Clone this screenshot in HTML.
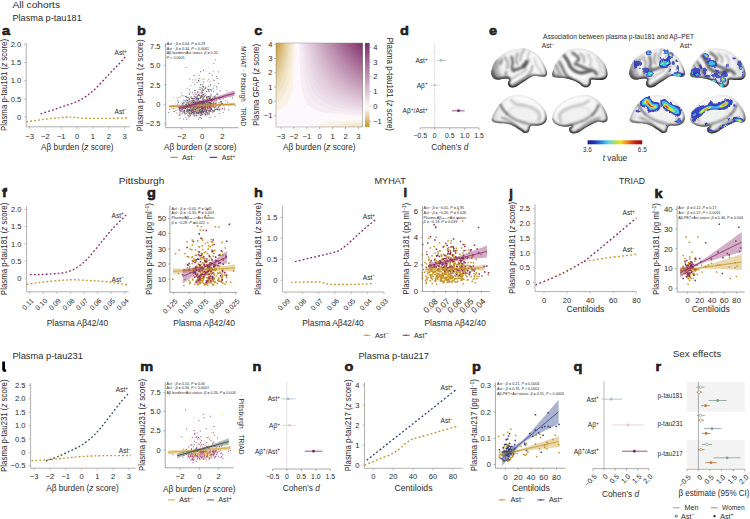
<!DOCTYPE html>
<html><head><meta charset="utf-8"><title>Figure</title>
<style>html,body{margin:0;padding:0;background:#fff}svg{display:block}text{font-family:"Liberation Sans",sans-serif;fill:#2b2b2b}</style></head>
<body>
<svg width="750" height="519" viewBox="0 0 750 519">
<defs>
<clipPath id="hclip"><rect x="276" y="43" width="86.6" height="84"/></clipPath>
<linearGradient id="cbar" x1="0" y1="0" x2="0" y2="1"><stop offset="0" stop-color="#802d69"/><stop offset="0.05" stop-color="#883a72"/><stop offset="0.1" stop-color="#90467b"/><stop offset="0.15" stop-color="#985385"/><stop offset="0.2" stop-color="#a0608e"/><stop offset="0.25" stop-color="#a86d97"/><stop offset="0.3" stop-color="#b07aa1"/><stop offset="0.35" stop-color="#b888aa"/><stop offset="0.4" stop-color="#c095b4"/><stop offset="0.45" stop-color="#c8a2be"/><stop offset="0.5" stop-color="#d1b0c7"/><stop offset="0.55" stop-color="#d9bdd1"/><stop offset="0.6" stop-color="#e1cbdb"/><stop offset="0.65" stop-color="#ead9e5"/><stop offset="0.7" stop-color="#f3e7f0"/><stop offset="0.75" stop-color="#fcf6fb"/><stop offset="0.8" stop-color="#f7eedd"/><stop offset="0.85" stop-color="#ebdab5"/><stop offset="0.9" stop-color="#dec386"/><stop offset="0.95" stop-color="#d0aa54"/><stop offset="1" stop-color="#c69830"/></linearGradient>
<filter id="bl1" filterUnits="userSpaceOnUse" x="480" y="30" width="270" height="120"><feGaussianBlur stdDeviation="1.2"/></filter>
<filter id="bl2" filterUnits="userSpaceOnUse" x="480" y="30" width="270" height="120"><feGaussianBlur stdDeviation="0.8"/></filter>
<filter id="bl3" filterUnits="userSpaceOnUse" x="480" y="30" width="270" height="120"><feGaussianBlur stdDeviation="1.8"/></filter>
<filter id="bl4" x="-20%" y="-20%" width="140%" height="140%"><feTurbulence type="fractalNoise" baseFrequency="0.22" numOctaves="2" seed="4" result="n"/><feDisplacementMap in="SourceGraphic" in2="n" scale="3.2" xChannelSelector="R" yChannelSelector="G"/><feGaussianBlur stdDeviation="0.32"/></filter>
<linearGradient id="edge" x1="0" y1="0" x2="0.25" y2="1"><stop offset="0" stop-color="#bbb" stop-opacity="0.2"/><stop offset="0.55" stop-color="#888" stop-opacity="0.4"/><stop offset="0.8" stop-color="#333" stop-opacity="0.9"/><stop offset="1" stop-color="#111" stop-opacity="1"/></linearGradient>
<filter id="bl5"><feGaussianBlur stdDeviation="0.4"/></filter>
<radialGradient id="bg1" cx="0.62" cy="0.38" r="0.75"><stop offset="0" stop-color="#ffffff"/><stop offset="0.55" stop-color="#f3f3f3"/><stop offset="0.85" stop-color="#dadada"/><stop offset="1" stop-color="#a0a0a0"/></radialGradient>
<radialGradient id="bg2" cx="0.40" cy="0.38" r="0.75"><stop offset="0" stop-color="#ffffff"/><stop offset="0.55" stop-color="#f3f3f3"/><stop offset="0.85" stop-color="#dadada"/><stop offset="1" stop-color="#a0a0a0"/></radialGradient>
<clipPath id="cb1"><path d="M491.24 71.75C491.58 69.98 492.55 66.51 493.55 64.35C494.55 62.19 495.71 60.5 497.25 58.8C498.79 57.11 500.64 55.56 502.8 54.18C504.96 52.79 507.58 51.4 510.2 50.48C512.82 49.55 516.06 49.01 518.53 48.63C520.99 48.24 522.84 47.85 525 48.16C527.16 48.47 529.32 49.32 531.48 50.48C533.64 51.63 536.1 53.25 537.95 55.1C539.8 56.95 541.27 59.42 542.58 61.58C543.89 63.73 545.05 66.05 545.82 68.05C546.59 70.06 547.28 72.21 547.2 73.6C547.13 74.99 546.59 75.88 545.35 76.38C544.12 76.87 541.81 76.64 539.8 76.56C537.8 76.49 535.18 75.61 533.33 75.91C531.48 76.22 530.4 77.38 528.7 78.41C527.01 79.45 525 80.91 523.15 82.11C521.3 83.32 519.3 84.73 517.6 85.63C515.91 86.52 514.36 87.32 512.98 87.48C511.59 87.63 510.12 87.32 509.28 86.55C508.43 85.78 507.92 84.01 507.89 82.85C507.86 81.7 509.32 80.36 509.09 79.62C508.86 78.88 507.7 78.52 506.5 78.41C505.3 78.3 503.42 78.77 501.88 78.97C500.33 79.17 498.64 79.74 497.25 79.62C495.86 79.49 494.51 79 493.55 78.23C492.59 77.46 491.9 76.07 491.52 74.99C491.13 73.91 490.9 73.53 491.24 71.75Z"/></clipPath>
<clipPath id="cb2"><path d="M552.16 73.6C552.52 72.03 553.47 68.51 554.48 66.2C555.48 63.89 556.63 61.88 558.18 59.73C559.72 57.57 561.72 55.02 563.73 53.25C565.73 51.48 567.73 49.94 570.2 49.09C572.67 48.24 575.75 48.09 578.53 48.16C581.3 48.24 584.23 48.7 586.85 49.55C589.47 50.4 591.94 51.71 594.25 53.25C596.57 54.79 598.88 56.8 600.73 58.8C602.58 60.81 604.24 63.12 605.35 65.28C606.46 67.44 607.08 69.9 607.39 71.75C607.7 73.6 607.85 75.07 607.2 76.38C606.56 77.69 605.05 79 603.5 79.62C601.96 80.23 599.96 80.08 597.95 80.08C595.95 80.08 592.68 79 591.48 79.62C590.28 80.23 591.35 82.54 590.74 83.78C590.12 85.01 589.04 86.52 587.78 87.02C586.51 87.51 584.69 87.4 583.15 86.74C581.61 86.08 580.22 84.12 578.53 83.04C576.83 81.96 574.98 81.03 572.98 80.26C570.97 79.49 568.66 78.81 566.5 78.41C564.34 78.01 562.03 78.04 560.03 77.86C558.02 77.67 555.76 77.67 554.48 77.3C553.2 76.93 552.73 76.25 552.35 75.64C551.96 75.02 551.81 75.17 552.16 73.6Z"/></clipPath>
<clipPath id="cb3"><path d="M491.7 118.68C491.98 117.1 493.24 114.51 494.48 112.2C495.71 109.89 497.4 106.96 499.1 104.8C500.8 102.64 502.65 100.76 504.65 99.25C506.66 97.74 508.66 96.43 511.13 95.74C513.59 95.04 516.68 94.96 519.45 95.09C522.23 95.21 525.16 95.63 527.78 96.48C530.4 97.32 532.87 98.63 535.18 100.18C537.49 101.72 539.88 103.72 541.65 105.73C543.43 107.73 544.95 110.04 545.82 112.2C546.68 114.36 547.07 116.83 546.83 118.68C546.6 120.53 545.76 122.15 544.43 123.3C543.1 124.46 541.04 125.21 538.88 125.62C536.72 126.02 532.99 125.32 531.48 125.71C529.97 126.09 530.28 126.94 529.81 127.93C529.35 128.91 529.5 130.76 528.7 131.63C527.9 132.49 526.24 133.23 525 133.11C523.77 132.98 522.84 131.87 521.3 130.89C519.76 129.9 517.6 128.27 515.75 127.19C513.9 126.11 512.21 125.06 510.2 124.41C508.2 123.77 505.88 123.55 503.73 123.3C501.57 123.06 499.07 123.21 497.25 122.93C495.43 122.65 493.74 122.35 492.81 121.64C491.89 120.93 491.42 120.25 491.7 118.68Z"/></clipPath>
<clipPath id="cb4"><path d="M552.16 117.75C552.36 116.44 552.7 114.05 553.55 112.2C554.4 110.35 555.71 108.35 557.25 106.65C558.79 104.96 560.64 103.49 562.8 102.03C564.96 100.56 567.58 98.94 570.2 97.86C572.82 96.78 575.75 96.01 578.53 95.55C581.3 95.09 584.23 94.78 586.85 95.09C589.47 95.4 592.09 96.24 594.25 97.4C596.41 98.56 598.11 100.18 599.8 102.03C601.5 103.88 603.2 106.34 604.43 108.5C605.66 110.66 606.74 112.97 607.2 114.98C607.67 116.98 607.82 119.26 607.2 120.53C606.59 121.79 605.05 122.38 603.5 122.56C601.96 122.75 599.96 121.33 597.95 121.64C595.95 121.95 593.64 123.33 591.48 124.41C589.32 125.49 587.01 126.88 585 128.11C583 129.35 581.3 130.92 579.45 131.81C577.6 132.71 575.49 133.43 573.9 133.48C572.31 133.52 570.7 132.98 569.92 132.09C569.15 131.2 568.95 129.15 569.28 128.11C569.6 127.08 572.33 126.14 571.87 125.89C571.4 125.65 568.47 126.6 566.5 126.63C564.53 126.66 562.03 126.63 560.03 126.08C558.02 125.52 555.76 124.3 554.48 123.3C553.2 122.3 552.73 120.99 552.35 120.06C551.96 119.14 551.96 119.06 552.16 117.75Z"/></clipPath>
<clipPath id="cb5"><path d="M629.24 71.75C629.58 69.98 630.55 66.51 631.55 64.35C632.55 62.19 633.71 60.5 635.25 58.8C636.79 57.11 638.64 55.56 640.8 54.18C642.96 52.79 645.58 51.4 648.2 50.48C650.82 49.55 654.06 49.01 656.53 48.63C658.99 48.24 660.84 47.85 663 48.16C665.16 48.47 667.32 49.32 669.48 50.48C671.64 51.63 674.1 53.25 675.95 55.1C677.8 56.95 679.27 59.42 680.58 61.58C681.89 63.73 683.05 66.05 683.82 68.05C684.59 70.06 685.28 72.21 685.2 73.6C685.13 74.99 684.59 75.88 683.35 76.38C682.12 76.87 679.81 76.64 677.8 76.56C675.8 76.49 673.18 75.61 671.33 75.91C669.48 76.22 668.4 77.38 666.7 78.41C665.01 79.45 663 80.91 661.15 82.11C659.3 83.32 657.3 84.73 655.6 85.63C653.91 86.52 652.36 87.32 650.98 87.48C649.59 87.63 648.12 87.32 647.28 86.55C646.43 85.78 645.92 84.01 645.89 82.85C645.86 81.7 647.32 80.36 647.09 79.62C646.86 78.88 645.7 78.52 644.5 78.41C643.3 78.3 641.42 78.77 639.88 78.97C638.33 79.17 636.64 79.74 635.25 79.62C633.86 79.49 632.51 79 631.55 78.23C630.59 77.46 629.9 76.07 629.52 74.99C629.13 73.91 628.9 73.53 629.24 71.75Z"/></clipPath>
<clipPath id="cb6"><path d="M690.16 73.6C690.52 72.03 691.47 68.51 692.48 66.2C693.48 63.89 694.63 61.88 696.18 59.73C697.72 57.57 699.72 55.02 701.73 53.25C703.73 51.48 705.73 49.94 708.2 49.09C710.67 48.24 713.75 48.09 716.53 48.16C719.3 48.24 722.23 48.7 724.85 49.55C727.47 50.4 729.94 51.71 732.25 53.25C734.57 54.79 736.88 56.8 738.73 58.8C740.58 60.81 742.24 63.12 743.35 65.28C744.46 67.44 745.08 69.9 745.39 71.75C745.7 73.6 745.85 75.07 745.2 76.38C744.56 77.69 743.05 79 741.5 79.62C739.96 80.23 737.96 80.08 735.95 80.08C733.95 80.08 730.68 79 729.48 79.62C728.28 80.23 729.35 82.54 728.74 83.78C728.12 85.01 727.04 86.52 725.78 87.02C724.51 87.51 722.69 87.4 721.15 86.74C719.61 86.08 718.22 84.12 716.53 83.04C714.83 81.96 712.98 81.03 710.98 80.26C708.97 79.49 706.66 78.81 704.5 78.41C702.34 78.01 700.03 78.04 698.03 77.86C696.02 77.67 693.76 77.67 692.48 77.3C691.2 76.93 690.73 76.25 690.35 75.64C689.96 75.02 689.81 75.17 690.16 73.6Z"/></clipPath>
<clipPath id="cb7"><path d="M629.7 118.68C629.98 117.1 631.24 114.51 632.48 112.2C633.71 109.89 635.4 106.96 637.1 104.8C638.8 102.64 640.65 100.76 642.65 99.25C644.66 97.74 646.66 96.43 649.13 95.74C651.59 95.04 654.68 94.96 657.45 95.09C660.23 95.21 663.16 95.63 665.78 96.48C668.4 97.32 670.87 98.63 673.18 100.18C675.49 101.72 677.88 103.72 679.65 105.73C681.43 107.73 682.95 110.04 683.82 112.2C684.68 114.36 685.07 116.83 684.83 118.68C684.6 120.53 683.76 122.15 682.43 123.3C681.1 124.46 679.04 125.21 676.88 125.62C674.72 126.02 670.99 125.32 669.48 125.71C667.97 126.09 668.28 126.94 667.81 127.93C667.35 128.91 667.5 130.76 666.7 131.63C665.9 132.49 664.24 133.23 663 133.11C661.77 132.98 660.84 131.87 659.3 130.89C657.76 129.9 655.6 128.27 653.75 127.19C651.9 126.11 650.21 125.06 648.2 124.41C646.2 123.77 643.88 123.55 641.73 123.3C639.57 123.06 637.07 123.21 635.25 122.93C633.43 122.65 631.74 122.35 630.81 121.64C629.89 120.93 629.42 120.25 629.7 118.68Z"/></clipPath>
<clipPath id="cb8"><path d="M690.16 117.75C690.36 116.44 690.7 114.05 691.55 112.2C692.4 110.35 693.71 108.35 695.25 106.65C696.79 104.96 698.64 103.49 700.8 102.03C702.96 100.56 705.58 98.94 708.2 97.86C710.82 96.78 713.75 96.01 716.53 95.55C719.3 95.09 722.23 94.78 724.85 95.09C727.47 95.4 730.09 96.24 732.25 97.4C734.41 98.56 736.11 100.18 737.8 102.03C739.5 103.88 741.2 106.34 742.43 108.5C743.66 110.66 744.74 112.97 745.2 114.98C745.67 116.98 745.82 119.26 745.2 120.53C744.59 121.79 743.05 122.38 741.5 122.56C739.96 122.75 737.96 121.33 735.95 121.64C733.95 121.95 731.64 123.33 729.48 124.41C727.32 125.49 725.01 126.88 723 128.11C721 129.35 719.3 130.92 717.45 131.81C715.6 132.71 713.49 133.43 711.9 133.48C710.31 133.52 708.7 132.98 707.92 132.09C707.15 131.2 706.95 129.15 707.28 128.11C707.6 127.08 710.33 126.14 709.87 125.89C709.4 125.65 706.47 126.6 704.5 126.63C702.53 126.66 700.03 126.63 698.03 126.08C696.02 125.52 693.76 124.3 692.48 123.3C691.2 122.3 690.73 120.99 690.35 120.06C689.96 119.14 689.96 119.06 690.16 117.75Z"/></clipPath>
<filter id="bl6" x="-20%" y="-20%" width="140%" height="140%"><feTurbulence type="fractalNoise" baseFrequency="0.3" numOctaves="2" seed="9" result="n"/><feDisplacementMap in="SourceGraphic" in2="n" scale="1.6" xChannelSelector="R" yChannelSelector="G"/><feGaussianBlur stdDeviation="0.3"/></filter>
<linearGradient id="jet"><stop offset="0" stop-color="#1b1a80"/><stop offset="0.12" stop-color="#2230c0"/><stop offset="0.27" stop-color="#2a90e0"/><stop offset="0.38" stop-color="#58d8d8"/><stop offset="0.5" stop-color="#a8e060"/><stop offset="0.6" stop-color="#f0e020"/><stop offset="0.72" stop-color="#f08818"/><stop offset="0.86" stop-color="#d02010"/><stop offset="1" stop-color="#8e0c0c"/></linearGradient>
</defs>
<rect width="750" height="519" fill="#fff"/>
<text x="12.4" y="7.9" font-size="9.5" textLength="47.6" lengthAdjust="spacingAndGlyphs">All cohorts</text>
<text x="12.4" y="20.9" font-size="9.5" textLength="69.4" lengthAdjust="spacingAndGlyphs">Plasma p-tau181</text>
<text x="118.8" y="183.6" font-size="9.5" textLength="45.5" lengthAdjust="spacingAndGlyphs">Pittsburgh</text>
<text x="374.4" y="183.6" font-size="9.5" textLength="31.5" lengthAdjust="spacingAndGlyphs">MYHAT</text>
<text x="619" y="183.6" font-size="9.5" textLength="26" lengthAdjust="spacingAndGlyphs">TRIAD</text>
<text x="12.4" y="358.6" font-size="9.5" textLength="70.5" lengthAdjust="spacingAndGlyphs">Plasma p-tau231</text>
<text x="358.4" y="358.7" font-size="9.5" textLength="70.6" lengthAdjust="spacingAndGlyphs">Plasma p-tau217</text>
<text x="672.7" y="357" font-size="9.5" textLength="48.6" lengthAdjust="spacingAndGlyphs">Sex effects</text>
<text x="2" y="34.5" font-size="13" font-weight="bold" textLength="8.1" lengthAdjust="spacingAndGlyphs" fill="#000" stroke="#000" stroke-width="0.5">a</text>
<text x="137" y="34.5" font-size="13" font-weight="bold" textLength="8.9" lengthAdjust="spacingAndGlyphs" fill="#000" stroke="#000" stroke-width="0.5">b</text>
<text x="254.3" y="34.5" font-size="13" font-weight="bold" textLength="8.1" lengthAdjust="spacingAndGlyphs" fill="#000" stroke="#000" stroke-width="0.5">c</text>
<text x="400" y="34.5" font-size="13" font-weight="bold" textLength="8.9" lengthAdjust="spacingAndGlyphs" fill="#000" stroke="#000" stroke-width="0.5">d</text>
<text x="489" y="34.6" font-size="13" font-weight="bold" textLength="8.1" lengthAdjust="spacingAndGlyphs" fill="#000" stroke="#000" stroke-width="0.5">e</text>
<text x="2" y="197" font-size="13" font-weight="bold" textLength="4.85" lengthAdjust="spacingAndGlyphs" fill="#000" stroke="#000" stroke-width="0.5">f</text>
<text x="147" y="197" font-size="13" font-weight="bold" textLength="8.9" lengthAdjust="spacingAndGlyphs" fill="#000" stroke="#000" stroke-width="0.5">g</text>
<text x="254" y="197.3" font-size="13" font-weight="bold" textLength="8.9" lengthAdjust="spacingAndGlyphs" fill="#000" stroke="#000" stroke-width="0.5">h</text>
<text x="403.5" y="197.3" font-size="13" font-weight="bold" fill="#000" stroke="#000" stroke-width="0.5">i</text>
<text x="509.3" y="197.5" font-size="13" font-weight="bold" fill="#000" stroke="#000" stroke-width="0.5">j</text>
<text x="654.5" y="197.5" font-size="13" font-weight="bold" textLength="8.1" lengthAdjust="spacingAndGlyphs" fill="#000" stroke="#000" stroke-width="0.5">k</text>
<path d="M2.2 361.6h2.8v7q0 1.1 1.2 1.1v2q-4 0.4-4-2.8z" stroke="none" stroke-width="1" fill="#000"/>
<text x="140.3" y="371.3" font-size="13" font-weight="bold" textLength="12.94" lengthAdjust="spacingAndGlyphs" fill="#000" stroke="#000" stroke-width="0.5">m</text>
<text x="252.5" y="371.3" font-size="13" font-weight="bold" textLength="8.9" lengthAdjust="spacingAndGlyphs" fill="#000" stroke="#000" stroke-width="0.5">n</text>
<text x="344.5" y="371.1" font-size="13" font-weight="bold" textLength="8.9" lengthAdjust="spacingAndGlyphs" fill="#000" stroke="#000" stroke-width="0.5">o</text>
<text x="472" y="371.3" font-size="13" font-weight="bold" textLength="8.9" lengthAdjust="spacingAndGlyphs" fill="#000" stroke="#000" stroke-width="0.5">p</text>
<text x="573.6" y="371.3" font-size="13" font-weight="bold" textLength="8.9" lengthAdjust="spacingAndGlyphs" fill="#000" stroke="#000" stroke-width="0.5">q</text>
<text x="655.6" y="371.3" font-size="13" font-weight="bold" textLength="5.66" lengthAdjust="spacingAndGlyphs" fill="#000" stroke="#000" stroke-width="0.5">r</text>
<path d="M26.2 43V126.8H130" stroke="#b0b0b0" stroke-width="1" fill="none"/>
<path d="M29.55 126.8v2M45.4 126.8v2M61.25 126.8v2M77.1 126.8v2M92.95 126.8v2M108.8 126.8v2M124.65 126.8v2M26.2 117.1h-2M26.2 98.9h-2M26.2 80.7h-2M26.2 62.5h-2M26.2 44.3h-2" stroke="#b0b0b0" stroke-width="0.8" fill="none"/>
<text x="29.55" y="138.8" font-size="7.6" text-anchor="middle">−3</text>
<text x="45.4" y="138.8" font-size="7.6" text-anchor="middle">−2</text>
<text x="61.25" y="138.8" font-size="7.6" text-anchor="middle">−1</text>
<text x="77.1" y="138.8" font-size="7.6" text-anchor="middle">0</text>
<text x="92.95" y="138.8" font-size="7.6" text-anchor="middle">1</text>
<text x="108.8" y="138.8" font-size="7.6" text-anchor="middle">2</text>
<text x="124.65" y="138.8" font-size="7.6" text-anchor="middle">3</text>
<text x="21.2" y="119.84" font-size="7.6" text-anchor="end">0</text>
<text x="21.2" y="101.64" font-size="7.6" text-anchor="end">0.5</text>
<text x="21.2" y="83.44" font-size="7.6" text-anchor="end">1.0</text>
<text x="21.2" y="65.24" font-size="7.6" text-anchor="end">1.5</text>
<text x="21.2" y="47.04" font-size="7.6" text-anchor="end">2.0</text>
<text x="7" y="84.9" font-size="8.3" text-anchor="middle" transform="rotate(-90 7 84.9)" textLength="92" lengthAdjust="spacingAndGlyphs">Plasma p-tau181 (<tspan font-style="italic">z</tspan> score)</text>
<text x="77.3" y="149.6" font-size="8.6" text-anchor="middle" textLength="72.5" lengthAdjust="spacingAndGlyphs">Aβ burden (<tspan font-style="italic">z</tspan> score)</text>
<path d="M40.64 113.82C42.76 113.16 49.1 111.22 53.32 109.82C57.55 108.42 62.04 106.85 66 105.45C69.97 104.06 73.67 103.03 77.1 101.45C80.53 99.87 83.44 98.23 86.61 95.99C89.78 93.74 92.42 91.56 96.12 87.98C99.82 84.4 105.1 78.39 108.8 74.51C112.5 70.63 115.3 67.9 118.31 64.68C121.32 61.47 125.44 56.8 126.87 55.22" stroke="#8c2a6c" stroke-width="1.35" fill="none" stroke-dasharray="1.8 2.15"/>
<path d="M26.38 121.83C28.49 121.53 34.57 120.62 39.06 120.01C43.55 119.41 48.83 118.65 53.32 118.19C57.82 117.74 62.7 117.46 66 117.28C69.31 117.1 70.76 116.98 73.14 117.1C75.51 117.22 76.97 117.8 80.27 118.01C83.57 118.22 88.19 118.31 92.95 118.37C97.71 118.43 102.99 118.43 108.8 118.37C114.61 118.31 124.65 118.07 127.82 118.01" stroke="#c6952a" stroke-width="1.35" fill="none" stroke-dasharray="1.8 2.15"/>
<text x="114.5" y="55.3" font-size="6.6">Ast<tspan dy="-2.18" font-size="4.75">+</tspan></text>
<text x="114.5" y="113.5" font-size="6.6">Ast<tspan dy="-2.18" font-size="4.75">−</tspan></text>
<path d="M204.17 107.01h0.85v0.85h-0.85zM209 105.07h0.85v0.85h-0.85zM204.01 103.48h0.85v0.85h-0.85zM187.43 110.06h0.85v0.85h-0.85zM209.85 83.88h0.85v0.85h-0.85zM205.19 103h0.85v0.85h-0.85zM195.21 99.22h0.85v0.85h-0.85zM206.56 98.24h0.85v0.85h-0.85zM204.36 110.66h0.85v0.85h-0.85zM203.65 102.57h0.85v0.85h-0.85zM200.95 108.82h0.85v0.85h-0.85zM206.21 109.66h0.85v0.85h-0.85zM193.18 104.99h0.85v0.85h-0.85zM199.01 109.61h0.85v0.85h-0.85zM195.77 97.62h0.85v0.85h-0.85zM206.74 110.13h0.85v0.85h-0.85zM201.06 106.64h0.85v0.85h-0.85zM197.69 110.71h0.85v0.85h-0.85zM192.72 108.56h0.85v0.85h-0.85zM198.05 108.66h0.85v0.85h-0.85zM200.74 111.65h0.85v0.85h-0.85zM197.86 103.81h0.85v0.85h-0.85zM213.79 110.94h0.85v0.85h-0.85zM210.88 108.1h0.85v0.85h-0.85zM173.14 105.54h0.85v0.85h-0.85zM181.49 104.42h0.85v0.85h-0.85zM198.89 95.08h0.85v0.85h-0.85zM196.37 105.76h0.85v0.85h-0.85zM202.83 81.57h0.85v0.85h-0.85zM202.87 96.82h0.85v0.85h-0.85zM222.16 108.02h0.85v0.85h-0.85zM189.37 112.11h0.85v0.85h-0.85zM196.83 103.32h0.85v0.85h-0.85zM221.39 103.67h0.85v0.85h-0.85zM207.22 101.46h0.85v0.85h-0.85zM207.39 102.03h0.85v0.85h-0.85zM195.44 108.26h0.85v0.85h-0.85zM183.93 111.85h0.85v0.85h-0.85zM202.36 88.82h0.85v0.85h-0.85zM201.77 84.77h0.85v0.85h-0.85zM188.2 103.81h0.85v0.85h-0.85zM193.73 104.91h0.85v0.85h-0.85zM199.93 97.64h0.85v0.85h-0.85zM191.07 106.85h0.85v0.85h-0.85zM199.66 105.03h0.85v0.85h-0.85zM201.63 90.11h0.85v0.85h-0.85zM201.02 112.75h0.85v0.85h-0.85zM195.52 105.04h0.85v0.85h-0.85zM206.69 104.65h0.85v0.85h-0.85zM209.71 104.73h0.85v0.85h-0.85zM203.92 105.61h0.85v0.85h-0.85zM192.35 79.43h0.85v0.85h-0.85zM208.09 106.18h0.85v0.85h-0.85zM195.57 96.78h0.85v0.85h-0.85zM209.58 116.94h0.85v0.85h-0.85zM189.78 107.07h0.85v0.85h-0.85zM209.94 98.56h0.85v0.85h-0.85zM200.46 112.04h0.85v0.85h-0.85zM187.99 109.16h0.85v0.85h-0.85zM197.47 101.81h0.85v0.85h-0.85zM201.21 110.53h0.85v0.85h-0.85zM203.43 103.46h0.85v0.85h-0.85zM190.69 109.95h0.85v0.85h-0.85zM189.42 116.02h0.85v0.85h-0.85zM202.69 112.3h0.85v0.85h-0.85zM195.92 98.67h0.85v0.85h-0.85zM203.05 86.19h0.85v0.85h-0.85zM208.37 107.45h0.85v0.85h-0.85zM183.92 106.94h0.85v0.85h-0.85zM203.24 111h0.85v0.85h-0.85zM213.09 91.39h0.85v0.85h-0.85zM197.64 95.27h0.85v0.85h-0.85zM192.43 107.75h0.85v0.85h-0.85zM208.3 104.15h0.85v0.85h-0.85zM203.23 107.61h0.85v0.85h-0.85zM209.75 95.46h0.85v0.85h-0.85zM197.16 92.46h0.85v0.85h-0.85zM185.62 104.25h0.85v0.85h-0.85zM199.54 102.39h0.85v0.85h-0.85zM196.13 103.19h0.85v0.85h-0.85zM208.53 108.49h0.85v0.85h-0.85zM202.63 109.93h0.85v0.85h-0.85zM184.11 99.74h0.85v0.85h-0.85zM188.53 103.77h0.85v0.85h-0.85zM209.63 96.34h0.85v0.85h-0.85zM207.56 103h0.85v0.85h-0.85zM194.16 101.31h0.85v0.85h-0.85zM200.65 109.13h0.85v0.85h-0.85zM205.18 94.94h0.85v0.85h-0.85zM205.41 101.63h0.85v0.85h-0.85zM209.55 107.26h0.85v0.85h-0.85zM203.26 111.59h0.85v0.85h-0.85zM199.7 107.29h0.85v0.85h-0.85zM198.03 118.71h0.85v0.85h-0.85zM211.38 104.53h0.85v0.85h-0.85zM177.81 106.59h0.85v0.85h-0.85zM199.25 104.36h0.85v0.85h-0.85zM200.99 87.72h0.85v0.85h-0.85zM186.19 103.59h0.85v0.85h-0.85zM204.04 110.17h0.85v0.85h-0.85zM194.05 112.64h0.85v0.85h-0.85zM209.41 110.17h0.85v0.85h-0.85zM199.39 110.53h0.85v0.85h-0.85zM207.45 105.42h0.85v0.85h-0.85zM213.03 102.11h0.85v0.85h-0.85zM204.55 115.41h0.85v0.85h-0.85zM191.77 109.91h0.85v0.85h-0.85zM185.29 104.33h0.85v0.85h-0.85zM218.46 102.3h0.85v0.85h-0.85zM199.53 101.36h0.85v0.85h-0.85zM193.67 113.82h0.85v0.85h-0.85zM202.12 102.55h0.85v0.85h-0.85zM198.72 113.63h0.85v0.85h-0.85zM209.31 101.32h0.85v0.85h-0.85zM201 100.88h0.85v0.85h-0.85zM200.8 96.83h0.85v0.85h-0.85zM193.41 105.22h0.85v0.85h-0.85zM205.43 93.66h0.85v0.85h-0.85zM190.17 110.3h0.85v0.85h-0.85zM207.42 108.18h0.85v0.85h-0.85zM216.13 100.31h0.85v0.85h-0.85zM185.18 108.16h0.85v0.85h-0.85zM175.63 109.59h0.85v0.85h-0.85zM206.92 112.2h0.85v0.85h-0.85zM226.52 90.53h0.85v0.85h-0.85zM190.5 104.91h0.85v0.85h-0.85zM187.97 111.31h0.85v0.85h-0.85zM206.64 108.36h0.85v0.85h-0.85zM192.13 100.15h0.85v0.85h-0.85zM195.52 106.45h0.85v0.85h-0.85zM197.13 108.3h0.85v0.85h-0.85zM206.06 111.11h0.85v0.85h-0.85zM196.55 109.77h0.85v0.85h-0.85zM203.48 105.44h0.85v0.85h-0.85zM198.87 98.18h0.85v0.85h-0.85zM192.09 110.14h0.85v0.85h-0.85zM197.41 99.36h0.85v0.85h-0.85zM191.01 111.6h0.85v0.85h-0.85zM200.73 108.27h0.85v0.85h-0.85zM189.25 104.18h0.85v0.85h-0.85zM189.57 104.63h0.85v0.85h-0.85zM215.45 108.93h0.85v0.85h-0.85zM200.12 71.28h0.85v0.85h-0.85zM200.11 104.87h0.85v0.85h-0.85zM205.85 113.61h0.85v0.85h-0.85zM196.39 106.02h0.85v0.85h-0.85zM198.34 94.6h0.85v0.85h-0.85zM204.98 104.38h0.85v0.85h-0.85zM203.53 86.21h0.85v0.85h-0.85zM188.89 110.26h0.85v0.85h-0.85zM209.12 107.52h0.85v0.85h-0.85zM194.67 107.13h0.85v0.85h-0.85zM189.94 100.63h0.85v0.85h-0.85zM191.52 108.53h0.85v0.85h-0.85zM196.7 100.62h0.85v0.85h-0.85zM217.18 109.11h0.85v0.85h-0.85zM188.73 102.33h0.85v0.85h-0.85zM202.28 110.26h0.85v0.85h-0.85zM178.96 109.43h0.85v0.85h-0.85zM200.64 103.16h0.85v0.85h-0.85zM209.79 97.11h0.85v0.85h-0.85zM198.26 79.93h0.85v0.85h-0.85zM194.27 109.07h0.85v0.85h-0.85zM203.01 100.97h0.85v0.85h-0.85zM207.77 99.92h0.85v0.85h-0.85zM207.4 109.51h0.85v0.85h-0.85zM220.68 102.98h0.85v0.85h-0.85zM202.78 106.12h0.85v0.85h-0.85zM194.65 103.21h0.85v0.85h-0.85zM199.38 109.21h0.85v0.85h-0.85zM199.92 105.18h0.85v0.85h-0.85zM201.76 103.92h0.85v0.85h-0.85zM200.36 105.58h0.85v0.85h-0.85zM202.43 106.7h0.85v0.85h-0.85zM183.7 111.29h0.85v0.85h-0.85zM209.08 102.1h0.85v0.85h-0.85zM194.83 106.69h0.85v0.85h-0.85zM188.75 101.06h0.85v0.85h-0.85zM207.13 107.65h0.85v0.85h-0.85zM214.03 96.25h0.85v0.85h-0.85zM205.66 110.72h0.85v0.85h-0.85zM202.3 90.69h0.85v0.85h-0.85zM191.2 104.34h0.85v0.85h-0.85zM229.81 103.66h0.85v0.85h-0.85zM209.59 102.24h0.85v0.85h-0.85zM189.1 93.95h0.85v0.85h-0.85zM192.75 101.63h0.85v0.85h-0.85zM201.54 107.47h0.85v0.85h-0.85zM184.88 96.14h0.85v0.85h-0.85zM202.37 104.73h0.85v0.85h-0.85zM196 107.88h0.85v0.85h-0.85zM213.11 104.79h0.85v0.85h-0.85zM210.43 103.06h0.85v0.85h-0.85zM173.14 105.82h0.85v0.85h-0.85zM201.08 96.42h0.85v0.85h-0.85zM184.24 109.67h0.85v0.85h-0.85zM211.92 104.86h0.85v0.85h-0.85zM202.37 98.59h0.85v0.85h-0.85zM206.23 91.15h0.85v0.85h-0.85zM189.85 110.66h0.85v0.85h-0.85zM219.22 105.08h0.85v0.85h-0.85zM221.16 103.3h0.85v0.85h-0.85zM189.85 115.12h0.85v0.85h-0.85zM204.44 113.25h0.85v0.85h-0.85zM193.83 98.1h0.85v0.85h-0.85zM200.42 114.32h0.85v0.85h-0.85zM187.81 103.73h0.85v0.85h-0.85zM219.61 108.63h0.85v0.85h-0.85zM190.82 110.56h0.85v0.85h-0.85zM197.65 115.5h0.85v0.85h-0.85zM205.75 110.13h0.85v0.85h-0.85zM194.09 103.99h0.85v0.85h-0.85zM198.23 106.71h0.85v0.85h-0.85zM194.94 104.72h0.85v0.85h-0.85zM199.31 105.53h0.85v0.85h-0.85zM188.78 98.78h0.85v0.85h-0.85zM196.21 107.98h0.85v0.85h-0.85zM198.56 101.53h0.85v0.85h-0.85zM197.27 103.25h0.85v0.85h-0.85zM201.24 107.92h0.85v0.85h-0.85zM197.69 113.19h0.85v0.85h-0.85zM208.31 86.24h0.85v0.85h-0.85zM197.38 112.88h0.85v0.85h-0.85zM199.27 106.63h0.85v0.85h-0.85zM193.91 103.58h0.85v0.85h-0.85zM195.32 102.46h0.85v0.85h-0.85zM187.83 111.54h0.85v0.85h-0.85zM205.93 106.39h0.85v0.85h-0.85zM189.06 108.91h0.85v0.85h-0.85zM193.09 102.38h0.85v0.85h-0.85zM204.31 95.69h0.85v0.85h-0.85zM204.75 114.2h0.85v0.85h-0.85zM196.6 82.03h0.85v0.85h-0.85zM180.16 110.02h0.85v0.85h-0.85zM204.93 106.29h0.85v0.85h-0.85zM203.29 111.24h0.85v0.85h-0.85zM186.32 99.54h0.85v0.85h-0.85zM208.48 105.31h0.85v0.85h-0.85zM193.54 110.55h0.85v0.85h-0.85zM189.23 109.93h0.85v0.85h-0.85zM201.63 106.87h0.85v0.85h-0.85zM198.85 106.1h0.85v0.85h-0.85zM202.72 107.23h0.85v0.85h-0.85zM184.36 104.96h0.85v0.85h-0.85zM219.05 98.46h0.85v0.85h-0.85zM194.54 104.3h0.85v0.85h-0.85zM185.03 100.61h0.85v0.85h-0.85zM206.94 113.11h0.85v0.85h-0.85zM197.06 107.68h0.85v0.85h-0.85zM203.96 101.93h0.85v0.85h-0.85zM197.21 99.55h0.85v0.85h-0.85zM200.05 84.28h0.85v0.85h-0.85zM203.15 103.6h0.85v0.85h-0.85zM193.08 113.5h0.85v0.85h-0.85zM207.55 89.02h0.85v0.85h-0.85zM195.89 105h0.85v0.85h-0.85zM191.83 104.37h0.85v0.85h-0.85zM201.44 108.61h0.85v0.85h-0.85zM205.18 104.97h0.85v0.85h-0.85zM198.33 101.24h0.85v0.85h-0.85zM191.91 110.48h0.85v0.85h-0.85zM206.95 108.13h0.85v0.85h-0.85zM182.79 102.34h0.85v0.85h-0.85zM190.2 107.45h0.85v0.85h-0.85zM201.06 111.82h0.85v0.85h-0.85zM186.85 109.31h0.85v0.85h-0.85zM200.94 103.94h0.85v0.85h-0.85zM200.1 97.57h0.85v0.85h-0.85zM209.78 110.79h0.85v0.85h-0.85zM191.37 106.15h0.85v0.85h-0.85zM194.31 108.43h0.85v0.85h-0.85zM204.04 102.9h0.85v0.85h-0.85zM175.72 105.83h0.85v0.85h-0.85zM232.13 97.55h0.85v0.85h-0.85zM193.57 104.95h0.85v0.85h-0.85zM193.25 109.76h0.85v0.85h-0.85zM209.4 107.96h0.85v0.85h-0.85zM200.26 105.04h0.85v0.85h-0.85zM182.6 106.71h0.85v0.85h-0.85zM207.02 95.9h0.85v0.85h-0.85zM209.34 98.77h0.85v0.85h-0.85zM196.09 112.09h0.85v0.85h-0.85zM197.8 105.51h0.85v0.85h-0.85zM205.59 111.98h0.85v0.85h-0.85zM191.44 111.05h0.85v0.85h-0.85zM205.11 103.15h0.85v0.85h-0.85zM202.68 104.19h0.85v0.85h-0.85zM193.81 111.82h0.85v0.85h-0.85zM186.53 101.01h0.85v0.85h-0.85zM198.37 97.98h0.85v0.85h-0.85zM191.77 112.56h0.85v0.85h-0.85zM210.82 101.04h0.85v0.85h-0.85zM202.12 105.66h0.85v0.85h-0.85zM208.6 105.81h0.85v0.85h-0.85zM202.03 96.43h0.85v0.85h-0.85zM203.33 105.54h0.85v0.85h-0.85zM192.71 108.07h0.85v0.85h-0.85zM207.44 106.86h0.85v0.85h-0.85zM218.77 113.19h0.85v0.85h-0.85zM197.52 112.77h0.85v0.85h-0.85zM194.64 104.68h0.85v0.85h-0.85zM199.06 109.9h0.85v0.85h-0.85zM195.78 104.86h0.85v0.85h-0.85zM193.54 102.11h0.85v0.85h-0.85zM202.06 108.13h0.85v0.85h-0.85zM197.71 98.82h0.85v0.85h-0.85zM215.26 96.51h0.85v0.85h-0.85zM200.66 95.03h0.85v0.85h-0.85zM203.95 88.77h0.85v0.85h-0.85zM210.32 99.29h0.85v0.85h-0.85zM197.61 103.8h0.85v0.85h-0.85zM215.24 105.88h0.85v0.85h-0.85zM194.24 96.36h0.85v0.85h-0.85zM192.46 112.25h0.85v0.85h-0.85zM196.94 95.44h0.85v0.85h-0.85zM199.5 102.75h0.85v0.85h-0.85zM186.44 106.7h0.85v0.85h-0.85zM200.3 103.14h0.85v0.85h-0.85zM183.74 110.88h0.85v0.85h-0.85zM214.79 100.69h0.85v0.85h-0.85zM199.84 89.44h0.85v0.85h-0.85zM194.14 107.5h0.85v0.85h-0.85zM191.44 107.59h0.85v0.85h-0.85zM196.76 99.97h0.85v0.85h-0.85zM198.4 93.91h0.85v0.85h-0.85zM190.06 110.4h0.85v0.85h-0.85zM191.32 106.11h0.85v0.85h-0.85zM198.76 101.59h0.85v0.85h-0.85zM195.37 79.53h0.85v0.85h-0.85zM210.19 107.16h0.85v0.85h-0.85zM212.21 98.23h0.85v0.85h-0.85zM200.82 111.3h0.85v0.85h-0.85zM205.47 111.89h0.85v0.85h-0.85zM187.11 99.71h0.85v0.85h-0.85zM207.13 99.39h0.85v0.85h-0.85zM200.35 116.95h0.85v0.85h-0.85zM205.58 102.51h0.85v0.85h-0.85zM216.9 94.29h0.85v0.85h-0.85zM177.51 100.78h0.85v0.85h-0.85zM203.31 108.58h0.85v0.85h-0.85zM189.5 106.98h0.85v0.85h-0.85zM206.67 110.32h0.85v0.85h-0.85zM187.33 100.55h0.85v0.85h-0.85zM195.63 93.66h0.85v0.85h-0.85zM202.72 96.71h0.85v0.85h-0.85zM206.89 114.51h0.85v0.85h-0.85zM201.42 103.22h0.85v0.85h-0.85zM192.61 99.59h0.85v0.85h-0.85zM195.04 102.05h0.85v0.85h-0.85zM209.64 102.33h0.85v0.85h-0.85zM200.6 106.75h0.85v0.85h-0.85zM183.57 109.78h0.85v0.85h-0.85zM209.22 103.38h0.85v0.85h-0.85zM204.88 88.06h0.85v0.85h-0.85zM209.53 104.91h0.85v0.85h-0.85zM197.24 108.38h0.85v0.85h-0.85zM209.07 98.77h0.85v0.85h-0.85zM189.89 108.06h0.85v0.85h-0.85zM206.45 106.1h0.85v0.85h-0.85zM195.68 109.68h0.85v0.85h-0.85zM207.5 101.7h0.85v0.85h-0.85zM210.87 90.57h0.85v0.85h-0.85zM193.19 102.11h0.85v0.85h-0.85zM200.14 103.56h0.85v0.85h-0.85zM201.06 112.71h0.85v0.85h-0.85zM212.74 87.73h0.85v0.85h-0.85zM207.87 100.16h0.85v0.85h-0.85zM188.28 103.95h0.85v0.85h-0.85zM205.3 101.76h0.85v0.85h-0.85zM208.22 107.5h0.85v0.85h-0.85zM222.22 102.94h0.85v0.85h-0.85zM183.62 105.27h0.85v0.85h-0.85zM195.22 108.78h0.85v0.85h-0.85zM214.19 116.49h0.85v0.85h-0.85zM186.91 108.16h0.85v0.85h-0.85zM188.49 105.82h0.85v0.85h-0.85zM205.91 104.01h0.85v0.85h-0.85zM211 101.2h0.85v0.85h-0.85zM193.87 105.43h0.85v0.85h-0.85zM206.14 101.84h0.85v0.85h-0.85zM201.85 96.28h0.85v0.85h-0.85zM216.08 76h0.85v0.85h-0.85zM200.64 115.11h0.85v0.85h-0.85zM210.71 111.21h0.85v0.85h-0.85zM191.49 111.46h0.85v0.85h-0.85zM198.78 117.37h0.85v0.85h-0.85zM199.68 111.11h0.85v0.85h-0.85zM212.22 100.34h0.85v0.85h-0.85zM206.54 100.89h0.85v0.85h-0.85zM193.03 107.03h0.85v0.85h-0.85zM207.58 98.74h0.85v0.85h-0.85zM208.48 105h0.85v0.85h-0.85zM199.53 108.98h0.85v0.85h-0.85zM198.04 99.46h0.85v0.85h-0.85zM198.69 107.51h0.85v0.85h-0.85zM183.46 102.68h0.85v0.85h-0.85zM202.58 113h0.85v0.85h-0.85zM203.04 69.79h0.85v0.85h-0.85zM191.87 92.19h0.85v0.85h-0.85zM208.2 102.39h0.85v0.85h-0.85zM186.72 107.4h0.85v0.85h-0.85zM195.06 109.05h0.85v0.85h-0.85zM195.84 106.85h0.85v0.85h-0.85zM220.83 101.03h0.85v0.85h-0.85zM184.43 113.44h0.85v0.85h-0.85zM206.37 96.28h0.85v0.85h-0.85zM210.22 103.8h0.85v0.85h-0.85zM204.49 103.95h0.85v0.85h-0.85zM212.66 99.26h0.85v0.85h-0.85zM190.48 107.24h0.85v0.85h-0.85zM177.52 99.76h0.85v0.85h-0.85zM208.44 96.08h0.85v0.85h-0.85zM188.52 104.57h0.85v0.85h-0.85zM197.35 108.15h0.85v0.85h-0.85zM188.69 109.66h0.85v0.85h-0.85zM211.34 103.27h0.85v0.85h-0.85zM209.44 104.7h0.85v0.85h-0.85zM193.35 110.98h0.85v0.85h-0.85zM209.83 108.76h0.85v0.85h-0.85zM201.89 103.78h0.85v0.85h-0.85zM199.25 87.45h0.85v0.85h-0.85zM201.24 117.94h0.85v0.85h-0.85zM198.6 103.83h0.85v0.85h-0.85zM206.9 107.07h0.85v0.85h-0.85zM203.81 103.12h0.85v0.85h-0.85zM197.11 103.35h0.85v0.85h-0.85zM210.87 105.58h0.85v0.85h-0.85zM194.45 111.66h0.85v0.85h-0.85zM203.57 110.76h0.85v0.85h-0.85zM204.94 114.37h0.85v0.85h-0.85zM215.67 100.13h0.85v0.85h-0.85zM195.53 98.88h0.85v0.85h-0.85zM218.35 107.43h0.85v0.85h-0.85zM202.45 107.77h0.85v0.85h-0.85zM198.69 102.48h0.85v0.85h-0.85zM193.83 106.07h0.85v0.85h-0.85zM206.61 99.93h0.85v0.85h-0.85zM201.16 101.82h0.85v0.85h-0.85zM189.46 114.47h0.85v0.85h-0.85zM189.21 97.97h0.85v0.85h-0.85zM195.02 110.53h0.85v0.85h-0.85zM193.8 115.56h0.85v0.85h-0.85zM211.73 74.85h0.85v0.85h-0.85zM214.62 109.59h0.85v0.85h-0.85zM209.48 97.11h0.85v0.85h-0.85zM204.29 109.17h0.85v0.85h-0.85zM196.31 113.6h0.85v0.85h-0.85zM201.21 107.82h0.85v0.85h-0.85zM209.64 97.68h0.85v0.85h-0.85zM222.29 107.76h0.85v0.85h-0.85zM209.93 103.9h0.85v0.85h-0.85zM197.81 106.66h0.85v0.85h-0.85zM201.05 95.33h0.85v0.85h-0.85zM195.76 115.31h0.85v0.85h-0.85zM192.72 93.96h0.85v0.85h-0.85zM198.79 77.9h0.85v0.85h-0.85zM202.65 109.09h0.85v0.85h-0.85zM219.29 105.44h0.85v0.85h-0.85zM201.19 91.38h0.85v0.85h-0.85zM214.44 107.69h0.85v0.85h-0.85zM218.6 113.17h0.85v0.85h-0.85zM201.46 101.12h0.85v0.85h-0.85zM216.98 108.83h0.85v0.85h-0.85zM207.92 106h0.85v0.85h-0.85zM196.42 103.69h0.85v0.85h-0.85zM203.35 106.08h0.85v0.85h-0.85zM200.89 107.45h0.85v0.85h-0.85zM198.3 105.81h0.85v0.85h-0.85zM198.64 89.15h0.85v0.85h-0.85zM202.12 102.95h0.85v0.85h-0.85zM205.07 108.16h0.85v0.85h-0.85zM191.68 110.77h0.85v0.85h-0.85zM200.56 111.3h0.85v0.85h-0.85zM185.21 105.63h0.85v0.85h-0.85zM203.31 105.04h0.85v0.85h-0.85zM206.99 103.79h0.85v0.85h-0.85zM202.32 86.28h0.85v0.85h-0.85zM203.56 99.26h0.85v0.85h-0.85zM206.65 105.3h0.85v0.85h-0.85zM193.91 90.12h0.85v0.85h-0.85zM198.23 110.23h0.85v0.85h-0.85zM205.85 110.89h0.85v0.85h-0.85zM210.83 107.14h0.85v0.85h-0.85zM204.67 111.58h0.85v0.85h-0.85zM226.57 101.41h0.85v0.85h-0.85zM199.73 112.53h0.85v0.85h-0.85zM210.81 99.1h0.85v0.85h-0.85zM213.52 99.03h0.85v0.85h-0.85zM199.3 111.59h0.85v0.85h-0.85zM192.33 108.96h0.85v0.85h-0.85zM188.66 93.23h0.85v0.85h-0.85zM202.31 114.26h0.85v0.85h-0.85zM211.93 105.24h0.85v0.85h-0.85zM203.42 102.32h0.85v0.85h-0.85zM202.41 98.81h0.85v0.85h-0.85zM196.81 102.07h0.85v0.85h-0.85zM206.35 104.16h0.85v0.85h-0.85zM178.98 113.81h0.85v0.85h-0.85zM203.02 99.29h0.85v0.85h-0.85zM200.95 100.55h0.85v0.85h-0.85zM186.75 110.27h0.85v0.85h-0.85zM222.74 111.98h0.85v0.85h-0.85zM186.58 107.18h0.85v0.85h-0.85zM189.72 104.72h0.85v0.85h-0.85zM188.47 110.03h0.85v0.85h-0.85zM211.93 105.11h0.85v0.85h-0.85zM191.65 98.31h0.85v0.85h-0.85zM207.45 102.61h0.85v0.85h-0.85zM206.62 103.84h0.85v0.85h-0.85zM203.3 96.47h0.85v0.85h-0.85zM187.39 103.42h0.85v0.85h-0.85zM194.45 111.34h0.85v0.85h-0.85zM217.64 108.8h0.85v0.85h-0.85zM187.56 106.2h0.85v0.85h-0.85zM192.22 102.75h0.85v0.85h-0.85zM199.01 94.72h0.85v0.85h-0.85zM208.87 114.17h0.85v0.85h-0.85zM203.21 100.08h0.85v0.85h-0.85zM208.19 90.35h0.85v0.85h-0.85zM189.83 107.55h0.85v0.85h-0.85zM210.25 98.97h0.85v0.85h-0.85zM206.44 99.28h0.85v0.85h-0.85zM184.48 112.86h0.85v0.85h-0.85zM216.29 109.21h0.85v0.85h-0.85zM223.93 109.28h0.85v0.85h-0.85zM192.86 107.77h0.85v0.85h-0.85zM201.22 111.02h0.85v0.85h-0.85zM214.84 105.28h0.85v0.85h-0.85zM185.63 105.13h0.85v0.85h-0.85zM180.46 114.73h0.85v0.85h-0.85zM187.5 114.59h0.85v0.85h-0.85zM194.9 102.09h0.85v0.85h-0.85zM194.79 104.33h0.85v0.85h-0.85zM206.82 107.15h0.85v0.85h-0.85zM203.39 106.38h0.85v0.85h-0.85zM188.01 105.28h0.85v0.85h-0.85zM206.42 100.52h0.85v0.85h-0.85zM219.68 90.3h0.85v0.85h-0.85zM212.81 70.7h0.85v0.85h-0.85zM210.72 109.34h0.85v0.85h-0.85zM200.86 109.81h0.85v0.85h-0.85zM210.64 103.83h0.85v0.85h-0.85zM190.85 101.64h0.85v0.85h-0.85zM208.28 109.96h0.85v0.85h-0.85zM199.77 115.46h0.85v0.85h-0.85zM212.14 98.77h0.85v0.85h-0.85zM205.39 109.68h0.85v0.85h-0.85zM189.6 91.68h0.85v0.85h-0.85zM201.96 103.11h0.85v0.85h-0.85zM213.02 103.32h0.85v0.85h-0.85zM189.2 106.13h0.85v0.85h-0.85zM194.98 101.84h0.85v0.85h-0.85zM192.86 98.19h0.85v0.85h-0.85zM185.48 95.95h0.85v0.85h-0.85zM210.42 100.06h0.85v0.85h-0.85zM213.97 110.48h0.85v0.85h-0.85zM208.78 91.27h0.85v0.85h-0.85zM203.12 105.46h0.85v0.85h-0.85zM200.13 97.94h0.85v0.85h-0.85zM203.09 86.78h0.85v0.85h-0.85zM193.23 102.28h0.85v0.85h-0.85zM209.73 106.65h0.85v0.85h-0.85zM211.27 103.24h0.85v0.85h-0.85zM210.13 102.8h0.85v0.85h-0.85zM195.27 109.19h0.85v0.85h-0.85zM201.46 103.34h0.85v0.85h-0.85zM198.98 102.31h0.85v0.85h-0.85zM218.81 105.75h0.85v0.85h-0.85zM202.48 102.22h0.85v0.85h-0.85zM181.56 95.33h0.85v0.85h-0.85zM204.7 106.09h0.85v0.85h-0.85zM219.77 104.98h0.85v0.85h-0.85zM207.61 107.43h0.85v0.85h-0.85zM209.59 108.57h0.85v0.85h-0.85zM201.03 106.04h0.85v0.85h-0.85zM180.65 110.34h0.85v0.85h-0.85zM182.29 109.77h0.85v0.85h-0.85zM188.01 111.21h0.85v0.85h-0.85zM199.37 104.36h0.85v0.85h-0.85zM203.81 110.46h0.85v0.85h-0.85zM207.66 104.69h0.85v0.85h-0.85zM197.2 112.12h0.85v0.85h-0.85zM210.37 108.62h0.85v0.85h-0.85zM197.82 99.98h0.85v0.85h-0.85zM193.51 102.58h0.85v0.85h-0.85zM209.3 105.72h0.85v0.85h-0.85zM191.38 105.01h0.85v0.85h-0.85zM172.96 107.9h0.85v0.85h-0.85zM189.9 100.77h0.85v0.85h-0.85zM201.62 109.16h0.85v0.85h-0.85zM169.4 109.27h0.85v0.85h-0.85zM197.04 101.15h0.85v0.85h-0.85zM197.29 110.59h0.85v0.85h-0.85zM186.18 102.49h0.85v0.85h-0.85zM185.61 111.62h0.85v0.85h-0.85zM195.97 106.15h0.85v0.85h-0.85zM195.11 106.66h0.85v0.85h-0.85zM213.45 105.94h0.85v0.85h-0.85zM204.46 105.71h0.85v0.85h-0.85zM184.61 108.54h0.85v0.85h-0.85zM191.99 111.89h0.85v0.85h-0.85zM207.82 89.27h0.85v0.85h-0.85zM219.9 101.38h0.85v0.85h-0.85zM204.58 100.86h0.85v0.85h-0.85zM203.81 100.53h0.85v0.85h-0.85zM219.55 103.95h0.85v0.85h-0.85zM200.43 101.26h0.85v0.85h-0.85zM197.52 97.56h0.85v0.85h-0.85zM186.32 110.34h0.85v0.85h-0.85zM195.45 102.78h0.85v0.85h-0.85zM222.77 98.42h0.85v0.85h-0.85zM186.23 110.37h0.85v0.85h-0.85zM200.77 112.63h0.85v0.85h-0.85zM186.37 95.7h0.85v0.85h-0.85zM201.96 94.67h0.85v0.85h-0.85zM209.67 104.9h0.85v0.85h-0.85zM198.19 112.16h0.85v0.85h-0.85zM208.07 107.14h0.85v0.85h-0.85zM207.98 95.91h0.85v0.85h-0.85zM205.2 108.03h0.85v0.85h-0.85zM218.08 83.24h0.85v0.85h-0.85zM208.57 111.09h0.85v0.85h-0.85zM197.56 105.48h0.85v0.85h-0.85zM193.75 75.1h0.85v0.85h-0.85zM192.08 108.38h0.85v0.85h-0.85zM205.49 107.93h0.85v0.85h-0.85zM197.37 99.86h0.85v0.85h-0.85zM228.36 109.61h0.85v0.85h-0.85zM219.36 109.19h0.85v0.85h-0.85zM198.48 112.89h0.85v0.85h-0.85zM197.32 91.28h0.85v0.85h-0.85zM217.82 71.51h0.85v0.85h-0.85zM181.54 108.89h0.85v0.85h-0.85zM196.08 104.81h0.85v0.85h-0.85zM210.31 102.3h0.85v0.85h-0.85zM191.4 105.47h0.85v0.85h-0.85zM195.82 110.65h0.85v0.85h-0.85zM197.1 104.38h0.85v0.85h-0.85zM207.37 99.88h0.85v0.85h-0.85zM202.06 111.09h0.85v0.85h-0.85zM204.74 107.45h0.85v0.85h-0.85zM206.7 107.97h0.85v0.85h-0.85zM200.96 107.48h0.85v0.85h-0.85zM211.93 110.31h0.85v0.85h-0.85zM193.26 109.59h0.85v0.85h-0.85zM186.08 97.15h0.85v0.85h-0.85zM182.62 104.35h0.85v0.85h-0.85zM184.21 110.2h0.85v0.85h-0.85zM195.07 107.1h0.85v0.85h-0.85zM211.11 102.88h0.85v0.85h-0.85zM202.43 108.05h0.85v0.85h-0.85zM194.58 104.66h0.85v0.85h-0.85zM189.8 110.37h0.85v0.85h-0.85zM195.29 108.77h0.85v0.85h-0.85zM196.56 105.37h0.85v0.85h-0.85zM194.92 109.23h0.85v0.85h-0.85zM186.12 118.57h0.85v0.85h-0.85zM195.83 102.99h0.85v0.85h-0.85zM210.98 104.14h0.85v0.85h-0.85zM178.59 106.73h0.85v0.85h-0.85zM198.22 111.22h0.85v0.85h-0.85zM179.13 107.25h0.85v0.85h-0.85zM202.52 94.15h0.85v0.85h-0.85zM193.07 112.6h0.85v0.85h-0.85zM179.49 118.11h0.85v0.85h-0.85zM201.68 104.61h0.85v0.85h-0.85zM219.11 104.95h0.85v0.85h-0.85zM201.77 102.35h0.85v0.85h-0.85zM212.45 96.5h0.85v0.85h-0.85zM199.93 109.3h0.85v0.85h-0.85zM178.76 111.71h0.85v0.85h-0.85zM205.64 106.33h0.85v0.85h-0.85zM196.41 104.24h0.85v0.85h-0.85zM185.82 112.97h0.85v0.85h-0.85zM208.63 89.16h0.85v0.85h-0.85zM203.57 102.23h0.85v0.85h-0.85zM195.33 104.4h0.85v0.85h-0.85zM209.47 105.6h0.85v0.85h-0.85zM191.81 103.63h0.85v0.85h-0.85zM207.19 102.47h0.85v0.85h-0.85zM191.11 112.76h0.85v0.85h-0.85zM206.08 97.3h0.85v0.85h-0.85zM189.49 109.05h0.85v0.85h-0.85zM215.78 103.77h0.85v0.85h-0.85zM203.24 108.59h0.85v0.85h-0.85zM215.2 103.37h0.85v0.85h-0.85zM192.31 102.55h0.85v0.85h-0.85zM195.83 109.22h0.85v0.85h-0.85zM209.18 102.36h0.85v0.85h-0.85zM172.81 111.23h0.85v0.85h-0.85zM189.83 113.33h0.85v0.85h-0.85zM211.15 109.02h0.85v0.85h-0.85zM205.38 106.85h0.85v0.85h-0.85zM210.59 94.15h0.85v0.85h-0.85zM197.52 101.51h0.85v0.85h-0.85zM206.38 110.56h0.85v0.85h-0.85zM193.24 104.74h0.85v0.85h-0.85zM186.73 110.19h0.85v0.85h-0.85zM183.46 95.39h0.85v0.85h-0.85zM195.06 96.44h0.85v0.85h-0.85zM195.09 105.96h0.85v0.85h-0.85zM194.27 96.3h0.85v0.85h-0.85zM168.18 112h0.85v0.85h-0.85zM180.37 105.89h0.85v0.85h-0.85zM195.25 112.67h0.85v0.85h-0.85zM203.57 79.14h0.85v0.85h-0.85zM194.79 111.37h0.85v0.85h-0.85zM191.76 100.29h0.85v0.85h-0.85zM177.23 103.98h0.85v0.85h-0.85zM221.18 101.86h0.85v0.85h-0.85zM189.48 105.78h0.85v0.85h-0.85zM217.75 106.98h0.85v0.85h-0.85zM216.5 108.37h0.85v0.85h-0.85zM203.44 106.34h0.85v0.85h-0.85zM194.85 106.69h0.85v0.85h-0.85zM202 105.52h0.85v0.85h-0.85zM188.96 89.38h0.85v0.85h-0.85zM203.31 94.69h0.85v0.85h-0.85zM200.69 112.75h0.85v0.85h-0.85zM206.06 111.02h0.85v0.85h-0.85zM210.31 89.46h0.85v0.85h-0.85zM218.25 97.86h0.85v0.85h-0.85zM196.72 108.93h0.85v0.85h-0.85zM211.25 102.88h0.85v0.85h-0.85zM192.62 101.21h0.85v0.85h-0.85zM191.58 106.15h0.85v0.85h-0.85zM194.39 109h0.85v0.85h-0.85zM190.69 108.91h0.85v0.85h-0.85zM210.61 99.88h0.85v0.85h-0.85zM210.03 104.57h0.85v0.85h-0.85zM213.57 100.73h0.85v0.85h-0.85zM200.4 104.33h0.85v0.85h-0.85zM203.44 96.46h0.85v0.85h-0.85zM194.79 104.21h0.85v0.85h-0.85zM188.98 99.24h0.85v0.85h-0.85zM205.2 109.04h0.85v0.85h-0.85zM203.38 105.82h0.85v0.85h-0.85zM189.42 78.56h0.85v0.85h-0.85zM206.6 87.74h0.85v0.85h-0.85zM182.98 118.71h0.85v0.85h-0.85zM198.84 107.57h0.85v0.85h-0.85zM194.26 105.84h0.85v0.85h-0.85zM195.29 104.43h0.85v0.85h-0.85zM189.66 104.13h0.85v0.85h-0.85zM210.33 104.92h0.85v0.85h-0.85zM206.4 90.66h0.85v0.85h-0.85zM212.67 106.48h0.85v0.85h-0.85zM201.98 112.28h0.85v0.85h-0.85zM187.48 112.17h0.85v0.85h-0.85zM196.81 105.15h0.85v0.85h-0.85zM188.57 113.07h0.85v0.85h-0.85zM205.19 86.97h0.85v0.85h-0.85zM212.83 111.32h0.85v0.85h-0.85zM203.87 108.98h0.85v0.85h-0.85zM194.44 100.15h0.85v0.85h-0.85zM196.77 96.39h0.85v0.85h-0.85zM202.59 108.62h0.85v0.85h-0.85zM185.84 104.07h0.85v0.85h-0.85zM202.03 92.3h0.85v0.85h-0.85zM202.52 101.07h0.85v0.85h-0.85zM194.97 90.27h0.85v0.85h-0.85zM196.25 112.72h0.85v0.85h-0.85zM202.22 108.69h0.85v0.85h-0.85zM192.15 107.48h0.85v0.85h-0.85zM192.13 105.78h0.85v0.85h-0.85zM208.37 102.7h0.85v0.85h-0.85zM202.72 102.57h0.85v0.85h-0.85zM217.5 93.62h0.85v0.85h-0.85zM190.43 106.43h0.85v0.85h-0.85zM182.38 103.08h0.85v0.85h-0.85zM209.99 84.54h0.85v0.85h-0.85zM210.14 102.44h0.85v0.85h-0.85zM192.92 110.39h0.85v0.85h-0.85zM185.51 66.88h0.85v0.85h-0.85zM199.93 101.66h0.85v0.85h-0.85zM182.61 110.99h0.85v0.85h-0.85zM196.92 107.27h0.85v0.85h-0.85zM178.22 102.13h0.85v0.85h-0.85zM197.94 105.13h0.85v0.85h-0.85zM178.82 108.1h0.85v0.85h-0.85zM197.93 108.26h0.85v0.85h-0.85zM215.73 102.62h0.85v0.85h-0.85zM197.61 107.48h0.85v0.85h-0.85zM208.12 101.09h0.85v0.85h-0.85zM193.79 101.89h0.85v0.85h-0.85zM191.24 110.39h0.85v0.85h-0.85zM185.08 104.4h0.85v0.85h-0.85zM210.83 106.25h0.85v0.85h-0.85zM199.68 107.12h0.85v0.85h-0.85zM216.72 78.1h0.85v0.85h-0.85zM188.28 102.93h0.85v0.85h-0.85zM197.97 79.84h0.85v0.85h-0.85zM201.03 109.28h0.85v0.85h-0.85zM214.55 109.23h0.85v0.85h-0.85zM218.7 97.22h0.85v0.85h-0.85zM193.61 107.13h0.85v0.85h-0.85zM188.68 110.35h0.85v0.85h-0.85zM182.55 104.72h0.85v0.85h-0.85zM213.74 106.84h0.85v0.85h-0.85zM199.28 110.79h0.85v0.85h-0.85zM193.58 107.59h0.85v0.85h-0.85zM199.63 109.85h0.85v0.85h-0.85zM174.18 110.96h0.85v0.85h-0.85zM182.63 106.85h0.85v0.85h-0.85zM209.63 102.91h0.85v0.85h-0.85zM204.15 96.49h0.85v0.85h-0.85zM201.66 109.8h0.85v0.85h-0.85zM189.97 106.03h0.85v0.85h-0.85zM206.09 106.76h0.85v0.85h-0.85zM218.18 105.59h0.85v0.85h-0.85zM187.7 115.3h0.85v0.85h-0.85zM200.27 96.41h0.85v0.85h-0.85zM195.7 106.81h0.85v0.85h-0.85zM203.78 99.15h0.85v0.85h-0.85zM200.26 104.04h0.85v0.85h-0.85zM198.62 111.71h0.85v0.85h-0.85zM191.16 113.49h0.85v0.85h-0.85zM199.95 101.8h0.85v0.85h-0.85zM193.88 105.47h0.85v0.85h-0.85zM198.63 74.86h0.85v0.85h-0.85zM199.47 100.31h0.85v0.85h-0.85zM206.75 97.18h0.85v0.85h-0.85zM194.2 84.25h0.85v0.85h-0.85zM196.83 100.61h0.85v0.85h-0.85zM210.99 100.08h0.85v0.85h-0.85zM197.9 108.97h0.85v0.85h-0.85zM197.45 108.43h0.85v0.85h-0.85zM208.88 72.95h0.85v0.85h-0.85zM202.88 101.15h0.85v0.85h-0.85zM201.04 110.39h0.85v0.85h-0.85zM202.35 101.39h0.85v0.85h-0.85zM187.54 96.89h0.85v0.85h-0.85zM204.8 106.46h0.85v0.85h-0.85zM213.59 99.48h0.85v0.85h-0.85zM206.04 106.85h0.85v0.85h-0.85zM184.36 102.33h0.85v0.85h-0.85zM203.05 107.43h0.85v0.85h-0.85zM190.99 101.8h0.85v0.85h-0.85zM197.89 97.92h0.85v0.85h-0.85zM201.51 107.29h0.85v0.85h-0.85zM188.1 103.86h0.85v0.85h-0.85zM213.77 85.4h0.85v0.85h-0.85zM199.53 111.48h0.85v0.85h-0.85zM208.28 110.37h0.85v0.85h-0.85zM206.68 106.22h0.85v0.85h-0.85zM213.89 109.83h0.85v0.85h-0.85zM212.35 100.53h0.85v0.85h-0.85zM185.3 105.64h0.85v0.85h-0.85zM200.71 92.16h0.85v0.85h-0.85zM178.61 96.74h0.85v0.85h-0.85zM195.75 101.9h0.85v0.85h-0.85zM207.55 105.95h0.85v0.85h-0.85zM209.57 99.98h0.85v0.85h-0.85zM213.39 62.93h0.85v0.85h-0.85zM196.48 106.42h0.85v0.85h-0.85zM203.56 107.19h0.85v0.85h-0.85zM201.31 107.01h0.85v0.85h-0.85zM213.18 79.66h0.85v0.85h-0.85zM216.45 88.69h0.85v0.85h-0.85zM196.69 100.2h0.85v0.85h-0.85zM235.17 105.46h0.85v0.85h-0.85zM200.29 87.43h0.85v0.85h-0.85zM196.61 97.87h0.85v0.85h-0.85zM206.42 100.44h0.85v0.85h-0.85zM208.04 113.5h0.85v0.85h-0.85zM205.89 102.65h0.85v0.85h-0.85zM193.76 105.02h0.85v0.85h-0.85zM215.31 102.76h0.85v0.85h-0.85zM200.92 113.38h0.85v0.85h-0.85zM215.99 86.31h0.85v0.85h-0.85zM214.53 107.42h0.85v0.85h-0.85zM187.48 102.12h0.85v0.85h-0.85zM190.47 102.59h0.85v0.85h-0.85zM190.26 96.49h0.85v0.85h-0.85zM202.96 89.83h0.85v0.85h-0.85zM200.99 112.95h0.85v0.85h-0.85zM203.17 101.74h0.85v0.85h-0.85zM192.21 97.84h0.85v0.85h-0.85zM204.79 107.72h0.85v0.85h-0.85zM214.72 59.39h0.85v0.85h-0.85zM186.92 99.76h0.85v0.85h-0.85zM198.49 112.18h0.85v0.85h-0.85zM203 93.66h0.85v0.85h-0.85zM199.17 107.9h0.85v0.85h-0.85zM198.49 80.78h0.85v0.85h-0.85zM218.45 104.02h0.85v0.85h-0.85zM213.52 106.68h0.85v0.85h-0.85zM209.12 106.54h0.85v0.85h-0.85zM192.77 104.68h0.85v0.85h-0.85zM223.25 104.72h0.85v0.85h-0.85zM204.17 105.48h0.85v0.85h-0.85zM194.64 108.34h0.85v0.85h-0.85zM197.08 107.24h0.85v0.85h-0.85zM195.54 115.15h0.85v0.85h-0.85zM222.04 103.83h0.85v0.85h-0.85zM202.6 110.71h0.85v0.85h-0.85zM201.16 105.98h0.85v0.85h-0.85zM178.67 114.81h0.85v0.85h-0.85zM208.01 101.86h0.85v0.85h-0.85zM189.78 106.47h0.85v0.85h-0.85zM189.06 113.33h0.85v0.85h-0.85zM206.75 101.36h0.85v0.85h-0.85zM191.76 110.55h0.85v0.85h-0.85zM209.01 98.01h0.85v0.85h-0.85zM211.92 102.8h0.85v0.85h-0.85zM182.37 111.57h0.85v0.85h-0.85zM199.15 103.2h0.85v0.85h-0.85zM184.55 108.1h0.85v0.85h-0.85zM199.9 101.42h0.85v0.85h-0.85zM209.79 104.1h0.85v0.85h-0.85zM186.69 87.66h0.85v0.85h-0.85zM218.82 109.58h0.85v0.85h-0.85zM197.36 103.37h0.85v0.85h-0.85zM188.5 98.62h0.85v0.85h-0.85zM199.25 103.86h0.85v0.85h-0.85zM208.54 96.15h0.85v0.85h-0.85zM186.52 107.05h0.85v0.85h-0.85zM200.52 108.73h0.85v0.85h-0.85zM186.55 97.47h0.85v0.85h-0.85zM212.71 110.04h0.85v0.85h-0.85zM202.06 106.13h0.85v0.85h-0.85zM196.17 106.62h0.85v0.85h-0.85zM210.99 109.06h0.85v0.85h-0.85zM187.4 105.19h0.85v0.85h-0.85zM196.48 100.62h0.85v0.85h-0.85zM219.21 104.91h0.85v0.85h-0.85zM199.21 103.92h0.85v0.85h-0.85zM214.24 97.37h0.85v0.85h-0.85zM202.44 97.83h0.85v0.85h-0.85zM193.36 100.04h0.85v0.85h-0.85zM197.96 98.57h0.85v0.85h-0.85zM201.24 95.83h0.85v0.85h-0.85zM196.3 104.53h0.85v0.85h-0.85zM192.09 101.01h0.85v0.85h-0.85zM192.52 111.03h0.85v0.85h-0.85zM185.39 107.31h0.85v0.85h-0.85zM201.56 108.66h0.85v0.85h-0.85zM204.44 107.98h0.85v0.85h-0.85zM208.04 102.65h0.85v0.85h-0.85zM182.11 108.7h0.85v0.85h-0.85zM208.62 112.4h0.85v0.85h-0.85zM200.26 96.88h0.85v0.85h-0.85zM185.94 111.08h0.85v0.85h-0.85zM201.43 107.65h0.85v0.85h-0.85zM208.7 110.42h0.85v0.85h-0.85zM205.74 100.86h0.85v0.85h-0.85zM207.8 97.66h0.85v0.85h-0.85zM210.03 110.36h0.85v0.85h-0.85zM209.53 81.45h0.85v0.85h-0.85zM200.08 103.96h0.85v0.85h-0.85z" stroke="none" stroke-width="1" fill="#2f3d58" fill-opacity="0.9"/>
<path d="M202.58 99.79h0.85v0.85h-0.85zM195.35 104.64h0.85v0.85h-0.85zM196.47 104.99h0.85v0.85h-0.85zM175.88 112.61h0.85v0.85h-0.85zM218.93 98.5h0.85v0.85h-0.85zM212.27 99.92h0.85v0.85h-0.85zM197.36 109.32h0.85v0.85h-0.85zM208.51 97.93h0.85v0.85h-0.85zM203.51 104.92h0.85v0.85h-0.85zM195.04 100.98h0.85v0.85h-0.85zM210.58 89.06h0.85v0.85h-0.85zM197.51 107.44h0.85v0.85h-0.85zM197.32 101.15h0.85v0.85h-0.85zM192.62 81.82h0.85v0.85h-0.85zM205.28 108.08h0.85v0.85h-0.85zM199.65 96.31h0.85v0.85h-0.85zM206.19 111.73h0.85v0.85h-0.85zM194.5 114.75h0.85v0.85h-0.85zM201.95 104.65h0.85v0.85h-0.85zM191.6 98.08h0.85v0.85h-0.85zM209.2 113.23h0.85v0.85h-0.85zM202.57 105.97h0.85v0.85h-0.85zM204.02 104.67h0.85v0.85h-0.85zM204.83 99.03h0.85v0.85h-0.85zM190.4 106.81h0.85v0.85h-0.85zM208.61 110.7h0.85v0.85h-0.85zM221.54 95.96h0.85v0.85h-0.85zM184.03 110.81h0.85v0.85h-0.85zM183.11 107.93h0.85v0.85h-0.85zM185.39 105.22h0.85v0.85h-0.85zM209.2 107.79h0.85v0.85h-0.85zM201.97 114.29h0.85v0.85h-0.85zM211.61 97.82h0.85v0.85h-0.85zM207.99 99.63h0.85v0.85h-0.85zM202.8 99.01h0.85v0.85h-0.85zM203.54 105.49h0.85v0.85h-0.85zM198.94 111.52h0.85v0.85h-0.85zM209.47 105.32h0.85v0.85h-0.85zM189.19 98.01h0.85v0.85h-0.85zM196.38 106.98h0.85v0.85h-0.85zM203.13 98.35h0.85v0.85h-0.85zM218.94 97.35h0.85v0.85h-0.85zM192.9 111.91h0.85v0.85h-0.85zM189.71 114.67h0.85v0.85h-0.85zM194.94 102.34h0.85v0.85h-0.85zM210.5 106.09h0.85v0.85h-0.85zM198.27 101.64h0.85v0.85h-0.85zM214.1 80.21h0.85v0.85h-0.85zM181.65 101.54h0.85v0.85h-0.85zM212.11 100.13h0.85v0.85h-0.85zM211.16 102.57h0.85v0.85h-0.85zM186.26 106.89h0.85v0.85h-0.85zM202.22 101.95h0.85v0.85h-0.85zM213 110.9h0.85v0.85h-0.85zM201.55 100.45h0.85v0.85h-0.85zM210.81 94.83h0.85v0.85h-0.85zM224.77 100.32h0.85v0.85h-0.85zM203.44 103.21h0.85v0.85h-0.85zM197.81 105.71h0.85v0.85h-0.85zM192.83 112.24h0.85v0.85h-0.85zM207.24 103.89h0.85v0.85h-0.85zM198.66 106.68h0.85v0.85h-0.85zM198.85 106.54h0.85v0.85h-0.85zM199.59 92.55h0.85v0.85h-0.85zM207.26 104.92h0.85v0.85h-0.85zM189.84 102.69h0.85v0.85h-0.85zM185.13 113.77h0.85v0.85h-0.85zM175.96 97.43h0.85v0.85h-0.85zM212.83 106.47h0.85v0.85h-0.85zM201.41 114h0.85v0.85h-0.85zM215.99 105.84h0.85v0.85h-0.85zM200.57 104.79h0.85v0.85h-0.85zM193.13 99.5h0.85v0.85h-0.85zM205.51 113.34h0.85v0.85h-0.85zM199.88 107.07h0.85v0.85h-0.85zM187.93 107.37h0.85v0.85h-0.85zM191.68 102.2h0.85v0.85h-0.85zM218.59 105.54h0.85v0.85h-0.85zM204.26 104.15h0.85v0.85h-0.85zM204.89 110.54h0.85v0.85h-0.85zM197.85 103.35h0.85v0.85h-0.85zM193.66 109.29h0.85v0.85h-0.85zM209.71 102.9h0.85v0.85h-0.85zM199.6 111.07h0.85v0.85h-0.85zM192.96 111.02h0.85v0.85h-0.85zM199.3 104.4h0.85v0.85h-0.85zM191.47 99.93h0.85v0.85h-0.85zM202.59 104.93h0.85v0.85h-0.85zM212.12 104.39h0.85v0.85h-0.85zM192.17 109h0.85v0.85h-0.85zM215.16 95.32h0.85v0.85h-0.85zM193.88 105.05h0.85v0.85h-0.85zM202.22 91.74h0.85v0.85h-0.85zM192.17 106.11h0.85v0.85h-0.85zM198.4 111.01h0.85v0.85h-0.85zM201.14 109.14h0.85v0.85h-0.85zM196.25 110.7h0.85v0.85h-0.85zM193.53 112.75h0.85v0.85h-0.85zM193.78 101.97h0.85v0.85h-0.85zM192.33 104.05h0.85v0.85h-0.85zM184.72 113.51h0.85v0.85h-0.85zM197.99 99.36h0.85v0.85h-0.85zM204.73 105.32h0.85v0.85h-0.85zM209.88 109.99h0.85v0.85h-0.85zM207.23 104.48h0.85v0.85h-0.85zM225.6 104.29h0.85v0.85h-0.85zM203.89 109.75h0.85v0.85h-0.85zM196.03 115.48h0.85v0.85h-0.85zM219.66 99.26h0.85v0.85h-0.85zM190.03 106.47h0.85v0.85h-0.85zM210.49 116.87h0.85v0.85h-0.85zM190.97 97.84h0.85v0.85h-0.85zM204.25 103.77h0.85v0.85h-0.85zM180.68 110.59h0.85v0.85h-0.85zM209.79 105.42h0.85v0.85h-0.85zM199.05 105.18h0.85v0.85h-0.85zM190.84 100h0.85v0.85h-0.85zM217.7 106.72h0.85v0.85h-0.85zM208.43 100.24h0.85v0.85h-0.85zM201.12 112.91h0.85v0.85h-0.85zM193.09 106.42h0.85v0.85h-0.85zM200.22 105.99h0.85v0.85h-0.85zM199 109.92h0.85v0.85h-0.85zM208.02 107.95h0.85v0.85h-0.85zM208.76 111.99h0.85v0.85h-0.85zM193.88 111.01h0.85v0.85h-0.85zM195.08 107.19h0.85v0.85h-0.85zM195.26 105.84h0.85v0.85h-0.85zM186.96 111.85h0.85v0.85h-0.85zM194.66 93.97h0.85v0.85h-0.85zM199.72 109.27h0.85v0.85h-0.85zM207.67 105.55h0.85v0.85h-0.85zM214.06 103.49h0.85v0.85h-0.85zM192.46 107.73h0.85v0.85h-0.85zM206.25 100.66h0.85v0.85h-0.85zM196.15 94.14h0.85v0.85h-0.85zM221.72 96.93h0.85v0.85h-0.85zM200.17 97.02h0.85v0.85h-0.85zM205.76 110.75h0.85v0.85h-0.85zM191.16 96.57h0.85v0.85h-0.85zM192.43 110.28h0.85v0.85h-0.85zM202.71 94.84h0.85v0.85h-0.85zM196.76 108.75h0.85v0.85h-0.85zM204.25 105.15h0.85v0.85h-0.85zM184.81 116.38h0.85v0.85h-0.85zM207.38 80.39h0.85v0.85h-0.85zM191.53 110.07h0.85v0.85h-0.85zM218.14 109.4h0.85v0.85h-0.85zM197.73 107.02h0.85v0.85h-0.85zM211.8 108.69h0.85v0.85h-0.85zM186.5 108.93h0.85v0.85h-0.85zM205.01 100.14h0.85v0.85h-0.85zM191.65 114.25h0.85v0.85h-0.85zM195.72 109.56h0.85v0.85h-0.85zM200.91 110.8h0.85v0.85h-0.85zM197.44 101.36h0.85v0.85h-0.85zM203.34 111.91h0.85v0.85h-0.85zM208.25 106.94h0.85v0.85h-0.85zM207.29 103.06h0.85v0.85h-0.85zM199.77 103.83h0.85v0.85h-0.85zM186.82 110.32h0.85v0.85h-0.85zM192.49 92.4h0.85v0.85h-0.85zM198.67 105.72h0.85v0.85h-0.85zM179.12 109.68h0.85v0.85h-0.85zM208.29 103.5h0.85v0.85h-0.85zM198.23 92.69h0.85v0.85h-0.85zM198.11 104.29h0.85v0.85h-0.85zM210.29 102.42h0.85v0.85h-0.85zM207.44 107.88h0.85v0.85h-0.85zM202.9 111.75h0.85v0.85h-0.85zM190.5 85.21h0.85v0.85h-0.85zM203.81 106.05h0.85v0.85h-0.85zM204.17 93.36h0.85v0.85h-0.85zM191.68 110.36h0.85v0.85h-0.85zM211.25 100.59h0.85v0.85h-0.85zM205.82 108.13h0.85v0.85h-0.85zM180.67 107.49h0.85v0.85h-0.85zM201.9 88.41h0.85v0.85h-0.85zM187.82 106.68h0.85v0.85h-0.85zM212.19 106.11h0.85v0.85h-0.85zM208.85 105.3h0.85v0.85h-0.85zM189.46 107.29h0.85v0.85h-0.85zM191.68 105.02h0.85v0.85h-0.85zM201.69 83.86h0.85v0.85h-0.85zM198.24 103.4h0.85v0.85h-0.85zM216.14 93.34h0.85v0.85h-0.85zM208.18 107.54h0.85v0.85h-0.85zM197.79 111.84h0.85v0.85h-0.85zM206.52 109.35h0.85v0.85h-0.85zM180.03 110.9h0.85v0.85h-0.85zM203.81 103.53h0.85v0.85h-0.85zM209.45 97.73h0.85v0.85h-0.85zM198.84 112.22h0.85v0.85h-0.85zM193.45 103.41h0.85v0.85h-0.85zM206.4 109.65h0.85v0.85h-0.85zM220.54 108.19h0.85v0.85h-0.85zM202.74 107.52h0.85v0.85h-0.85zM189.29 103.8h0.85v0.85h-0.85zM215.33 115.72h0.85v0.85h-0.85zM181.59 113.29h0.85v0.85h-0.85zM205.77 105.52h0.85v0.85h-0.85zM194.75 108.84h0.85v0.85h-0.85zM210.11 109.57h0.85v0.85h-0.85zM192.04 109.85h0.85v0.85h-0.85zM214.1 99.58h0.85v0.85h-0.85zM203.71 108.41h0.85v0.85h-0.85zM183.13 100.22h0.85v0.85h-0.85zM180.63 105.2h0.85v0.85h-0.85zM197.45 108.96h0.85v0.85h-0.85zM213.8 103.64h0.85v0.85h-0.85zM201.95 100.26h0.85v0.85h-0.85zM201.34 109.29h0.85v0.85h-0.85zM198.27 111.78h0.85v0.85h-0.85zM208.15 78.94h0.85v0.85h-0.85zM204.49 104.54h0.85v0.85h-0.85zM203.51 108.84h0.85v0.85h-0.85zM190.67 105.02h0.85v0.85h-0.85zM212.72 89.64h0.85v0.85h-0.85zM214.5 102.29h0.85v0.85h-0.85zM187.45 97.22h0.85v0.85h-0.85zM224.02 107.57h0.85v0.85h-0.85zM207.99 106.32h0.85v0.85h-0.85zM195.71 105.95h0.85v0.85h-0.85zM181.33 107.29h0.85v0.85h-0.85zM207.33 112.15h0.85v0.85h-0.85zM206.32 101.25h0.85v0.85h-0.85zM194.61 92.35h0.85v0.85h-0.85zM182.49 112.53h0.85v0.85h-0.85zM212.07 103.29h0.85v0.85h-0.85zM194.69 98.12h0.85v0.85h-0.85zM195.87 106.49h0.85v0.85h-0.85zM229.54 104.71h0.85v0.85h-0.85zM222.26 108.3h0.85v0.85h-0.85zM210.34 99.54h0.85v0.85h-0.85zM196.04 105.81h0.85v0.85h-0.85zM207.25 100.74h0.85v0.85h-0.85zM177.5 103.5h0.85v0.85h-0.85zM201.74 107.53h0.85v0.85h-0.85zM192.95 105.99h0.85v0.85h-0.85zM187.61 104.79h0.85v0.85h-0.85zM184.59 104.93h0.85v0.85h-0.85zM205.99 106.95h0.85v0.85h-0.85zM201.57 109.3h0.85v0.85h-0.85zM202.28 106.44h0.85v0.85h-0.85zM209.21 109.38h0.85v0.85h-0.85zM192.07 109.91h0.85v0.85h-0.85zM188.12 116.58h0.85v0.85h-0.85zM182.63 108.04h0.85v0.85h-0.85zM197.26 111.45h0.85v0.85h-0.85zM208.38 108.41h0.85v0.85h-0.85zM199.14 100.83h0.85v0.85h-0.85zM207.17 98.69h0.85v0.85h-0.85zM188.67 99.76h0.85v0.85h-0.85zM195.9 96.89h0.85v0.85h-0.85zM192.89 113.5h0.85v0.85h-0.85zM187.99 97.01h0.85v0.85h-0.85zM219.53 102.5h0.85v0.85h-0.85zM209.31 89.47h0.85v0.85h-0.85zM192.93 110.39h0.85v0.85h-0.85zM192.88 110.49h0.85v0.85h-0.85zM200.08 101.19h0.85v0.85h-0.85zM186.02 110.77h0.85v0.85h-0.85zM205.08 114.14h0.85v0.85h-0.85zM187.52 110.81h0.85v0.85h-0.85zM196.9 98.7h0.85v0.85h-0.85zM190.26 102.56h0.85v0.85h-0.85zM195.79 99.45h0.85v0.85h-0.85zM187.15 109.57h0.85v0.85h-0.85zM184.7 105.73h0.85v0.85h-0.85zM190.85 105.34h0.85v0.85h-0.85zM193.76 95.86h0.85v0.85h-0.85zM197.67 104.51h0.85v0.85h-0.85zM201.36 93.1h0.85v0.85h-0.85zM216.16 99.59h0.85v0.85h-0.85zM208.9 98.95h0.85v0.85h-0.85zM198.09 109.01h0.85v0.85h-0.85zM208.03 105.39h0.85v0.85h-0.85zM193.67 114.58h0.85v0.85h-0.85zM215.36 106.95h0.85v0.85h-0.85zM206.24 96.25h0.85v0.85h-0.85zM186.9 108.92h0.85v0.85h-0.85zM208.33 104.28h0.85v0.85h-0.85zM208.94 106.69h0.85v0.85h-0.85zM173.4 97.5h0.85v0.85h-0.85zM193.07 101.3h0.85v0.85h-0.85zM195.85 106.2h0.85v0.85h-0.85zM181.09 110.95h0.85v0.85h-0.85zM189.83 113.25h0.85v0.85h-0.85zM191.03 102.34h0.85v0.85h-0.85zM205.81 100.17h0.85v0.85h-0.85zM203.71 103.9h0.85v0.85h-0.85zM227.32 101.89h0.85v0.85h-0.85zM196.66 96.18h0.85v0.85h-0.85zM212.37 112.35h0.85v0.85h-0.85zM201.46 107.82h0.85v0.85h-0.85zM203.41 100.19h0.85v0.85h-0.85zM188.89 111.61h0.85v0.85h-0.85zM181.26 92.53h0.85v0.85h-0.85zM192.87 100.58h0.85v0.85h-0.85zM208.4 97.17h0.85v0.85h-0.85z" stroke="none" stroke-width="1" fill="#b8457f" fill-opacity="0.9"/>
<path d="M221.38 103.41h0.85v0.85h-0.85zM174.72 102.75h0.85v0.85h-0.85zM204.9 102.27h0.85v0.85h-0.85zM194.9 113.8h0.85v0.85h-0.85zM196.07 109.12h0.85v0.85h-0.85zM198.47 106.47h0.85v0.85h-0.85zM180.16 96.37h0.85v0.85h-0.85zM198.31 108.24h0.85v0.85h-0.85zM191.88 111.05h0.85v0.85h-0.85zM234.39 105.07h0.85v0.85h-0.85zM202.95 82.44h0.85v0.85h-0.85zM197.08 108.8h0.85v0.85h-0.85zM197.8 104.58h0.85v0.85h-0.85zM193.88 103.88h0.85v0.85h-0.85zM189.95 101.93h0.85v0.85h-0.85zM196.69 99.85h0.85v0.85h-0.85zM205.55 115.24h0.85v0.85h-0.85zM198.24 103.3h0.85v0.85h-0.85zM210.38 95.3h0.85v0.85h-0.85zM198.63 106.35h0.85v0.85h-0.85zM200.91 98.76h0.85v0.85h-0.85zM216.35 100.66h0.85v0.85h-0.85zM206.19 98.57h0.85v0.85h-0.85zM195.53 106.55h0.85v0.85h-0.85zM198.8 100.02h0.85v0.85h-0.85zM206.15 107.45h0.85v0.85h-0.85zM220.3 105.54h0.85v0.85h-0.85zM197.92 103.57h0.85v0.85h-0.85zM198.19 109.33h0.85v0.85h-0.85zM210.83 96.56h0.85v0.85h-0.85zM191.66 103.21h0.85v0.85h-0.85zM197.7 90.94h0.85v0.85h-0.85zM209.62 98.88h0.85v0.85h-0.85zM206.55 107.84h0.85v0.85h-0.85zM201.59 99.69h0.85v0.85h-0.85zM207.46 102.97h0.85v0.85h-0.85zM171.95 108.06h0.85v0.85h-0.85zM211.03 104.16h0.85v0.85h-0.85zM190.92 107.71h0.85v0.85h-0.85zM183.72 101.39h0.85v0.85h-0.85zM203.47 109.32h0.85v0.85h-0.85zM207.77 101.61h0.85v0.85h-0.85zM196.15 109.91h0.85v0.85h-0.85zM189.73 111.86h0.85v0.85h-0.85zM200.93 109.76h0.85v0.85h-0.85zM200.12 108.26h0.85v0.85h-0.85zM214.93 95.34h0.85v0.85h-0.85zM208.25 66.93h0.85v0.85h-0.85zM202.63 83.71h0.85v0.85h-0.85zM211.94 103.03h0.85v0.85h-0.85zM198.57 99.95h0.85v0.85h-0.85zM191.26 106.45h0.85v0.85h-0.85zM206.59 96.32h0.85v0.85h-0.85zM206.57 107.37h0.85v0.85h-0.85zM198.48 113.82h0.85v0.85h-0.85zM192.71 104.22h0.85v0.85h-0.85zM202.99 114.04h0.85v0.85h-0.85zM175.35 106.28h0.85v0.85h-0.85zM207.66 106.16h0.85v0.85h-0.85zM205.65 86.75h0.85v0.85h-0.85zM184.03 108.56h0.85v0.85h-0.85zM201.28 78.61h0.85v0.85h-0.85zM190.87 104.65h0.85v0.85h-0.85zM208.35 108.43h0.85v0.85h-0.85zM180.01 103.14h0.85v0.85h-0.85zM191.38 107.42h0.85v0.85h-0.85zM207.86 106.65h0.85v0.85h-0.85zM212.4 102.39h0.85v0.85h-0.85zM178.76 112.32h0.85v0.85h-0.85zM195.6 107.86h0.85v0.85h-0.85zM203.99 114.28h0.85v0.85h-0.85zM194.48 107.98h0.85v0.85h-0.85zM216.8 87.26h0.85v0.85h-0.85zM188.57 98.46h0.85v0.85h-0.85zM204.26 100.98h0.85v0.85h-0.85zM190.02 108.66h0.85v0.85h-0.85zM214.93 104.81h0.85v0.85h-0.85zM200.44 103.96h0.85v0.85h-0.85zM196.88 100.83h0.85v0.85h-0.85zM183.22 106.07h0.85v0.85h-0.85zM217.73 107.15h0.85v0.85h-0.85zM208.3 113.6h0.85v0.85h-0.85zM208.31 107.18h0.85v0.85h-0.85zM212.21 106.31h0.85v0.85h-0.85zM204.2 103.62h0.85v0.85h-0.85zM194.17 112.61h0.85v0.85h-0.85zM192.54 100.64h0.85v0.85h-0.85zM192.54 99.59h0.85v0.85h-0.85zM214.57 110.37h0.85v0.85h-0.85zM185.84 110.55h0.85v0.85h-0.85zM194.61 107.64h0.85v0.85h-0.85zM197.4 109.46h0.85v0.85h-0.85zM202.94 99.07h0.85v0.85h-0.85zM206.5 105.31h0.85v0.85h-0.85zM187.98 112.23h0.85v0.85h-0.85zM183.1 111.73h0.85v0.85h-0.85zM200.62 106.99h0.85v0.85h-0.85zM212.98 95.78h0.85v0.85h-0.85zM208.34 106.8h0.85v0.85h-0.85zM202.85 105.99h0.85v0.85h-0.85zM197.44 104.84h0.85v0.85h-0.85zM203.64 106.64h0.85v0.85h-0.85zM198.19 93.11h0.85v0.85h-0.85zM208.95 108.25h0.85v0.85h-0.85zM192.6 104.3h0.85v0.85h-0.85zM202.02 96.31h0.85v0.85h-0.85zM199.54 89.62h0.85v0.85h-0.85zM206.18 99.2h0.85v0.85h-0.85zM202.94 98.97h0.85v0.85h-0.85zM226.54 104.88h0.85v0.85h-0.85zM215.87 105.2h0.85v0.85h-0.85zM215.85 109.34h0.85v0.85h-0.85zM179.96 111.77h0.85v0.85h-0.85zM197.21 104.28h0.85v0.85h-0.85zM194.48 103.09h0.85v0.85h-0.85zM206.07 103.02h0.85v0.85h-0.85zM177.53 103.7h0.85v0.85h-0.85zM212.58 98.3h0.85v0.85h-0.85zM211.49 105.62h0.85v0.85h-0.85zM187.44 101.57h0.85v0.85h-0.85zM190.73 105.11h0.85v0.85h-0.85zM192.53 107.92h0.85v0.85h-0.85zM201.1 103.59h0.85v0.85h-0.85zM207.17 100.64h0.85v0.85h-0.85zM221.45 97.01h0.85v0.85h-0.85zM198.66 108.45h0.85v0.85h-0.85zM208.45 90.58h0.85v0.85h-0.85zM202.24 78.35h0.85v0.85h-0.85zM218.52 104.6h0.85v0.85h-0.85zM208.19 101.17h0.85v0.85h-0.85zM214.55 106.05h0.85v0.85h-0.85zM189.72 97.66h0.85v0.85h-0.85zM198.71 103.5h0.85v0.85h-0.85zM192.4 105.94h0.85v0.85h-0.85zM215.94 100.23h0.85v0.85h-0.85zM207.34 109.61h0.85v0.85h-0.85zM197.56 100.65h0.85v0.85h-0.85zM196.07 101.21h0.85v0.85h-0.85zM205.58 108.23h0.85v0.85h-0.85zM193.54 106.52h0.85v0.85h-0.85zM191.21 114.18h0.85v0.85h-0.85zM205.54 108.71h0.85v0.85h-0.85zM225.66 96.62h0.85v0.85h-0.85zM198.16 110.8h0.85v0.85h-0.85zM195.02 99.37h0.85v0.85h-0.85zM188.77 108.18h0.85v0.85h-0.85zM187.11 103.73h0.85v0.85h-0.85zM205.99 106.06h0.85v0.85h-0.85zM209.3 114h0.85v0.85h-0.85zM200.75 109.18h0.85v0.85h-0.85z" stroke="none" stroke-width="1" fill="#e2b45a" fill-opacity="0.9"/>
<path d="M165.7 43V127.7H238.5" stroke="#6a6a6a" stroke-width="0.6" fill="none"/>
<path d="M181.8 127.7v1.8M202.1 127.7v1.8M222.4 127.7v1.8M165.7 123.8h-1.8M165.7 104.35h-1.8M165.7 84.9h-1.8M165.7 65.45h-1.8M165.7 46h-1.8" stroke="#6a6a6a" stroke-width="0.48" fill="none"/>
<text x="181.8" y="139" font-size="7.8" text-anchor="middle">−2</text>
<text x="202.1" y="139" font-size="7.8" text-anchor="middle">0</text>
<text x="222.4" y="139" font-size="7.8" text-anchor="middle">2</text>
<text x="160.4" y="126.46" font-size="7.4" text-anchor="end">−2.5</text>
<text x="160.4" y="107.01" font-size="7.4" text-anchor="end">0</text>
<text x="160.4" y="87.56" font-size="7.4" text-anchor="end">2.5</text>
<text x="160.4" y="68.11" font-size="7.4" text-anchor="end">5.0</text>
<text x="160.4" y="48.66" font-size="7.4" text-anchor="end">7.5</text>
<path d="M169.11 105.05L175.11 104.99L181.11 104.91L187.11 104.81L193.1 104.68L199.1 104.52L205.1 104.31L211.1 104.07L217.09 103.79L223.09 103.48L229.09 103.14L235.09 102.79L235.09 105.59L229.09 105.66L223.09 105.73L217.09 105.83L211.1 105.96L205.1 106.13L199.1 106.33L193.1 106.58L187.11 106.86L181.11 107.17L175.11 107.5L169.11 107.85Z" stroke="none" stroke-width="1" fill="#c6952a" fill-opacity="0.5"/>
<line x1="169.11" y1="106.45" x2="235.09" y2="104.19" stroke="#c6952a" stroke-width="1"/>
<path d="M178.75 106.53L183.83 105.43L188.91 104.3L193.98 103.11L199.06 101.84L204.13 100.45L209.21 98.95L214.28 97.37L219.36 95.72L224.43 94.04L229.51 92.33L234.58 90.6L234.58 96L229.51 97.06L224.43 98.14L219.36 99.24L214.28 100.38L209.21 101.58L204.13 102.87L199.06 104.28L193.98 105.79L188.91 107.39L183.83 109.04L178.75 110.73Z" stroke="none" stroke-width="1" fill="#8c2a6c" fill-opacity="0.45"/>
<line x1="178.75" y1="108.63" x2="234.58" y2="93.3" stroke="#8c2a6c" stroke-width="0.9"/>
<text x="143.2" y="85.4" font-size="8.3" text-anchor="middle" transform="rotate(-90 143.2 85.4)" textLength="92" lengthAdjust="spacingAndGlyphs">Plasma p-tau181 (<tspan font-style="italic">z</tspan> score)</text>
<text x="200.3" y="149.6" font-size="8.6" text-anchor="middle" textLength="72.5" lengthAdjust="spacingAndGlyphs">Aβ burden (<tspan font-style="italic">z</tspan> score)</text>
<line x1="170.4" y1="157.4" x2="177.9" y2="157.4" stroke="#c6952a" stroke-width="1.2"/>
<text x="182" y="159.9" font-size="7.2">Ast<tspan dy="-2.38" font-size="5.18">−</tspan></text>
<line x1="209.6" y1="157.4" x2="217.2" y2="157.4" stroke="#8c2a6c" stroke-width="1.2"/>
<text x="221.8" y="159.9" font-size="7.2">Ast<tspan dy="-2.38" font-size="5.18">+</tspan></text>
<text x="166.8" y="45.1" font-size="3.7" fill="#444">Ast<tspan dy="-1.2" font-size="2.5">−</tspan><tspan dy="1.2">:</tspan> <tspan font-style="italic">β</tspan> = 0.04, <tspan font-style="italic">P</tspan> = 0.29</text>
<text x="166.8" y="49.7" font-size="3.7" fill="#444">Ast<tspan dy="-1.2" font-size="2.5">+</tspan><tspan dy="1.2">:</tspan> <tspan font-style="italic">β</tspan> = 0.34, <tspan font-style="italic">P</tspan> &lt; 0.0001</text>
<text x="166.8" y="54.3" font-size="3.7" fill="#444">Aβ burden×Ast status: <tspan font-style="italic">β</tspan> = 0.31,</text>
<text x="166.8" y="58.9" font-size="3.7" fill="#444"><tspan font-style="italic">P</tspan> &lt; 0.0001</text>
<text x="241.3" y="42.5" font-size="7" transform="rotate(90 241.3 42.5)" textLength="83.5" lengthAdjust="spacingAndGlyphs" fill="#222"><tspan fill="#33415c">·</tspan> MYHAT <tspan fill="#b8457f">·</tspan> Pittsburgh <tspan fill="#e2b45a">·</tspan> TRIAD</text>
<g clip-path="url(#hclip)">
<rect x="276" y="43" width="86.6" height="84" fill="#fdf8fc"/>
<path d="M297.95 -53.76L298.15 -21.37L298.39 4.91L298.68 26.22L299.04 43.52L299.49 57.54L300.03 68.93L300.71 78.16L301.55 85.65L302.57 91.73L303.84 96.66L305.4 100.65L307.33 103.9L309.71 106.53L312.63 108.67L316.24 110.4L320.69 111.8L326.17 112.94L332.93 113.87L341.26 114.62L351.52 115.23L364.18 115.72L379.78 116.12L399.01 116.45L422.71 116.71L451.93 116.93L451.93 -53.76Z" stroke="none" stroke-width="1" fill="#f7eef4"/>
<path d="M298.78 -53.76L299.11 -25.28L299.51 -1.53L299.98 18.28L300.55 34.8L301.23 48.58L302.05 60.07L303.03 69.66L304.21 77.65L305.62 84.32L307.31 89.88L309.33 94.52L311.76 98.39L314.67 101.62L318.16 104.31L322.35 106.56L327.37 108.43L333.38 109.99L340.59 111.3L349.24 112.38L359.61 113.29L372.04 114.05L386.95 114.68L404.82 115.2L426.24 115.64L451.93 116.01L451.93 -53.76Z" stroke="none" stroke-width="1" fill="#f3e7f0"/>
<path d="M299.61 -53.76L300.06 -27.62L300.59 -5.47L301.21 13.31L301.94 29.23L302.81 42.73L303.83 54.17L305.04 63.86L306.46 72.08L308.13 79.05L310.11 84.96L312.44 89.97L315.2 94.21L318.44 97.81L322.27 100.86L326.79 103.45L332.12 105.64L338.41 107.5L345.82 109.08L354.57 110.41L364.89 111.54L377.06 112.5L391.42 113.32L408.37 114.01L428.35 114.59L451.93 115.09L451.93 -53.76Z" stroke="none" stroke-width="1" fill="#efe1eb"/>
<path d="M300.44 -53.76L300.99 -29.31L301.64 -8.34L302.39 9.64L303.26 25.06L304.28 38.28L305.47 49.61L306.86 59.34L308.47 67.67L310.36 74.82L312.56 80.95L315.12 86.21L318.11 90.72L321.6 94.58L325.66 97.9L330.41 100.74L335.94 103.18L342.39 105.27L349.91 107.06L358.68 108.59L368.9 109.91L380.83 111.04L394.74 112.01L410.96 112.84L429.87 113.56L451.93 114.17L451.93 -53.76Z" stroke="none" stroke-width="1" fill="#ebdae7"/>
<path d="M301.27 -53.76L301.92 -30.62L302.67 -10.61L303.53 6.7L304.53 21.68L305.68 34.65L307.01 45.86L308.55 55.56L310.33 63.96L312.39 71.22L314.77 77.51L317.52 82.94L320.69 87.65L324.37 91.72L328.61 95.24L333.51 98.29L339.18 100.92L345.74 103.2L353.31 105.18L362.06 106.89L372.18 108.36L383.87 109.64L397.39 110.75L413.01 111.7L431.06 112.53L451.93 113.25L451.93 -53.76Z" stroke="none" stroke-width="1" fill="#e7d4e2"/>
<path d="M302.1 -53.76L302.84 -31.71L303.68 -12.5L304.64 4.24L305.75 18.84L307.02 31.56L308.48 42.64L310.15 52.3L312.08 60.72L314.28 68.06L316.81 74.45L319.71 80.03L323.04 84.89L326.86 89.12L331.24 92.81L336.27 96.03L342.04 98.83L348.66 101.27L356.25 103.4L364.97 105.26L374.97 106.87L386.44 108.28L399.6 109.51L414.71 110.58L432.04 111.51L451.93 112.33L451.93 -53.76Z" stroke="none" stroke-width="1" fill="#e3cede"/>
<path d="M302.93 -53.76L303.75 -32.64L304.68 -14.12L305.74 2.12L306.94 16.37L308.32 28.85L309.89 39.81L311.68 49.41L313.73 57.83L316.06 65.22L318.71 71.7L321.74 77.37L325.2 82.36L329.14 86.72L333.63 90.55L338.76 93.91L344.6 96.86L351.26 99.44L358.86 101.71L367.52 103.69L377.4 105.43L388.67 106.96L401.52 108.3L416.17 109.48L432.87 110.51L451.93 111.41L451.93 -53.76Z" stroke="none" stroke-width="1" fill="#e0c8d9"/>
<path d="M303.76 -53.76L304.65 -33.44L305.66 -15.53L306.81 0.25L308.11 14.17L309.58 26.45L311.26 37.27L313.15 46.8L315.31 55.21L317.75 62.63L320.52 69.16L323.66 74.93L327.22 80.01L331.26 84.49L335.84 88.43L341.04 91.92L346.94 94.99L353.63 97.69L361.21 100.08L369.82 102.18L379.58 104.03L390.65 105.67L403.2 107.11L417.45 108.38L433.6 109.5L451.93 110.49L451.93 -53.76Z" stroke="none" stroke-width="1" fill="#dcc2d5"/>
<path d="M304.59 -53.76L305.55 -34.16L306.64 -16.8L307.87 -1.42L309.25 12.2L310.81 24.27L312.58 34.95L314.57 44.42L316.82 52.81L319.36 60.24L322.23 66.81L325.47 72.64L329.12 77.81L333.24 82.38L337.9 86.43L343.16 90.02L349.09 93.2L355.8 96.01L363.36 98.5L371.9 100.71L381.54 102.67L392.43 104.4L404.71 105.94L418.58 107.3L434.25 108.5L451.93 109.57L451.93 -53.76Z" stroke="none" stroke-width="1" fill="#d8bcd0"/>
<path d="M305.42 -53.76L306.45 -34.8L307.61 -17.94L308.91 -2.94L310.37 10.41L312.02 22.27L313.87 32.83L315.95 42.22L318.28 50.58L320.91 58.01L323.87 64.62L327.19 70.5L330.92 75.73L335.12 80.38L339.84 84.52L345.14 88.2L351.1 91.48L357.81 94.39L365.34 96.98L373.82 99.28L383.34 101.34L394.05 103.16L406.08 104.78L419.61 106.22L434.82 107.51L451.93 108.65L451.93 -53.76Z" stroke="none" stroke-width="1" fill="#d5b6cc"/>
<path d="M306.25 -53.76L307.34 -35.38L308.57 -18.98L309.94 -4.33L311.48 8.75L313.2 20.44L315.13 30.87L317.28 40.18L319.7 48.49L322.41 55.92L325.44 62.55L328.84 68.47L332.64 73.76L336.9 78.48L341.67 82.69L347.01 86.46L352.99 89.82L359.69 92.82L367.19 95.5L375.59 97.89L385 100.03L395.53 101.93L407.34 103.64L420.55 105.16L435.35 106.52L451.93 107.73L451.93 -53.76Z" stroke="none" stroke-width="1" fill="#d1b0c8"/>
<path d="M307.08 -53.76L308.23 -35.92L309.52 -19.93L310.96 -5.61L312.57 7.23L314.36 18.73L316.36 29.03L318.59 38.26L321.08 46.54L323.86 53.95L326.96 60.59L330.42 66.54L334.28 71.88L338.59 76.66L343.4 80.94L348.77 84.77L354.77 88.21L361.45 91.29L368.92 94.05L377.25 96.53L386.54 98.74L396.91 100.73L408.49 102.51L421.41 104.1L435.83 105.53L451.93 106.81L451.93 -53.76Z" stroke="none" stroke-width="1" fill="#cdaac3"/>
<path d="M307.91 -53.76L309.12 -36.41L310.47 -20.82L311.97 -6.8L313.64 5.8L315.5 17.13L317.56 27.31L319.86 36.46L322.42 44.69L325.26 52.08L328.43 58.73L331.95 64.7L335.86 70.08L340.22 74.9L345.06 79.25L350.45 83.15L356.45 86.65L363.12 89.81L370.54 92.64L378.8 95.19L387.98 97.48L398.2 99.54L409.57 101.39L422.21 103.05L436.28 104.55L451.93 105.89L451.93 -53.76Z" stroke="none" stroke-width="1" fill="#caa4bf"/>
<path d="M308.74 -53.76L310.01 -36.87L311.41 -21.64L312.97 -7.91L314.7 4.46L316.62 15.62L318.75 25.68L321.11 34.75L323.72 42.93L326.63 50.3L329.85 56.95L333.42 62.94L337.38 68.35L341.78 73.22L346.65 77.61L352.06 81.57L358.05 85.14L364.71 88.36L372.08 91.26L380.26 93.88L389.34 96.24L399.41 98.36L410.57 100.28L422.95 102.01L436.69 103.57L451.93 104.97L451.93 -53.76Z" stroke="none" stroke-width="1" fill="#c69ebb"/>
<path d="M309.57 -53.76L310.89 -37.29L312.35 -22.41L313.96 -8.96L315.75 3.2L317.73 14.2L319.91 24.14L322.33 33.13L325 41.26L327.96 48.6L331.23 55.25L334.85 61.25L338.85 66.68L343.28 71.59L348.18 76.02L353.6 80.04L359.59 83.66L366.21 86.94L373.54 89.91L381.65 92.59L390.62 95.01L400.54 97.2L411.51 99.18L423.65 100.97L437.08 102.59L451.93 104.05L451.93 -53.76Z" stroke="none" stroke-width="1" fill="#c298b7"/>
<path d="M310.4 -53.76L311.77 -37.7L313.28 -23.14L314.95 -9.94L316.79 2.01L318.82 12.86L321.06 22.68L323.53 31.59L326.25 39.66L329.26 46.98L332.58 53.61L336.24 59.62L340.28 65.07L344.73 70.01L349.65 74.49L355.07 78.54L361.06 82.22L367.66 85.56L374.94 88.58L382.97 91.32L391.84 93.8L401.62 96.05L412.4 98.09L424.31 99.94L437.44 101.61L451.93 103.13L451.93 -53.76Z" stroke="none" stroke-width="1" fill="#bf92b2"/>
<path d="M311.23 -53.76L312.64 -38.07L314.21 -23.82L315.92 -10.88L317.81 0.89L319.89 11.57L322.18 21.29L324.71 30.11L327.48 38.13L330.53 45.41L333.89 52.03L337.59 58.05L341.66 63.51L346.14 68.48L351.07 72.99L356.49 77.09L362.47 80.81L369.04 84.2L376.27 87.27L384.23 90.07L392.99 92.6L402.63 94.91L413.25 97.01L424.92 98.91L437.78 100.64L451.93 102.21L451.93 -53.76Z" stroke="none" stroke-width="1" fill="#bb8dae"/>
<path d="M312.06 -53.76L313.52 -38.43L315.13 -24.47L316.89 -11.76L318.83 -0.19L320.96 10.35L323.3 19.95L325.86 28.69L328.68 36.66L331.78 43.91L335.17 50.51L338.91 56.52L343 62L347.5 66.99L352.44 71.53L357.87 75.67L363.82 79.43L370.37 82.86L377.55 85.99L385.43 88.83L394.09 91.42L403.6 93.78L414.04 95.93L425.51 97.89L438.1 99.67L451.93 101.29L451.93 -53.76Z" stroke="none" stroke-width="1" fill="#b887aa"/>
<path d="M312.89 -53.76L314.39 -38.77L316.05 -25.09L317.86 -12.61L319.84 -1.21L322.01 9.18L324.4 18.67L327 27.33L329.86 35.24L333 42.45L336.43 49.04L340.19 55.05L344.31 60.53L348.83 65.54L353.77 70.11L359.2 74.27L365.14 78.08L371.64 81.55L378.77 84.72L386.59 87.62L395.15 90.26L404.53 92.66L414.81 94.86L426.07 96.87L438.41 98.7L451.93 100.37L451.93 -53.76Z" stroke="none" stroke-width="1" fill="#b481a6"/>
<path d="M313.71 -53.76L315.26 -39.09L316.96 -25.68L318.81 -13.41L320.84 -2.2L323.06 8.06L325.48 17.45L328.13 26.03L331.03 33.87L334.19 41.05L337.66 47.61L341.45 53.61L345.59 59.1L350.12 64.12L355.07 68.71L360.48 72.91L366.4 76.75L372.88 80.26L379.96 83.48L387.7 86.41L396.16 89.1L405.41 91.56L415.53 93.8L426.6 95.86L438.7 97.74L451.93 99.46L451.93 -53.76Z" stroke="none" stroke-width="1" fill="#b17ba1"/>
<path d="M314.54 -53.76L316.13 -39.4L317.87 -26.24L319.76 -14.18L321.83 -3.14L324.09 6.99L326.55 16.26L329.24 24.76L332.17 32.55L335.37 39.69L338.86 46.23L342.67 52.22L346.83 57.71L351.37 62.74L356.33 67.35L361.73 71.58L367.63 75.45L374.07 79L381.09 82.25L388.76 85.23L397.13 87.96L406.26 90.46L416.23 92.75L427.1 94.85L438.97 96.77L451.93 98.54L451.93 -53.76Z" stroke="none" stroke-width="1" fill="#ad759d"/>
<path d="M315.37 -53.76L317 -39.69L318.78 -26.78L320.71 -14.92L322.82 -4.04L325.11 5.95L327.61 15.12L330.33 23.54L333.3 31.27L336.53 38.37L340.04 44.88L343.88 50.86L348.05 56.35L352.6 61.39L357.55 66.02L362.94 70.27L368.82 74.17L375.22 77.75L382.2 81.04L389.79 84.05L398.06 86.82L407.08 89.37L416.89 91.7L427.59 93.84L439.24 95.81L451.93 97.62L451.93 -53.76Z" stroke="none" stroke-width="1" fill="#a97099"/>
<path d="M316.2 -53.76L317.87 -39.97L319.68 -27.29L321.65 -15.63L323.79 -4.91L326.12 4.95L328.66 14.02L331.41 22.36L334.41 30.03L337.66 37.09L341.2 43.57L345.05 49.54L349.24 55.03L353.79 60.07L358.74 64.71L364.13 68.98L369.98 72.91L376.34 76.52L383.26 79.84L390.78 82.89L398.97 85.7L407.86 88.28L417.53 90.66L428.05 92.84L439.49 94.85L451.93 96.7L451.93 -53.76Z" stroke="none" stroke-width="1" fill="#a66a95"/>
<path d="M317.03 -53.76L318.73 -40.24L320.58 -27.79L322.59 -16.32L324.76 -5.75L327.13 3.99L329.69 12.95L332.48 21.22L335.5 28.83L338.78 35.84L342.34 42.3L346.21 48.25L350.41 53.73L354.96 58.78L359.91 63.43L365.28 67.72L371.1 71.67L377.43 75.3L384.29 78.66L391.75 81.74L399.84 84.59L408.62 87.21L418.15 89.62L428.5 91.84L439.73 93.89L451.93 95.78L451.93 -53.76Z" stroke="none" stroke-width="1" fill="#a26491"/>
<path d="M317.86 -53.76L319.6 -40.5L321.48 -28.26L323.52 -16.97L325.73 -6.56L328.12 3.05L330.72 11.92L333.53 20.11L336.58 27.66L339.88 34.63L343.46 41.05L347.34 46.99L351.55 52.46L356.11 57.51L361.05 62.17L366.4 66.48L372.2 70.44L378.48 74.11L385.3 77.49L392.68 80.6L400.68 83.48L409.35 86.14L418.75 88.59L428.93 90.85L439.97 92.93L451.93 94.86L451.93 -53.76Z" stroke="none" stroke-width="1" fill="#9f5e8d"/>
<path d="M318.69 -53.76L320.46 -40.75L322.37 -28.72L324.45 -17.61L326.69 -7.34L329.11 2.15L331.74 10.92L334.58 19.03L337.65 26.52L340.97 33.44L344.57 39.84L348.46 45.75L352.67 51.22L357.23 56.27L362.16 60.94L367.49 65.25L373.27 69.24L379.51 72.92L386.27 76.33L393.58 79.48L401.49 82.39L410.06 85.07L419.32 87.56L429.34 89.86L440.19 91.98L451.93 93.94L451.93 -53.76Z" stroke="none" stroke-width="1" fill="#9b5988"/>
<path d="M319.52 -53.76L321.32 -40.99L323.27 -29.17L325.37 -18.23L327.64 -8.1L330.09 1.27L332.74 9.95L335.61 17.98L338.7 25.41L342.04 32.29L345.65 38.65L349.56 44.55L353.77 50L358.33 55.05L363.25 59.72L368.56 64.05L374.31 68.05L380.51 71.76L387.22 75.19L394.46 78.36L402.28 81.3L410.74 84.02L419.87 86.54L429.74 88.87L440.41 91.02L451.93 93.02L451.93 -53.76Z" stroke="none" stroke-width="1" fill="#985384"/>
<path d="M320.35 -53.76L322.18 -41.22L324.16 -29.59L326.29 -18.82L328.59 -8.83L331.07 0.42L333.74 9L336.63 16.95L339.74 24.33L343.1 31.16L346.73 37.49L350.64 43.36L354.85 48.81L359.4 53.85L364.31 58.53L369.61 62.86L375.32 66.88L381.49 70.6L388.14 74.06L395.31 77.25L403.05 80.22L411.4 82.97L420.41 85.52L430.13 87.88L440.61 90.07L451.93 92.1L451.93 -53.76Z" stroke="none" stroke-width="1" fill="#944d80"/>
<path d="M321.18 -53.76L323.04 -41.44L325.04 -30.01L327.2 -19.4L329.53 -9.55L332.03 -0.41L334.73 8.08L337.64 15.96L340.77 23.27L344.15 30.06L347.78 36.36L351.7 42.21L355.92 47.63L360.46 52.67L365.36 57.35L370.63 61.69L376.32 65.72L382.44 69.46L389.04 72.93L396.14 76.16L403.8 79.15L412.05 81.93L420.93 84.5L430.5 86.9L440.82 89.12L451.93 91.18L451.93 -53.76Z" stroke="none" stroke-width="1" fill="#91487c"/>
<path d="M322.01 -53.76L323.9 -41.66L325.93 -30.41L328.11 -19.96L330.46 -10.24L332.99 -1.21L335.71 7.18L338.64 14.99L341.79 22.24L345.18 28.98L348.82 35.25L352.74 41.07L356.96 46.48L361.5 51.51L366.38 56.19L371.64 60.54L377.29 64.58L383.37 68.33L389.91 71.82L396.95 75.07L404.52 78.09L412.67 80.89L421.44 83.49L430.87 85.92L441.01 88.17L451.93 90.26L451.93 -53.76Z" stroke="none" stroke-width="1" fill="#8e4278"/>
<path d="M322.84 -53.76L324.75 -41.87L326.81 -30.8L329.02 -20.5L331.39 -10.91L333.95 -1.99L336.69 6.31L339.63 14.04L342.8 21.23L346.2 27.92L349.85 34.15L353.77 39.95L357.99 45.35L362.52 50.37L367.39 55.05L372.62 59.4L378.24 63.45L384.28 67.22L390.77 70.73L397.74 73.99L405.23 77.03L413.28 79.86L421.93 82.49L431.22 84.94L441.2 87.22L451.93 89.34L451.93 -53.76Z" stroke="none" stroke-width="1" fill="#8a3c74"/>
<path d="M323.67 -53.76L325.61 -42.07L327.69 -31.18L329.92 -21.03L332.32 -11.57L334.89 -2.76L337.65 5.46L340.61 13.11L343.79 20.24L347.2 26.89L350.86 33.09L354.79 38.86L359 44.24L363.53 49.25L368.38 53.92L373.59 58.28L379.17 62.33L385.17 66.11L391.61 69.64L398.51 72.92L405.92 75.98L413.87 78.83L422.4 81.49L431.56 83.96L441.38 86.27L451.93 88.42L451.93 -53.76Z" stroke="none" stroke-width="1" fill="#873770"/>
<path d="M324.5 -53.76L326.46 -42.27L328.57 -31.54L330.82 -21.54L333.24 -12.21L335.83 -3.5L338.61 4.62L341.59 12.2L344.78 19.28L348.2 25.88L351.86 32.04L355.79 37.78L360 43.14L364.51 48.14L369.35 52.81L374.53 57.17L380.09 61.23L386.04 65.02L392.42 68.56L399.26 71.86L406.59 74.94L414.45 77.81L422.87 80.49L431.89 82.99L441.56 85.32L451.93 87.5L451.93 -53.76Z" stroke="none" stroke-width="1" fill="#83316c"/>
<path d="M325.33 -53.76L327.31 -42.46L329.44 -31.9L331.72 -22.04L334.16 -12.83L336.77 -4.23L339.56 3.81L342.55 11.32L345.76 18.33L349.18 24.88L352.85 31L356.78 36.72L360.99 42.06L365.49 47.05L370.31 51.71L375.46 56.07L380.99 60.14L386.9 63.94L393.22 67.49L400 70.8L407.25 73.9L415.01 76.79L423.32 79.49L432.21 82.02L441.73 84.38L451.93 86.58L451.93 -53.76Z" stroke="none" stroke-width="1" fill="#802c68"/>
<path d="M326.16 -53.76L328.17 -42.64L330.32 -32.25L332.61 -22.53L335.07 -13.44L337.7 -4.94L340.51 3.01L343.51 10.45L346.72 17.4L350.16 23.91L353.83 29.99L357.76 35.68L361.96 41L366.45 45.98L371.24 50.63L376.38 54.98L381.86 59.06L387.73 62.86L394.01 66.42L400.71 69.75L407.89 72.87L415.56 75.78L423.76 78.5L432.53 81.05L441.9 83.43L451.93 85.66L451.93 -53.76Z" stroke="none" stroke-width="1" fill="#802c68"/>
<path d="M326.99 -53.76L329.02 -42.82L331.19 -32.59L333.51 -23.01L335.98 -14.03L338.62 -5.63L341.45 2.23L344.46 9.6L347.68 16.49L351.12 22.95L354.8 29L358.72 34.66L362.91 39.96L367.39 44.92L372.17 49.56L377.28 53.91L382.73 57.99L388.55 61.8L394.77 65.37L401.42 68.71L408.51 71.84L416.09 74.77L424.19 77.52L432.83 80.09L442.06 82.49L451.93 84.74L451.93 -53.76Z" stroke="none" stroke-width="1" fill="#802c68"/>
<path d="M296.26 -53.76L296.06 -21.61L295.81 4.51L295.51 25.74L295.14 42.99L294.68 57.01L294.12 68.4L293.42 77.66L292.57 85.19L291.52 91.31L290.23 96.28L288.64 100.32L286.68 103.6L284.27 106.27L281.31 108.44L277.67 110.2L273.18 111.63L267.67 112.79L260.88 113.74L252.52 114.51L242.24 115.13L229.6 115.64L214.03 116.05L194.88 116.39L171.32 116.66L142.32 116.88L142.32 -53.76Z" stroke="none" stroke-width="1" fill="#f9f2e5"/>
<path d="M297.96 289.45L298.16 257.13L298.4 230.9L298.7 209.6L299.06 192.32L299.51 178.3L300.06 166.91L300.74 157.67L301.58 150.17L302.62 144.08L303.89 139.14L305.46 135.13L307.4 131.87L309.78 129.23L312.72 127.09L316.34 125.35L320.79 123.93L326.29 122.79L333.05 121.86L341.39 121.1L351.66 120.49L364.31 119.99L379.9 119.59L399.11 119.26L422.77 118.99L451.93 118.78L451.93 289.45Z" stroke="none" stroke-width="1" fill="#f9f2e5"/>
<path d="M295.39 -53.76L295.05 -25.53L294.64 -1.96L294.15 17.75L293.57 34.21L292.87 47.96L292.03 59.46L291.03 69.06L289.83 77.08L288.39 83.78L286.67 89.39L284.61 94.07L282.15 97.98L279.2 101.24L275.67 103.97L271.45 106.26L266.4 108.16L260.35 109.75L253.11 111.08L244.45 112.2L234.08 113.13L221.68 113.9L206.83 114.55L189.05 115.09L167.78 115.54L142.32 115.92L142.32 -53.76Z" stroke="none" stroke-width="1" fill="#f5ead6"/>
<path d="M298.8 289.45L299.14 261.04L299.54 237.34L300.02 217.56L300.59 201.06L301.28 187.28L302.1 175.79L303.09 166.2L304.27 158.2L305.68 151.52L307.38 145.94L309.42 141.29L311.86 137.41L314.78 134.17L318.28 131.47L322.47 129.22L327.5 127.33L333.53 125.76L340.75 124.45L349.4 123.36L359.77 122.45L372.19 121.68L387.08 121.05L404.92 120.52L426.3 120.08L451.93 119.71L451.93 289.45Z" stroke="none" stroke-width="1" fill="#f5ead6"/>
<path d="M294.52 -53.76L294.06 -27.88L293.52 -5.9L292.88 12.76L292.12 28.6L291.24 42.06L290.19 53.49L288.96 63.19L287.51 71.43L285.8 78.43L283.79 84.38L281.42 89.42L278.63 93.71L275.35 97.35L271.48 100.44L266.93 103.06L261.57 105.29L255.26 107.19L247.82 108.79L239.07 110.16L228.76 111.32L216.62 112.3L202.32 113.14L185.49 113.85L165.67 114.45L142.32 114.96L142.32 -53.76Z" stroke="none" stroke-width="1" fill="#f0e2c4"/>
<path d="M299.64 289.45L300.1 263.38L300.63 241.28L301.25 222.53L301.99 206.64L302.87 193.15L303.89 181.71L305.11 172.01L306.54 163.79L308.22 156.81L310.21 150.89L312.55 145.87L315.31 141.62L318.57 138.01L322.41 134.94L326.94 132.35L332.28 130.15L338.57 128.28L345.99 126.69L354.74 125.35L365.06 124.21L377.22 123.24L391.57 122.42L408.48 121.73L428.42 121.14L451.93 120.64L451.93 289.45Z" stroke="none" stroke-width="1" fill="#f0e2c4"/>
<path d="M293.66 -53.76L293.09 -29.57L292.43 -8.79L291.65 9.06L290.76 24.4L289.71 37.57L288.5 48.89L287.08 58.61L285.43 66.96L283.51 74.13L281.28 80.29L278.68 85.59L275.65 90.13L272.13 94.04L268.03 97.4L263.25 100.28L257.69 102.75L251.22 104.88L243.69 106.71L234.92 108.28L224.71 109.63L212.83 110.79L198.99 111.78L182.89 112.64L164.15 113.37L142.32 114L142.32 -53.76Z" stroke="none" stroke-width="1" fill="#ead8b1"/>
<path d="M300.48 289.45L301.04 265.07L301.69 244.15L302.44 226.21L303.33 210.82L304.35 197.61L305.55 186.28L306.94 176.56L308.57 168.22L310.46 161.06L312.67 154.92L315.25 149.66L318.25 145.14L321.74 141.26L325.82 137.93L330.57 135.08L336.11 132.63L342.57 130.53L350.09 128.73L358.86 127.18L369.08 125.86L381 124.72L394.88 123.74L411.07 122.9L429.93 122.19L451.93 121.57L451.93 289.45Z" stroke="none" stroke-width="1" fill="#ead8b1"/>
<path d="M292.79 -53.76L292.12 -30.89L291.35 -11.07L290.47 6.11L289.44 21L288.26 33.91L286.9 45.09L285.33 54.79L283.52 63.19L281.42 70.47L279.01 76.79L276.22 82.26L273.01 87L269.3 91.11L265.02 94.67L260.09 97.76L254.39 100.44L247.82 102.76L240.24 104.77L231.5 106.51L221.41 108.02L209.76 109.33L196.33 110.47L180.83 111.45L162.95 112.3L142.32 113.04L142.32 -53.76Z" stroke="none" stroke-width="1" fill="#e5ce9d"/>
<path d="M301.32 289.45L301.98 266.39L302.73 246.43L303.6 229.15L304.6 214.2L305.76 201.25L307.11 190.04L308.65 180.34L310.44 171.95L312.51 164.68L314.9 158.38L317.66 152.94L320.85 148.22L324.53 144.14L328.78 140.61L333.7 137.55L339.37 134.9L345.93 132.61L353.5 130.63L362.26 128.91L372.37 127.42L384.04 126.14L397.54 125.02L413.12 124.06L431.13 123.22L451.93 122.5L451.93 289.45Z" stroke="none" stroke-width="1" fill="#e5ce9d"/>
<path d="M291.92 -53.76L291.17 -31.98L290.3 -12.96L289.31 3.64L288.17 18.14L286.87 30.79L285.38 41.84L283.67 51.49L281.72 59.91L279.48 67.26L276.91 73.68L273.98 79.29L270.61 84.18L266.76 88.45L262.34 92.18L257.29 95.44L251.49 98.28L244.86 100.77L237.26 102.93L228.56 104.83L218.59 106.48L207.18 107.92L194.1 109.18L179.13 110.28L161.97 111.24L142.32 112.08L142.32 -53.76Z" stroke="none" stroke-width="1" fill="#dfc488"/>
<path d="M302.16 289.45L302.9 267.48L303.75 248.32L304.73 231.61L305.84 217.05L307.12 204.35L308.59 193.27L310.27 183.62L312.2 175.2L314.42 167.85L316.95 161.45L319.87 155.87L323.21 151L327.03 146.76L331.43 143.05L336.46 139.83L342.24 137.01L348.86 134.56L356.46 132.42L365.17 130.55L375.16 128.93L386.62 127.51L399.76 126.27L414.83 125.19L432.11 124.25L451.93 123.43L451.93 289.45Z" stroke="none" stroke-width="1" fill="#dfc488"/>
<path d="M291.06 -53.76L290.22 -32.9L289.26 -14.58L288.17 1.51L286.94 15.65L285.53 28.06L283.92 38.97L282.1 48.56L280.02 56.98L277.65 64.37L274.96 70.87L271.89 76.58L268.4 81.6L264.42 86L259.9 89.87L254.75 93.27L248.89 96.26L242.22 98.88L234.62 101.18L225.98 103.21L216.13 104.99L204.93 106.55L192.18 107.92L177.66 109.13L161.14 110.19L142.32 111.12L142.32 -53.76Z" stroke="none" stroke-width="1" fill="#d9b973"/>
<path d="M303 289.45L303.83 268.4L304.76 249.94L305.83 233.74L307.05 219.53L308.43 207.06L310.01 196.12L311.82 186.52L313.87 178.1L316.21 170.71L318.88 164.22L321.92 158.54L325.38 153.55L329.33 149.17L333.83 145.33L338.96 141.96L344.81 139L351.48 136.41L359.07 134.13L367.73 132.13L377.6 130.38L388.85 128.84L401.67 127.49L416.29 126.31L432.94 125.27L451.93 124.36L451.93 289.45Z" stroke="none" stroke-width="1" fill="#d9b973"/>
<path d="M290.19 -53.76L289.27 -33.71L288.23 -16.01L287.06 -0.37L285.73 13.44L284.22 25.63L282.51 36.41L280.58 45.92L278.39 54.32L275.91 61.74L273.11 68.3L269.93 74.08L266.33 79.2L262.26 83.71L257.65 87.7L252.43 91.22L246.51 94.33L239.82 97.08L232.24 99.5L223.66 101.65L213.94 103.54L202.94 105.21L190.48 106.68L176.38 107.99L160.41 109.14L142.32 110.16L142.32 -53.76Z" stroke="none" stroke-width="1" fill="#d2ae5c"/>
<path d="M303.84 289.45L304.74 269.21L305.76 251.36L306.92 235.61L308.22 221.72L309.71 209.47L311.39 198.67L313.3 189.13L315.46 180.73L317.91 173.31L320.69 166.77L323.84 161L327.41 155.91L331.46 151.42L336.05 147.46L341.26 143.97L347.16 140.89L353.85 138.17L361.43 135.77L370.03 133.66L379.78 131.79L390.83 130.15L403.36 128.7L417.57 127.42L433.67 126.29L451.93 125.29L451.93 289.45Z" stroke="none" stroke-width="1" fill="#d2ae5c"/>
<path d="M289.32 -53.76L288.33 -34.43L287.22 -17.27L285.96 -2.05L284.54 11.45L282.94 23.44L281.14 34.07L279.11 43.51L276.83 51.88L274.25 59.31L271.35 65.91L268.07 71.76L264.39 76.95L260.23 81.55L255.55 85.64L250.27 89.27L244.32 92.49L237.62 95.34L230.07 97.88L221.55 100.13L211.96 102.12L201.15 103.89L188.97 105.47L175.24 106.86L159.76 108.1L142.32 109.2L142.32 -53.76Z" stroke="none" stroke-width="1" fill="#cca345"/>
<path d="M304.68 289.45L305.65 269.92L306.75 252.62L307.98 237.29L309.38 223.7L310.95 211.66L312.73 200.98L314.73 191.52L316.99 183.14L319.54 175.71L322.42 169.13L325.66 163.29L329.33 158.12L333.46 153.54L338.13 149.48L343.39 145.88L349.33 142.69L356.03 139.86L363.59 137.36L372.12 135.14L381.75 133.17L392.62 131.43L404.87 129.88L418.71 128.51L434.31 127.3L451.93 126.22L451.93 289.45Z" stroke="none" stroke-width="1" fill="#cca345"/>
<path d="M288.46 -53.76L287.4 -35.07L286.21 -18.42L284.87 -3.58L283.38 9.64L281.7 21.43L279.81 31.93L277.69 41.28L275.32 49.62L272.66 57.05L269.67 63.67L266.31 69.57L262.54 74.83L258.32 79.51L253.58 83.68L248.25 87.4L242.28 90.72L235.58 93.67L228.06 96.31L219.62 98.65L210.15 100.74L199.52 102.6L187.59 104.26L174.2 105.74L159.18 107.06L142.32 108.23L142.32 -53.76Z" stroke="none" stroke-width="1" fill="#c69830"/>
<path d="M305.52 289.45L306.56 270.56L307.73 253.76L309.04 238.81L310.51 225.5L312.17 213.65L314.03 203.11L316.12 193.73L318.46 185.38L321.1 177.95L324.07 171.34L327.4 165.45L331.14 160.21L335.35 155.55L340.07 151.4L345.38 147.71L351.35 144.42L358.05 141.5L365.58 138.9L374.04 136.58L383.55 134.52L394.24 132.69L406.24 131.05L419.73 129.6L434.89 128.31L451.93 127.15L451.93 289.45Z" stroke="none" stroke-width="1" fill="#c69830"/>
<path d="M287.59 -53.76L286.46 -35.65L285.21 -19.46L283.8 -4.98L282.23 7.98L280.47 19.57L278.51 29.94L276.31 39.21L273.86 47.51L271.12 54.93L268.05 61.56L264.62 67.5L260.79 72.81L256.5 77.56L251.71 81.81L246.35 85.61L240.37 89.01L233.67 92.06L226.19 94.78L217.82 97.21L208.47 99.39L198.02 101.33L186.33 103.08L173.26 104.63L158.66 106.03L142.32 107.27L142.32 -53.76Z" stroke="none" stroke-width="1" fill="#c69830"/>
<path d="M306.36 289.45L307.47 271.15L308.7 254.8L310.08 240.2L311.63 227.15L313.36 215.5L315.3 205.08L317.47 195.78L319.89 187.47L322.61 180.05L325.65 173.42L329.06 167.49L332.87 162.2L337.13 157.47L341.91 153.24L347.26 149.47L353.24 146.1L359.94 143.08L367.43 140.39L375.82 137.99L385.22 135.84L395.73 133.92L407.5 132.21L420.67 130.68L435.42 129.31L451.93 128.09L451.93 289.45Z" stroke="none" stroke-width="1" fill="#c69830"/>
<path d="M286.72 -53.76L285.54 -36.19L284.21 -20.42L282.74 -6.26L281.1 6.44L279.27 17.85L277.24 28.08L274.97 37.27L272.44 45.52L269.63 52.92L266.49 59.57L263 65.54L259.1 70.89L254.77 75.7L249.94 80.01L244.56 83.89L238.56 87.36L231.88 90.48L224.44 93.28L216.15 95.8L206.92 98.06L196.63 100.08L185.17 101.9L172.4 103.53L158.17 105L142.32 106.31L142.32 -53.76Z" stroke="none" stroke-width="1" fill="#c69830"/>
<path d="M307.2 289.45L308.37 271.68L309.66 255.76L311.11 241.48L312.73 228.68L314.53 217.21L316.54 206.93L318.78 197.7L321.28 189.44L324.07 182.03L327.18 175.38L330.65 169.43L334.52 164.09L338.84 159.3L343.66 155.01L349.03 151.16L355.02 147.71L361.71 144.62L369.17 141.85L377.48 139.37L386.76 137.14L397.11 135.14L408.66 133.35L421.54 131.75L435.9 130.31L451.93 129.02L451.93 289.45Z" stroke="none" stroke-width="1" fill="#c69830"/>
</g>
<rect x="276" y="43" width="86.6" height="84" fill="none" stroke="#8a8a8a" stroke-width="0.5"/>
<text x="281" y="138.8" font-size="7.6" text-anchor="middle">−3</text>
<text x="293.9" y="138.8" font-size="7.6" text-anchor="middle">−2</text>
<text x="306.8" y="138.8" font-size="7.6" text-anchor="middle">−1</text>
<text x="319.7" y="138.8" font-size="7.6" text-anchor="middle">0</text>
<text x="332.6" y="138.8" font-size="7.6" text-anchor="middle">1</text>
<text x="345.5" y="138.8" font-size="7.6" text-anchor="middle">2</text>
<text x="358.4" y="138.8" font-size="7.6" text-anchor="middle">3</text>
<text x="272.5" y="118.3" font-size="7.6" text-anchor="end">−1</text>
<text x="272.5" y="104" font-size="7.6" text-anchor="end">0</text>
<text x="272.5" y="89.7" font-size="7.6" text-anchor="end">1</text>
<text x="272.5" y="75.4" font-size="7.6" text-anchor="end">2</text>
<text x="272.5" y="61.1" font-size="7.6" text-anchor="end">3</text>
<text x="272.5" y="46.8" font-size="7.6" text-anchor="end">4</text>
<rect x="365" y="43" width="4.6" height="84" fill="url(#cbar)"/>
<text x="373.2" y="123.8" font-size="7.6">−1</text>
<text x="373.2" y="109" font-size="7.6">0</text>
<text x="373.2" y="94.2" font-size="7.6">1</text>
<text x="373.2" y="79.4" font-size="7.6">2</text>
<text x="373.2" y="64.6" font-size="7.6">3</text>
<text x="373.2" y="49.8" font-size="7.6">4</text>
<path d="M281 127v2M293.9 127v2M306.8 127v2M319.7 127v2M332.6 127v2M345.5 127v2M358.4 127v2M276 115.7h-2M276 101.4h-2M276 87.1h-2M276 72.8h-2M276 58.5h-2M276 44.2h-2M369.6 121.2h1.8M369.6 106.4h1.8M369.6 91.6h1.8M369.6 76.8h1.8M369.6 62h1.8M369.6 47.2h1.8" stroke="#8a8a8a" stroke-width="0.6" fill="none"/>
<text x="259.4" y="84.9" font-size="8.3" text-anchor="middle" transform="rotate(-90 259.4 84.9)" textLength="82" lengthAdjust="spacingAndGlyphs">Plasma GFAP (<tspan font-style="italic">z</tspan> score)</text>
<text x="386.8" y="84.2" font-size="8.3" text-anchor="middle" transform="rotate(90 386.8 84.2)" textLength="93.6" lengthAdjust="spacingAndGlyphs">Plasma p-tau181 (<tspan font-style="italic">z</tspan> score)</text>
<text x="319.3" y="149.6" font-size="8.6" text-anchor="middle" textLength="72.5" lengthAdjust="spacingAndGlyphs">Aβ burden (<tspan font-style="italic">z</tspan> score)</text>
<line x1="434.7" y1="43" x2="434.7" y2="127.8" stroke="#c9a9bd" stroke-width="0.8" stroke-dasharray="0.9 0.9"/>
<path d="M420.2 127.8H479M420.2 127.8v2M434.7 127.8v2M449.8 127.8v2M464.7 127.8v2M479 127.8v2" stroke="#8a8a8a" stroke-width="0.7" fill="none"/>
<text x="420.2" y="138.1" font-size="6.9" text-anchor="middle">−0.5</text>
<text x="434.7" y="138.1" font-size="6.9" text-anchor="middle">0</text>
<text x="449.8" y="138.1" font-size="6.9" text-anchor="middle">0.5</text>
<text x="464.7" y="138.1" font-size="6.9" text-anchor="middle">1.0</text>
<text x="479" y="138.1" font-size="6.9" text-anchor="middle">1.5</text>
<text x="427.7" y="62.7" font-size="6.6" text-anchor="end">Ast<tspan dy="-2.18" font-size="4.75">+</tspan><tspan dy="2.18">​</tspan></text>
<line x1="437.2" y1="60.4" x2="446.6" y2="60.4" stroke="#a9bccb" stroke-width="0.8"/>
<circle cx="441.2" cy="60.4" r="1.45" fill="#a9bccb"/>
<text x="427.7" y="87.5" font-size="6.6" text-anchor="end">Aβ<tspan dy="-2.18" font-size="4.75">+</tspan><tspan dy="2.18">​</tspan></text>
<line x1="429.9" y1="85.2" x2="439.9" y2="85.2" stroke="#e6c6d5" stroke-width="0.8"/>
<circle cx="434.5" cy="85.2" r="1.45" fill="#e6c6d5"/>
<text x="427.7" y="113.1" font-size="6.6" text-anchor="end">Aβ<tspan dy="-2.18" font-size="4.75">+</tspan><tspan dy="2.18">​</tspan>/Ast<tspan dy="-2.18" font-size="4.75">+</tspan><tspan dy="2.18">​</tspan></text>
<line x1="452" y1="110.8" x2="464.7" y2="110.8" stroke="#7a2c6d" stroke-width="0.8"/>
<circle cx="458.5" cy="110.8" r="1.45" fill="#7a2c6d"/>
<text x="449.8" y="149.5" font-size="8.6" text-anchor="middle" textLength="37" lengthAdjust="spacingAndGlyphs">Cohen’s <tspan font-style="italic">d</tspan></text>
<line x1="286.8" y1="381" x2="286.8" y2="469" stroke="#dcdcdc" stroke-width="0.8"/>
<path d="M272.5 469H330.4M272.5 469v2M286.8 469v2M301.3 469v2M315.9 469v2M330.4 469v2" stroke="#8a8a8a" stroke-width="0.7" fill="none"/>
<text x="272.5" y="479.3" font-size="6.9" text-anchor="middle">−0.5</text>
<text x="286.8" y="479.3" font-size="6.9" text-anchor="middle">0</text>
<text x="301.3" y="479.3" font-size="6.9" text-anchor="middle">0.5</text>
<text x="315.9" y="479.3" font-size="6.9" text-anchor="middle">1.0</text>
<text x="330.4" y="479.3" font-size="6.9" text-anchor="middle">1.5</text>
<text x="280" y="401.2" font-size="6.6" text-anchor="end">Ast<tspan dy="-2.18" font-size="4.75">+</tspan><tspan dy="2.18">​</tspan></text>
<line x1="281.4" y1="398.9" x2="295.4" y2="398.9" stroke="#a9bccb" stroke-width="0.8"/>
<circle cx="288.1" cy="398.9" r="1.45" fill="#a9bccb"/>
<text x="280" y="427.7" font-size="6.6" text-anchor="end">Aβ<tspan dy="-2.18" font-size="4.75">+</tspan><tspan dy="2.18">​</tspan></text>
<line x1="281.9" y1="425.4" x2="296.2" y2="425.4" stroke="#e6c6d5" stroke-width="0.8"/>
<circle cx="289.5" cy="425.4" r="1.45" fill="#e6c6d5"/>
<text x="280" y="453.5" font-size="6.6" text-anchor="end">Aβ<tspan dy="-2.18" font-size="4.75">+</tspan><tspan dy="2.18">​</tspan>/Ast<tspan dy="-2.18" font-size="4.75">+</tspan><tspan dy="2.18">​</tspan></text>
<line x1="304.8" y1="451.2" x2="322.4" y2="451.2" stroke="#7a2c6d" stroke-width="0.8"/>
<circle cx="313.5" cy="451.2" r="1.45" fill="#7a2c6d"/>
<text x="301.3" y="490.5" font-size="8.6" text-anchor="middle" textLength="37" lengthAdjust="spacingAndGlyphs">Cohen’s <tspan font-style="italic">d</tspan></text>
<line x1="604" y1="381.6" x2="604" y2="468.6" stroke="#a8a8a8" stroke-width="0.8"/>
<path d="M593 468.6H648.8M593 468.6v2M604 468.6v2M615.3 468.6v2M626.6 468.6v2M637.8 468.6v2M648.8 468.6v2" stroke="#8a8a8a" stroke-width="0.7" fill="none"/>
<text x="597.3" y="477" font-size="7.1" text-anchor="end" transform="rotate(-45 597.3 477)">−0.5</text>
<text x="608.3" y="477" font-size="7.1" text-anchor="end" transform="rotate(-45 608.3 477)">0</text>
<text x="619.6" y="477" font-size="7.1" text-anchor="end" transform="rotate(-45 619.6 477)">0.5</text>
<text x="630.9" y="477" font-size="7.1" text-anchor="end" transform="rotate(-45 630.9 477)">1.0</text>
<text x="642.1" y="477" font-size="7.1" text-anchor="end" transform="rotate(-45 642.1 477)">1.5</text>
<text x="653.1" y="477" font-size="7.1" text-anchor="end" transform="rotate(-45 653.1 477)">2.0</text>
<text x="598.8" y="401.5" font-size="6.6" text-anchor="end">Ast<tspan dy="-2.18" font-size="4.75">+</tspan><tspan dy="2.18">​</tspan></text>
<line x1="601.7" y1="399.2" x2="622.2" y2="399.2" stroke="#a9bccb" stroke-width="0.8"/>
<circle cx="611.2" cy="399.2" r="1.45" fill="#a9bccb"/>
<text x="598.8" y="427.3" font-size="6.6" text-anchor="end">Aβ<tspan dy="-2.18" font-size="4.75">+</tspan><tspan dy="2.18">​</tspan></text>
<line x1="612.1" y1="425" x2="644.5" y2="425" stroke="#e6c6d5" stroke-width="0.8"/>
<circle cx="628" cy="425" r="1.45" fill="#e6c6d5"/>
<text x="598.8" y="453.5" font-size="6.6" text-anchor="end">Aβ<tspan dy="-2.18" font-size="4.75">+</tspan><tspan dy="2.18">​</tspan>/Ast<tspan dy="-2.18" font-size="4.75">+</tspan><tspan dy="2.18">​</tspan></text>
<line x1="622" y1="451.2" x2="647.4" y2="451.2" stroke="#7a2c6d" stroke-width="0.8"/>
<circle cx="634.4" cy="451.2" r="1.45" fill="#7a2c6d"/>
<text x="620.5" y="496.6" font-size="8.6" text-anchor="middle" textLength="37" lengthAdjust="spacingAndGlyphs">Cohen’s <tspan font-style="italic">d</tspan></text>
<path d="M26.6 206V291.8H128.7" stroke="#b0b0b0" stroke-width="1" fill="none"/>
<path d="M29.7 291.8v2M43.27 291.8v2M56.84 291.8v2M70.41 291.8v2M83.99 291.8v2M97.56 291.8v2M111.13 291.8v2M124.7 291.8v2M26.6 278.2h-2M26.6 261h-2M26.6 243.8h-2M26.6 226.6h-2M26.6 209.4h-2" stroke="#b0b0b0" stroke-width="0.8" fill="none"/>
<text x="34.2" y="301.2" font-size="7" text-anchor="end" transform="rotate(-45 34.2 301.2)">0.11</text>
<text x="47.77" y="301.2" font-size="7" text-anchor="end" transform="rotate(-45 47.77 301.2)">0.10</text>
<text x="61.34" y="301.2" font-size="7" text-anchor="end" transform="rotate(-45 61.34 301.2)">0.09</text>
<text x="74.91" y="301.2" font-size="7" text-anchor="end" transform="rotate(-45 74.91 301.2)">0.08</text>
<text x="88.49" y="301.2" font-size="7" text-anchor="end" transform="rotate(-45 88.49 301.2)">0.07</text>
<text x="102.06" y="301.2" font-size="7" text-anchor="end" transform="rotate(-45 102.06 301.2)">0.06</text>
<text x="115.63" y="301.2" font-size="7" text-anchor="end" transform="rotate(-45 115.63 301.2)">0.05</text>
<text x="129.2" y="301.2" font-size="7" text-anchor="end" transform="rotate(-45 129.2 301.2)">0.04</text>
<text x="21.6" y="280.94" font-size="7.6" text-anchor="end">0</text>
<text x="21.6" y="263.74" font-size="7.6" text-anchor="end">0.5</text>
<text x="21.6" y="246.54" font-size="7.6" text-anchor="end">1.0</text>
<text x="21.6" y="229.34" font-size="7.6" text-anchor="end">1.5</text>
<text x="21.6" y="212.14" font-size="7.6" text-anchor="end">2.0</text>
<text x="7" y="248.9" font-size="8.3" text-anchor="middle" transform="rotate(-90 7 248.9)" textLength="92.5" lengthAdjust="spacingAndGlyphs">Plasma p-tau181 (<tspan font-style="italic">z</tspan> score)</text>
<text x="77.4" y="325.6" font-size="8.6" text-anchor="middle" textLength="61.5" lengthAdjust="spacingAndGlyphs">Plasma Aβ42/40</text>
<path d="M29.9 274.59C31.58 274.59 36.32 274.7 40 274.59C43.68 274.47 48.33 274.16 52 273.9C55.67 273.64 59 273.53 62 273.04C65 272.55 67.33 272.01 70 270.98C72.67 269.94 75 268.97 78 266.85C81 264.73 84.33 262.09 88 258.25C91.67 254.41 96 248.62 100 243.8C104 238.98 107.58 234.23 112 229.35C116.42 224.48 124.08 217.03 126.5 214.56" stroke="#8c2a6c" stroke-width="1.35" fill="none" stroke-dasharray="1.8 2.15"/>
<path d="M26.8 284.39C28.67 284.11 33.8 283.22 38 282.67C42.2 282.13 47.67 281.55 52 281.12C56.33 280.69 60.33 280.32 64 280.09C67.67 279.86 70 279.69 74 279.75C78 279.81 83.67 280.21 88 280.44C92.33 280.67 96 280.81 100 281.12C104 281.44 108.33 281.84 112 282.33C115.67 282.82 119.23 283.59 122 284.05C124.77 284.51 127.5 284.91 128.6 285.08" stroke="#c6952a" stroke-width="1.35" fill="none" stroke-dasharray="1.8 2.15"/>
<text x="111.5" y="217.5" font-size="6.6">Ast<tspan dy="-2.18" font-size="4.75">+</tspan></text>
<text x="111.5" y="281.5" font-size="6.6">Ast<tspan dy="-2.18" font-size="4.75">−</tspan></text>
<path d="M205.18 273.14h1.55v1.55h-1.55zM191.18 256.67h1.55v1.55h-1.55zM192.61 268.78h1.55v1.55h-1.55zM210.93 266.64h1.55v1.55h-1.55zM208.68 263.67h1.55v1.55h-1.55zM211.11 249.5h1.55v1.55h-1.55zM199.52 272.07h1.55v1.55h-1.55zM206.13 276.94h1.55v1.55h-1.55zM197.65 263.15h1.55v1.55h-1.55zM225.04 254.4h1.55v1.55h-1.55zM189 266.18h1.55v1.55h-1.55zM206.56 273.78h1.55v1.55h-1.55zM198.36 246.01h1.55v1.55h-1.55zM206.98 284.52h1.55v1.55h-1.55zM209.54 270.82h1.55v1.55h-1.55zM200.65 272.62h1.55v1.55h-1.55zM196.83 282.61h1.55v1.55h-1.55zM207.68 275.87h1.55v1.55h-1.55zM207.15 264.85h1.55v1.55h-1.55zM198.3 266.97h1.55v1.55h-1.55zM214.73 259.87h1.55v1.55h-1.55zM221.53 276.78h1.55v1.55h-1.55zM201.37 237.92h1.55v1.55h-1.55zM212.62 255.48h1.55v1.55h-1.55zM225.81 276.92h1.55v1.55h-1.55zM214.13 269.65h1.55v1.55h-1.55zM210.47 262.37h1.55v1.55h-1.55zM218.13 277.18h1.55v1.55h-1.55zM221.29 241.69h1.55v1.55h-1.55zM205.15 265.16h1.55v1.55h-1.55zM196.07 265.28h1.55v1.55h-1.55zM208 266.28h1.55v1.55h-1.55zM213.39 266.43h1.55v1.55h-1.55zM201.47 266.16h1.55v1.55h-1.55zM197.97 263.53h1.55v1.55h-1.55zM208.71 278.85h1.55v1.55h-1.55zM199.79 273.72h1.55v1.55h-1.55zM194.53 271.66h1.55v1.55h-1.55zM207.72 245.29h1.55v1.55h-1.55zM214.13 249.62h1.55v1.55h-1.55zM201.87 272.43h1.55v1.55h-1.55zM202.92 274.26h1.55v1.55h-1.55zM193.94 269.76h1.55v1.55h-1.55zM219.1 271.62h1.55v1.55h-1.55zM212.52 269.05h1.55v1.55h-1.55zM214.39 281.56h1.55v1.55h-1.55zM223.84 272.07h1.55v1.55h-1.55zM204.2 260.06h1.55v1.55h-1.55zM199.97 277.93h1.55v1.55h-1.55zM213.34 273.2h1.55v1.55h-1.55zM190.91 248.96h1.55v1.55h-1.55zM196.86 278.41h1.55v1.55h-1.55zM198.91 282.67h1.55v1.55h-1.55zM201.3 256.57h1.55v1.55h-1.55zM195.45 275.79h1.55v1.55h-1.55zM219.6 254.35h1.55v1.55h-1.55zM199.06 275.98h1.55v1.55h-1.55zM199.17 264.99h1.55v1.55h-1.55zM224.2 274.57h1.55v1.55h-1.55zM201.87 239.37h1.55v1.55h-1.55zM208.18 273.35h1.55v1.55h-1.55zM197.29 283.86h1.55v1.55h-1.55zM210.17 280.47h1.55v1.55h-1.55zM205.73 260.56h1.55v1.55h-1.55zM201.92 273.37h1.55v1.55h-1.55zM214.79 260.69h1.55v1.55h-1.55zM199.22 278.24h1.55v1.55h-1.55zM206.65 260.52h1.55v1.55h-1.55zM200.34 256.58h1.55v1.55h-1.55zM211.05 268.21h1.55v1.55h-1.55zM194.07 259.35h1.55v1.55h-1.55zM199.15 270h1.55v1.55h-1.55zM207.42 281.46h1.55v1.55h-1.55zM198.87 275.62h1.55v1.55h-1.55zM192.24 272.39h1.55v1.55h-1.55zM186.63 266.94h1.55v1.55h-1.55zM222.15 254.31h1.55v1.55h-1.55zM196.21 266.4h1.55v1.55h-1.55zM200.63 274.7h1.55v1.55h-1.55zM206.53 268.39h1.55v1.55h-1.55zM216.17 260.34h1.55v1.55h-1.55zM192.27 268.01h1.55v1.55h-1.55zM218.86 280.19h1.55v1.55h-1.55zM199.55 266.44h1.55v1.55h-1.55zM191.79 278.37h1.55v1.55h-1.55zM222.43 259.41h1.55v1.55h-1.55zM208.73 254.55h1.55v1.55h-1.55zM219.36 272.47h1.55v1.55h-1.55zM202.96 271.56h1.55v1.55h-1.55zM189.55 281.51h1.55v1.55h-1.55zM184.18 278.63h1.55v1.55h-1.55zM224.31 283.32h1.55v1.55h-1.55zM211.61 262.6h1.55v1.55h-1.55zM198.11 253.88h1.55v1.55h-1.55zM188.86 282.83h1.55v1.55h-1.55zM201.09 276.03h1.55v1.55h-1.55zM213.42 252.81h1.55v1.55h-1.55zM202.4 271.44h1.55v1.55h-1.55zM205.71 279.8h1.55v1.55h-1.55zM207.69 279.34h1.55v1.55h-1.55zM213.29 266.62h1.55v1.55h-1.55zM201.45 253.73h1.55v1.55h-1.55zM202.29 276.89h1.55v1.55h-1.55zM206.52 281.97h1.55v1.55h-1.55zM207.88 255.04h1.55v1.55h-1.55zM219.1 253.77h1.55v1.55h-1.55zM210.67 273.56h1.55v1.55h-1.55zM192.8 275.19h1.55v1.55h-1.55zM207.55 248.36h1.55v1.55h-1.55zM220.74 277.31h1.55v1.55h-1.55zM191.45 262.63h1.55v1.55h-1.55zM199.94 269.19h1.55v1.55h-1.55zM183.28 269.09h1.55v1.55h-1.55zM204.88 281.93h1.55v1.55h-1.55zM210.41 279.58h1.55v1.55h-1.55zM220.82 280.24h1.55v1.55h-1.55zM191.56 239.2h1.55v1.55h-1.55zM178.41 249.51h1.55v1.55h-1.55zM214.2 280.81h1.55v1.55h-1.55zM212.37 279.99h1.55v1.55h-1.55zM199.24 280.99h1.55v1.55h-1.55zM214.3 262.96h1.55v1.55h-1.55zM208.39 259.42h1.55v1.55h-1.55zM209.23 278.7h1.55v1.55h-1.55zM203.51 283.62h1.55v1.55h-1.55zM193.98 283.2h1.55v1.55h-1.55zM205.31 283.59h1.55v1.55h-1.55zM195.84 265.81h1.55v1.55h-1.55zM209.97 277.19h1.55v1.55h-1.55zM202.08 269.77h1.55v1.55h-1.55zM228.11 262.35h1.55v1.55h-1.55zM220.85 281.42h1.55v1.55h-1.55zM197.14 266.56h1.55v1.55h-1.55zM211.77 241.33h1.55v1.55h-1.55zM199.42 279.81h1.55v1.55h-1.55zM199.81 270.46h1.55v1.55h-1.55zM191.58 244.13h1.55v1.55h-1.55zM196.97 266.88h1.55v1.55h-1.55zM194.8 249.2h1.55v1.55h-1.55zM206.72 252.74h1.55v1.55h-1.55zM212.91 269.28h1.55v1.55h-1.55zM213.26 273.25h1.55v1.55h-1.55zM210.69 240.93h1.55v1.55h-1.55zM217.47 272.57h1.55v1.55h-1.55zM211.32 251.02h1.55v1.55h-1.55zM206.52 271.55h1.55v1.55h-1.55zM202.88 263.74h1.55v1.55h-1.55zM209.12 276.04h1.55v1.55h-1.55zM225.85 275.2h1.55v1.55h-1.55zM206.3 272.35h1.55v1.55h-1.55zM203.16 271.48h1.55v1.55h-1.55zM194.09 222.35h1.55v1.55h-1.55zM199.44 267.12h1.55v1.55h-1.55zM212.33 284.3h1.55v1.55h-1.55zM213.18 281.18h1.55v1.55h-1.55zM184.31 216.49h1.55v1.55h-1.55zM197.55 250.98h1.55v1.55h-1.55zM186.2 240.97h1.55v1.55h-1.55zM183.06 284.7h1.55v1.55h-1.55zM214.17 268.8h1.55v1.55h-1.55zM201.47 252.92h1.55v1.55h-1.55zM200.7 252.57h1.55v1.55h-1.55zM199.63 278.51h1.55v1.55h-1.55zM199.82 258.32h1.55v1.55h-1.55zM203.4 257.99h1.55v1.55h-1.55zM203.7 258.99h1.55v1.55h-1.55zM221.4 275.75h1.55v1.55h-1.55zM207.28 268.09h1.55v1.55h-1.55zM213.43 274.23h1.55v1.55h-1.55zM204.21 261.28h1.55v1.55h-1.55zM210.47 238.74h1.55v1.55h-1.55zM199.01 280.91h1.55v1.55h-1.55zM196.89 240.08h1.55v1.55h-1.55zM202.28 279.4h1.55v1.55h-1.55zM202.2 277.95h1.55v1.55h-1.55zM204.56 242.76h1.55v1.55h-1.55zM210.27 269.32h1.55v1.55h-1.55zM207.27 271.84h1.55v1.55h-1.55zM210.77 257.66h1.55v1.55h-1.55zM201.44 269.85h1.55v1.55h-1.55zM205.39 265.43h1.55v1.55h-1.55zM199.4 229.16h1.55v1.55h-1.55zM219.56 280.68h1.55v1.55h-1.55zM196.17 279.46h1.55v1.55h-1.55zM213.59 266.84h1.55v1.55h-1.55zM213.29 278.5h1.55v1.55h-1.55zM207.62 277.17h1.55v1.55h-1.55zM211.49 278.18h1.55v1.55h-1.55zM202.46 229.5h1.55v1.55h-1.55zM211.6 244.47h1.55v1.55h-1.55zM216.83 272.91h1.55v1.55h-1.55zM214.47 264.95h1.55v1.55h-1.55zM191.69 255.96h1.55v1.55h-1.55zM205.07 251.06h1.55v1.55h-1.55zM217.86 280.43h1.55v1.55h-1.55zM205.45 268.94h1.55v1.55h-1.55zM221.96 274.66h1.55v1.55h-1.55zM186.65 255.64h1.55v1.55h-1.55zM221.63 270.12h1.55v1.55h-1.55zM200.48 273.17h1.55v1.55h-1.55zM199.8 282.43h1.55v1.55h-1.55zM220.85 279.72h1.55v1.55h-1.55zM202.37 277.24h1.55v1.55h-1.55zM195.01 260.15h1.55v1.55h-1.55zM200.6 277.82h1.55v1.55h-1.55zM202.78 276.09h1.55v1.55h-1.55zM195.52 269.58h1.55v1.55h-1.55zM203.84 274.75h1.55v1.55h-1.55zM201.99 268.37h1.55v1.55h-1.55zM206.88 241.4h1.55v1.55h-1.55zM198.87 276.96h1.55v1.55h-1.55zM215.48 268.29h1.55v1.55h-1.55zM197.18 277.08h1.55v1.55h-1.55zM210.87 268.8h1.55v1.55h-1.55zM217.05 279.46h1.55v1.55h-1.55zM201.68 280.85h1.55v1.55h-1.55zM187.67 264.13h1.55v1.55h-1.55zM195.39 261.07h1.55v1.55h-1.55zM210.98 280.3h1.55v1.55h-1.55zM198.17 281.26h1.55v1.55h-1.55zM210.33 282.31h1.55v1.55h-1.55zM206.85 277.74h1.55v1.55h-1.55zM204.59 214.97h1.55v1.55h-1.55zM230 281.52h1.55v1.55h-1.55zM203.52 251.9h1.55v1.55h-1.55zM216.41 282.51h1.55v1.55h-1.55zM212.9 252.67h1.55v1.55h-1.55zM221.1 278.83h1.55v1.55h-1.55zM221.55 251.07h1.55v1.55h-1.55zM215.5 275.29h1.55v1.55h-1.55zM196.82 225.37h1.55v1.55h-1.55zM187.95 256.28h1.55v1.55h-1.55zM205.8 261.61h1.55v1.55h-1.55zM194.01 267.55h1.55v1.55h-1.55zM208.32 281.86h1.55v1.55h-1.55zM225.72 274.97h1.55v1.55h-1.55zM203.96 260.9h1.55v1.55h-1.55zM200.83 279.75h1.55v1.55h-1.55zM210.06 272.56h1.55v1.55h-1.55zM202.35 279.57h1.55v1.55h-1.55zM199.49 264.18h1.55v1.55h-1.55zM214.65 226.03h1.55v1.55h-1.55zM221.13 273.37h1.55v1.55h-1.55zM207.87 264.17h1.55v1.55h-1.55zM207.77 276.48h1.55v1.55h-1.55zM209.26 268.58h1.55v1.55h-1.55zM195.12 280.8h1.55v1.55h-1.55zM187.32 255.95h1.55v1.55h-1.55zM209.94 264.31h1.55v1.55h-1.55zM198.16 211.37h1.55v1.55h-1.55zM195.6 254.48h1.55v1.55h-1.55zM198.01 270.5h1.55v1.55h-1.55zM194.48 254.43h1.55v1.55h-1.55zM209.65 267.03h1.55v1.55h-1.55zM197.73 270.03h1.55v1.55h-1.55zM184.17 252.92h1.55v1.55h-1.55zM197.05 283.38h1.55v1.55h-1.55zM212.08 283.41h1.55v1.55h-1.55zM199.12 270.9h1.55v1.55h-1.55zM192.21 267.65h1.55v1.55h-1.55zM201.64 245.01h1.55v1.55h-1.55zM211.49 268.04h1.55v1.55h-1.55zM189.25 271.75h1.55v1.55h-1.55zM218.73 254.54h1.55v1.55h-1.55zM200.22 263.74h1.55v1.55h-1.55zM205.71 267.91h1.55v1.55h-1.55zM218.14 226.21h1.55v1.55h-1.55zM192.66 267.72h1.55v1.55h-1.55zM201.87 262.28h1.55v1.55h-1.55zM217.86 265.21h1.55v1.55h-1.55zM199.19 282.58h1.55v1.55h-1.55zM210.09 281.35h1.55v1.55h-1.55zM225.63 281.08h1.55v1.55h-1.55zM212.81 271.73h1.55v1.55h-1.55zM202.76 262.77h1.55v1.55h-1.55zM198.83 246.24h1.55v1.55h-1.55zM203.79 284.3h1.55v1.55h-1.55zM205.06 274.11h1.55v1.55h-1.55zM200.58 225.99h1.55v1.55h-1.55zM207.77 214.71h1.55v1.55h-1.55zM193.11 258.17h1.55v1.55h-1.55zM203.97 216.49h1.55v1.55h-1.55zM202.44 276h1.55v1.55h-1.55zM199.83 282h1.55v1.55h-1.55zM216.7 272.28h1.55v1.55h-1.55zM213.03 266.14h1.55v1.55h-1.55zM189.4 248.25h1.55v1.55h-1.55zM202 257.22h1.55v1.55h-1.55zM208.52 265.97h1.55v1.55h-1.55zM201.93 270.45h1.55v1.55h-1.55zM210.62 270.12h1.55v1.55h-1.55zM202.6 282.42h1.55v1.55h-1.55zM212.57 279.17h1.55v1.55h-1.55zM202.62 277.37h1.55v1.55h-1.55zM222.19 257.91h1.55v1.55h-1.55zM191.49 259.9h1.55v1.55h-1.55zM210.95 270.02h1.55v1.55h-1.55zM222.23 282.25h1.55v1.55h-1.55zM207.9 269.87h1.55v1.55h-1.55zM209.45 245.84h1.55v1.55h-1.55zM203.93 257.81h1.55v1.55h-1.55zM217.63 260.33h1.55v1.55h-1.55zM201.34 275.2h1.55v1.55h-1.55zM172 278.43h1.55v1.55h-1.55zM219.04 265.57h1.55v1.55h-1.55zM201.97 248.63h1.55v1.55h-1.55zM208.82 273.13h1.55v1.55h-1.55zM203.5 263.55h1.55v1.55h-1.55zM224.67 247.3h1.55v1.55h-1.55zM217.69 278.35h1.55v1.55h-1.55zM200.69 273.88h1.55v1.55h-1.55zM205.94 282.66h1.55v1.55h-1.55zM188.27 279.69h1.55v1.55h-1.55zM212.98 283.89h1.55v1.55h-1.55zM203.7 272.76h1.55v1.55h-1.55zM174.78 252.9h1.55v1.55h-1.55zM213.62 263.84h1.55v1.55h-1.55zM215.08 268.51h1.55v1.55h-1.55zM205.91 264.06h1.55v1.55h-1.55zM206.01 282.09h1.55v1.55h-1.55zM196.63 280.14h1.55v1.55h-1.55zM204.17 265.25h1.55v1.55h-1.55zM213.53 277.36h1.55v1.55h-1.55zM203.31 277.19h1.55v1.55h-1.55zM177.68 273.05h1.55v1.55h-1.55zM192.11 279.29h1.55v1.55h-1.55zM232.86 270.2h1.55v1.55h-1.55zM207.04 222.17h1.55v1.55h-1.55zM214.78 269.6h1.55v1.55h-1.55zM198.97 275.02h1.55v1.55h-1.55z" stroke="none" stroke-width="1" fill="#c6952a"/>
<path d="M205.61 260.57h1.55v1.55h-1.55zM194.49 271.86h1.55v1.55h-1.55zM197.71 279.87h1.55v1.55h-1.55zM197.9 258.57h1.55v1.55h-1.55zM188.45 268.82h1.55v1.55h-1.55zM218.27 254.5h1.55v1.55h-1.55zM212.16 276.2h1.55v1.55h-1.55zM219.48 261.97h1.55v1.55h-1.55zM206.68 208.62h1.55v1.55h-1.55zM194.99 273.58h1.55v1.55h-1.55zM205.77 280.18h1.55v1.55h-1.55zM200.3 237.53h1.55v1.55h-1.55zM225.71 274.26h1.55v1.55h-1.55zM203.99 259.89h1.55v1.55h-1.55zM215.11 264.79h1.55v1.55h-1.55zM186.8 264.1h1.55v1.55h-1.55zM196.18 274.84h1.55v1.55h-1.55zM195.52 281.34h1.55v1.55h-1.55zM206.15 271.47h1.55v1.55h-1.55zM199.07 278.01h1.55v1.55h-1.55zM198.59 251.16h1.55v1.55h-1.55zM209.17 265.23h1.55v1.55h-1.55zM210.79 262.65h1.55v1.55h-1.55zM206.75 270.42h1.55v1.55h-1.55zM211.93 277.87h1.55v1.55h-1.55zM211.81 272.31h1.55v1.55h-1.55zM208.53 277.14h1.55v1.55h-1.55zM213.23 263.96h1.55v1.55h-1.55zM197.45 279.36h1.55v1.55h-1.55zM222.39 263.52h1.55v1.55h-1.55zM196.84 258.35h1.55v1.55h-1.55zM212.14 250.31h1.55v1.55h-1.55zM211.3 275.84h1.55v1.55h-1.55zM219.8 275.09h1.55v1.55h-1.55zM207.06 280.23h1.55v1.55h-1.55zM208.15 277.76h1.55v1.55h-1.55zM203.52 274.06h1.55v1.55h-1.55zM211.17 268.65h1.55v1.55h-1.55zM204.55 271.13h1.55v1.55h-1.55zM186.33 246.65h1.55v1.55h-1.55zM201.22 269.13h1.55v1.55h-1.55zM211.59 250.78h1.55v1.55h-1.55zM195.48 258.91h1.55v1.55h-1.55zM206.9 264.6h1.55v1.55h-1.55zM199.27 274.74h1.55v1.55h-1.55zM199.07 270.04h1.55v1.55h-1.55zM209.67 280.21h1.55v1.55h-1.55zM225.92 240.55h1.55v1.55h-1.55zM209.21 262.27h1.55v1.55h-1.55zM199.72 261h1.55v1.55h-1.55zM209.55 275.56h1.55v1.55h-1.55zM200.9 266.88h1.55v1.55h-1.55zM195.2 268.46h1.55v1.55h-1.55zM211.28 259.08h1.55v1.55h-1.55zM192.54 260.54h1.55v1.55h-1.55zM188.42 262.78h1.55v1.55h-1.55zM194.15 261.78h1.55v1.55h-1.55zM193.23 270.54h1.55v1.55h-1.55zM193.96 276.34h1.55v1.55h-1.55zM181.74 273.93h1.55v1.55h-1.55zM203.58 264.12h1.55v1.55h-1.55zM205.52 229.69h1.55v1.55h-1.55zM199.17 254.97h1.55v1.55h-1.55zM215.13 260h1.55v1.55h-1.55zM221.93 269.62h1.55v1.55h-1.55zM214.85 256.35h1.55v1.55h-1.55zM201.6 273.43h1.55v1.55h-1.55zM200.54 274.03h1.55v1.55h-1.55zM221.76 270.85h1.55v1.55h-1.55zM225.42 256.09h1.55v1.55h-1.55zM208.88 267.26h1.55v1.55h-1.55zM207.52 270.35h1.55v1.55h-1.55zM206.06 258.19h1.55v1.55h-1.55zM198.45 263.93h1.55v1.55h-1.55zM192.57 240.82h1.55v1.55h-1.55zM203.1 276.16h1.55v1.55h-1.55zM199.07 278.89h1.55v1.55h-1.55zM217.1 265.04h1.55v1.55h-1.55zM217.96 262.41h1.55v1.55h-1.55zM203.04 256.32h1.55v1.55h-1.55zM198.52 233.1h1.55v1.55h-1.55zM197.87 275.56h1.55v1.55h-1.55zM199.28 276.48h1.55v1.55h-1.55zM197.26 276.77h1.55v1.55h-1.55zM196.99 273.32h1.55v1.55h-1.55zM224.04 271.75h1.55v1.55h-1.55zM213.29 243.65h1.55v1.55h-1.55zM200.73 254.38h1.55v1.55h-1.55zM199.24 264.75h1.55v1.55h-1.55zM221.5 279.18h1.55v1.55h-1.55zM193.15 271.99h1.55v1.55h-1.55zM210.17 270.59h1.55v1.55h-1.55zM207.99 268.79h1.55v1.55h-1.55zM202.65 267.91h1.55v1.55h-1.55zM197.62 253.8h1.55v1.55h-1.55zM220.67 249.99h1.55v1.55h-1.55zM195.09 267.07h1.55v1.55h-1.55zM204.72 272.87h1.55v1.55h-1.55zM213.68 265.46h1.55v1.55h-1.55zM208.44 269.59h1.55v1.55h-1.55zM228.61 223.59h1.55v1.55h-1.55zM212.37 239.2h1.55v1.55h-1.55zM203.62 270.51h1.55v1.55h-1.55zM213.02 265.91h1.55v1.55h-1.55zM209 256.01h1.55v1.55h-1.55zM207.09 266.48h1.55v1.55h-1.55zM205.03 261.12h1.55v1.55h-1.55zM194.76 266.21h1.55v1.55h-1.55zM205.8 281.75h1.55v1.55h-1.55zM208.28 273.82h1.55v1.55h-1.55z" stroke="none" stroke-width="1" fill="#8c2a6c"/>
<path d="M169.9 205.6V292.4H237.4" stroke="#6a6a6a" stroke-width="0.6" fill="none"/>
<path d="M173.4 292.4v1.8M188.93 292.4v1.8M204.45 292.4v1.8M219.97 292.4v1.8M235.5 292.4v1.8M169.9 279.2h-1.8M169.9 264.02h-1.8M169.9 248.85h-1.8M169.9 233.68h-1.8M169.9 218.5h-1.8" stroke="#6a6a6a" stroke-width="0.48" fill="none"/>
<text x="177.9" y="301.8" font-size="7" text-anchor="end" transform="rotate(-45 177.9 301.8)">0.125</text>
<text x="193.43" y="301.8" font-size="7" text-anchor="end" transform="rotate(-45 193.43 301.8)">0.100</text>
<text x="208.95" y="301.8" font-size="7" text-anchor="end" transform="rotate(-45 208.95 301.8)">0.075</text>
<text x="224.47" y="301.8" font-size="7" text-anchor="end" transform="rotate(-45 224.47 301.8)">0.050</text>
<text x="240" y="301.8" font-size="7" text-anchor="end" transform="rotate(-45 240 301.8)">0.025</text>
<text x="166.1" y="281.94" font-size="7.6" text-anchor="end">10</text>
<text x="166.1" y="266.76" font-size="7.6" text-anchor="end">20</text>
<text x="166.1" y="251.59" font-size="7.6" text-anchor="end">30</text>
<text x="166.1" y="236.41" font-size="7.6" text-anchor="end">40</text>
<text x="166.1" y="221.24" font-size="7.6" text-anchor="end">50</text>
<path d="M173 268.3L178.64 268.51L184.27 268.69L189.91 268.82L195.55 268.84L201.18 268.65L206.82 268.19L212.45 267.53L218.09 266.78L223.73 265.97L229.36 265.14L235 264.3L235 271.5L229.36 271.28L223.73 271.07L218.09 270.88L212.45 270.74L206.82 270.7L201.18 270.86L195.55 271.28L189.91 271.92L184.27 272.67L178.64 273.47L173 274.3Z" stroke="none" stroke-width="1" fill="#c6952a" fill-opacity="0.38"/>
<line x1="173" y1="271.3" x2="235" y2="267.9" stroke="#c6952a" stroke-width="0.8"/>
<path d="M182.7 269.2L186.73 268.58L190.75 267.95L194.78 267.27L198.81 266.51L202.84 265.56L206.86 264.13L210.89 262L214.92 259.43L218.95 256.68L222.97 253.86L227 251L227 263.4L222.97 264.03L218.95 264.7L214.92 265.45L210.89 266.37L206.86 267.73L202.84 269.79L198.81 272.32L194.78 275.06L190.75 277.87L186.73 280.73L182.7 283.6Z" stroke="none" stroke-width="1" fill="#8c2a6c" fill-opacity="0.38"/>
<line x1="182.7" y1="276.4" x2="227" y2="257.2" stroke="#8c2a6c" stroke-width="0.8"/>
<text x="152.2" y="249" font-size="8.3" text-anchor="middle" transform="rotate(-90 152.2 249)" textLength="92" lengthAdjust="spacingAndGlyphs">Plasma p-tau181 (pg ml<tspan dy="-3" font-size="5.2">−1</tspan><tspan dy="3">)</tspan></text>
<text x="204.1" y="325.6" font-size="8.6" text-anchor="middle" textLength="61.5" lengthAdjust="spacingAndGlyphs">Plasma Aβ42/40</text>
<text x="171.5" y="209.5" font-size="3.7" fill="#444">Ast<tspan dy="-1.2" font-size="2.5">−</tspan><tspan dy="1.2">:</tspan> <tspan font-style="italic">β</tspan> = −0.05, <tspan font-style="italic">P</tspan> = 0.41</text>
<text x="171.5" y="214.2" font-size="3.7" fill="#444">Ast<tspan dy="-1.2" font-size="2.5">+</tspan><tspan dy="1.2">:</tspan> <tspan font-style="italic">β</tspan> = −0.35, <tspan font-style="italic">P</tspan> = 0.003</text>
<text x="171.5" y="218.9" font-size="3.7" fill="#444">Plasma Aβ<tspan font-size="2.5">42/40</tspan>×Ast status:</text>
<text x="171.5" y="223.6" font-size="3.7" fill="#444"><tspan font-style="italic">β</tspan> = −0.29, <tspan font-style="italic">P</tspan> = 0.022</text>
<path d="M282.4 205.6V292H384" stroke="#b0b0b0" stroke-width="1" fill="none"/>
<path d="M286 292v2M302.33 292v2M318.67 292v2M335 292v2M351.33 292v2M367.67 292v2M384 292v2M282.4 280.3h-2M282.4 259.3h-2M282.4 238.3h-2M282.4 217.3h-2" stroke="#b0b0b0" stroke-width="0.8" fill="none"/>
<text x="290.5" y="301.4" font-size="7" text-anchor="end" transform="rotate(-45 290.5 301.4)">0.09</text>
<text x="306.83" y="301.4" font-size="7" text-anchor="end" transform="rotate(-45 306.83 301.4)">0.08</text>
<text x="323.17" y="301.4" font-size="7" text-anchor="end" transform="rotate(-45 323.17 301.4)">0.07</text>
<text x="339.5" y="301.4" font-size="7" text-anchor="end" transform="rotate(-45 339.5 301.4)">0.06</text>
<text x="355.83" y="301.4" font-size="7" text-anchor="end" transform="rotate(-45 355.83 301.4)">0.05</text>
<text x="372.17" y="301.4" font-size="7" text-anchor="end" transform="rotate(-45 372.17 301.4)">0.04</text>
<text x="388.5" y="301.4" font-size="7" text-anchor="end" transform="rotate(-45 388.5 301.4)">0.03</text>
<text x="277.4" y="283.04" font-size="7.6" text-anchor="end">0</text>
<text x="277.4" y="262.04" font-size="7.6" text-anchor="end">0.5</text>
<text x="277.4" y="241.04" font-size="7.6" text-anchor="end">1.0</text>
<text x="277.4" y="220.04" font-size="7.6" text-anchor="end">1.5</text>
<text x="260.7" y="248.8" font-size="8.3" text-anchor="middle" transform="rotate(-90 260.7 248.8)" textLength="92.5" lengthAdjust="spacingAndGlyphs">Plasma p-tau181 (<tspan font-style="italic">z</tspan> score)</text>
<text x="333" y="325.6" font-size="8.6" text-anchor="middle" textLength="61.5" lengthAdjust="spacingAndGlyphs">Plasma Aβ42/40</text>
<path d="M295 261.7C297.5 261.08 305 259.18 310 258C315 256.82 321.17 255.5 325 254.6C328.83 253.7 330.67 253.28 333 252.6C335.33 251.92 336.83 251.68 339 250.5C341.17 249.32 343.17 247.83 346 245.5C348.83 243.17 352.67 239.5 356 236.5C359.33 233.5 362.57 230.45 366 227.5C369.43 224.55 374.83 220.25 376.6 218.8" stroke="#8c2a6c" stroke-width="1.35" fill="none" stroke-dasharray="1.8 2.15"/>
<path d="M291 282.5C292.5 282.43 296.5 282.18 300 282.1C303.5 282.02 308.67 282 312 282C315.33 282 317.83 281.9 320 282.1C322.17 282.3 323.33 282.83 325 283.2C326.67 283.57 327.5 284.08 330 284.3C332.5 284.52 336.33 284.48 340 284.5C343.67 284.52 348.33 284.47 352 284.4C355.67 284.33 358.58 284.23 362 284.1C365.42 283.97 370.75 283.68 372.5 283.6" stroke="#c6952a" stroke-width="1.35" fill="none" stroke-dasharray="1.8 2.15"/>
<text x="362.8" y="218.8" font-size="6.6">Ast<tspan dy="-2.18" font-size="4.75">+</tspan></text>
<text x="362.8" y="279.6" font-size="6.6">Ast<tspan dy="-2.18" font-size="4.75">−</tspan></text>
<line x1="363.6" y1="335.3" x2="370.4" y2="335.3" stroke="#c6952a" stroke-width="0.9"/>
<rect x="366.3" y="334.6" width="1.4" height="1.4" fill="#c6952a"/>
<text x="375" y="337.8" font-size="7.2">Ast<tspan dy="-2.38" font-size="5.18">−</tspan></text>
<line x1="402.5" y1="335.3" x2="409.7" y2="335.3" stroke="#8c2a6c" stroke-width="0.9"/>
<rect x="405.4" y="334.6" width="1.4" height="1.4" fill="#8c2a6c"/>
<text x="414" y="337.8" font-size="7.2">Ast<tspan dy="-2.38" font-size="5.18">+</tspan></text>
<path d="M443.42 277.27h1.5v1.5h-1.5zM428.04 259.56h1.5v1.5h-1.5zM472.07 255.77h1.5v1.5h-1.5zM425.69 262.89h1.5v1.5h-1.5zM448.85 267.02h1.5v1.5h-1.5zM458.9 263.59h1.5v1.5h-1.5zM458.94 262.61h1.5v1.5h-1.5zM462.68 272.29h1.5v1.5h-1.5zM451.2 269.39h1.5v1.5h-1.5zM437.08 250.65h1.5v1.5h-1.5zM440.41 266.96h1.5v1.5h-1.5zM439.69 280.42h1.5v1.5h-1.5zM470.85 265.93h1.5v1.5h-1.5zM469.2 271.05h1.5v1.5h-1.5zM427.46 268.92h1.5v1.5h-1.5zM435.27 269.68h1.5v1.5h-1.5zM421.62 264.83h1.5v1.5h-1.5zM432.06 267.38h1.5v1.5h-1.5zM461.9 220.35h1.5v1.5h-1.5zM431.05 277.53h1.5v1.5h-1.5zM439.82 250.18h1.5v1.5h-1.5zM445.34 265.36h1.5v1.5h-1.5zM459.16 274.17h1.5v1.5h-1.5zM448.18 256.34h1.5v1.5h-1.5zM450.18 242.41h1.5v1.5h-1.5zM436.29 272.32h1.5v1.5h-1.5zM446.55 281.64h1.5v1.5h-1.5zM427.05 272.96h1.5v1.5h-1.5zM458.56 256.67h1.5v1.5h-1.5zM441.92 280.62h1.5v1.5h-1.5zM441.55 277.62h1.5v1.5h-1.5zM459.76 273.27h1.5v1.5h-1.5zM463.99 243.75h1.5v1.5h-1.5zM434.68 261.78h1.5v1.5h-1.5zM441.3 269.03h1.5v1.5h-1.5zM450.38 269.34h1.5v1.5h-1.5zM442.95 272.9h1.5v1.5h-1.5zM457.23 274.8h1.5v1.5h-1.5zM445.03 272.12h1.5v1.5h-1.5zM456.3 258.18h1.5v1.5h-1.5zM445.69 279h1.5v1.5h-1.5zM435.04 280.04h1.5v1.5h-1.5zM452.75 249.11h1.5v1.5h-1.5zM436.86 278.65h1.5v1.5h-1.5zM462.03 263.97h1.5v1.5h-1.5zM452.07 269.1h1.5v1.5h-1.5zM466.44 279.14h1.5v1.5h-1.5zM449.56 265.04h1.5v1.5h-1.5zM447.16 271.66h1.5v1.5h-1.5zM450.85 274.76h1.5v1.5h-1.5zM451.79 261.41h1.5v1.5h-1.5zM430.31 277.14h1.5v1.5h-1.5zM429.2 274.34h1.5v1.5h-1.5zM464.45 269.77h1.5v1.5h-1.5zM432.53 275.8h1.5v1.5h-1.5zM471.23 270.13h1.5v1.5h-1.5zM458.02 270.12h1.5v1.5h-1.5zM450.53 240.04h1.5v1.5h-1.5zM446.73 247.86h1.5v1.5h-1.5zM462.2 252.28h1.5v1.5h-1.5zM457.86 264h1.5v1.5h-1.5zM447.19 270.75h1.5v1.5h-1.5zM457.48 274.96h1.5v1.5h-1.5zM456.78 277.67h1.5v1.5h-1.5zM439.32 274.02h1.5v1.5h-1.5zM435.77 255.07h1.5v1.5h-1.5zM449.02 276.41h1.5v1.5h-1.5zM447.97 273.28h1.5v1.5h-1.5zM448.48 275.71h1.5v1.5h-1.5zM454.28 274.64h1.5v1.5h-1.5zM455.04 281.52h1.5v1.5h-1.5zM462.07 259.32h1.5v1.5h-1.5zM439.55 270.48h1.5v1.5h-1.5zM449.34 258.27h1.5v1.5h-1.5zM450.05 276.53h1.5v1.5h-1.5zM445.54 278.61h1.5v1.5h-1.5zM441.13 266.69h1.5v1.5h-1.5zM429.23 265.64h1.5v1.5h-1.5zM451.87 253.84h1.5v1.5h-1.5zM453.57 260.42h1.5v1.5h-1.5zM445.54 276.21h1.5v1.5h-1.5zM459.51 273.08h1.5v1.5h-1.5zM431.22 255.1h1.5v1.5h-1.5zM435.84 260.07h1.5v1.5h-1.5zM438.95 250.36h1.5v1.5h-1.5zM449.81 265.72h1.5v1.5h-1.5zM438.34 268.33h1.5v1.5h-1.5zM434.19 280.59h1.5v1.5h-1.5zM441.54 266.67h1.5v1.5h-1.5zM451.95 277.55h1.5v1.5h-1.5zM470.72 267.84h1.5v1.5h-1.5zM435.57 276.13h1.5v1.5h-1.5zM452.93 260.89h1.5v1.5h-1.5zM459.48 265.19h1.5v1.5h-1.5zM436.32 272.39h1.5v1.5h-1.5zM443.7 245.53h1.5v1.5h-1.5zM467.16 272.86h1.5v1.5h-1.5zM449.54 266.74h1.5v1.5h-1.5zM451.81 267.59h1.5v1.5h-1.5zM434.96 225.79h1.5v1.5h-1.5zM473.53 277.23h1.5v1.5h-1.5zM453.36 271.01h1.5v1.5h-1.5zM450.06 253.49h1.5v1.5h-1.5zM429.26 270.84h1.5v1.5h-1.5zM462.68 263.82h1.5v1.5h-1.5zM487.49 273.92h1.5v1.5h-1.5zM466.7 270.88h1.5v1.5h-1.5zM444.7 261.4h1.5v1.5h-1.5zM437.4 273.68h1.5v1.5h-1.5zM425.06 275.42h1.5v1.5h-1.5zM442.86 276.69h1.5v1.5h-1.5zM458.93 266.1h1.5v1.5h-1.5zM436.4 276.05h1.5v1.5h-1.5zM448.36 256.29h1.5v1.5h-1.5zM450.9 277.24h1.5v1.5h-1.5zM447.98 246.93h1.5v1.5h-1.5zM431.19 269.19h1.5v1.5h-1.5zM460.25 262.36h1.5v1.5h-1.5zM461.89 271.01h1.5v1.5h-1.5zM449.1 266.28h1.5v1.5h-1.5zM449.1 252.89h1.5v1.5h-1.5zM459.09 271.86h1.5v1.5h-1.5zM459.96 258.13h1.5v1.5h-1.5zM443.17 267.89h1.5v1.5h-1.5zM430.35 274.59h1.5v1.5h-1.5zM438.69 265.74h1.5v1.5h-1.5zM439.06 270.87h1.5v1.5h-1.5zM431.58 278.78h1.5v1.5h-1.5zM474.81 273.89h1.5v1.5h-1.5zM468.39 252.21h1.5v1.5h-1.5zM457.64 263.39h1.5v1.5h-1.5zM464.18 272.67h1.5v1.5h-1.5zM461.43 279.29h1.5v1.5h-1.5zM447.28 240.15h1.5v1.5h-1.5zM465.37 268.62h1.5v1.5h-1.5zM454.14 263.46h1.5v1.5h-1.5zM475.5 258.73h1.5v1.5h-1.5zM461.22 274.49h1.5v1.5h-1.5zM430.24 275.86h1.5v1.5h-1.5zM455.46 249.75h1.5v1.5h-1.5zM443.88 279.42h1.5v1.5h-1.5zM438.76 266.05h1.5v1.5h-1.5zM454.77 274.63h1.5v1.5h-1.5zM440.48 255.38h1.5v1.5h-1.5zM445.35 271.61h1.5v1.5h-1.5zM438.9 260.16h1.5v1.5h-1.5zM456.7 281.01h1.5v1.5h-1.5zM467.45 278.99h1.5v1.5h-1.5zM461.87 256.74h1.5v1.5h-1.5zM455.62 268.27h1.5v1.5h-1.5zM441.06 258.23h1.5v1.5h-1.5zM450.94 277.1h1.5v1.5h-1.5zM453.54 265.7h1.5v1.5h-1.5zM450.61 281.25h1.5v1.5h-1.5zM433.53 245.74h1.5v1.5h-1.5zM455.9 271.91h1.5v1.5h-1.5zM428.03 256.28h1.5v1.5h-1.5zM464.61 265.88h1.5v1.5h-1.5zM456.12 267.9h1.5v1.5h-1.5zM436.79 269.02h1.5v1.5h-1.5zM441.3 258.66h1.5v1.5h-1.5zM459.64 268.29h1.5v1.5h-1.5zM449.67 278.06h1.5v1.5h-1.5zM457.68 261.4h1.5v1.5h-1.5zM436.85 269.94h1.5v1.5h-1.5zM441.01 276.48h1.5v1.5h-1.5zM457.74 270.7h1.5v1.5h-1.5zM442.91 268.66h1.5v1.5h-1.5zM453.12 254.16h1.5v1.5h-1.5zM449.17 263.72h1.5v1.5h-1.5zM447.35 275.68h1.5v1.5h-1.5zM455.75 268.22h1.5v1.5h-1.5zM442.54 280.45h1.5v1.5h-1.5zM442.07 267.97h1.5v1.5h-1.5zM442.53 275.56h1.5v1.5h-1.5zM433.46 270.66h1.5v1.5h-1.5zM451.84 281.27h1.5v1.5h-1.5zM468.02 249.14h1.5v1.5h-1.5zM454.75 275.4h1.5v1.5h-1.5zM445.53 278.42h1.5v1.5h-1.5zM447.92 250.66h1.5v1.5h-1.5zM440.49 254.24h1.5v1.5h-1.5zM437.44 252.44h1.5v1.5h-1.5zM449.78 250.86h1.5v1.5h-1.5zM449.69 269.83h1.5v1.5h-1.5zM461.4 273.08h1.5v1.5h-1.5zM434.42 252.13h1.5v1.5h-1.5zM451.74 260.72h1.5v1.5h-1.5zM462.68 266.64h1.5v1.5h-1.5zM463.1 278.56h1.5v1.5h-1.5zM453.75 280.51h1.5v1.5h-1.5zM427.44 271.55h1.5v1.5h-1.5zM437.9 277.04h1.5v1.5h-1.5zM470.84 257.23h1.5v1.5h-1.5zM449.86 277.96h1.5v1.5h-1.5zM444.69 258.01h1.5v1.5h-1.5zM439.85 259.85h1.5v1.5h-1.5zM443.62 272.51h1.5v1.5h-1.5zM456.77 268.82h1.5v1.5h-1.5zM442.71 253.64h1.5v1.5h-1.5zM455.62 247.49h1.5v1.5h-1.5zM478.14 275.68h1.5v1.5h-1.5zM457.68 208.73h1.5v1.5h-1.5zM457.38 275.68h1.5v1.5h-1.5zM435.48 266.52h1.5v1.5h-1.5zM434.11 273.92h1.5v1.5h-1.5zM462.17 274.59h1.5v1.5h-1.5zM445.89 269.79h1.5v1.5h-1.5zM447.01 279.07h1.5v1.5h-1.5zM467.39 269.35h1.5v1.5h-1.5zM475.64 272.04h1.5v1.5h-1.5zM449.45 263.07h1.5v1.5h-1.5zM446.39 256.49h1.5v1.5h-1.5zM456.16 263.85h1.5v1.5h-1.5zM484.42 265.78h1.5v1.5h-1.5zM448.61 266.76h1.5v1.5h-1.5zM455.94 257.11h1.5v1.5h-1.5zM460.09 275.78h1.5v1.5h-1.5zM452.54 270.84h1.5v1.5h-1.5zM463.29 269.82h1.5v1.5h-1.5zM440.74 276.21h1.5v1.5h-1.5zM448.07 269.51h1.5v1.5h-1.5zM455.69 270.75h1.5v1.5h-1.5zM444.45 271.57h1.5v1.5h-1.5zM448.64 269.65h1.5v1.5h-1.5zM468.49 265.2h1.5v1.5h-1.5zM450.14 257h1.5v1.5h-1.5zM454.32 258.57h1.5v1.5h-1.5zM471.46 280.75h1.5v1.5h-1.5zM456.92 280.57h1.5v1.5h-1.5zM442.52 269.65h1.5v1.5h-1.5zM456.49 272.37h1.5v1.5h-1.5zM429.42 261.23h1.5v1.5h-1.5zM425.53 266.38h1.5v1.5h-1.5zM452.31 246.45h1.5v1.5h-1.5zM440.82 279.55h1.5v1.5h-1.5zM421.62 272.06h1.5v1.5h-1.5zM452.64 264.44h1.5v1.5h-1.5zM460.22 279.66h1.5v1.5h-1.5zM453.85 270.81h1.5v1.5h-1.5zM466.57 264.44h1.5v1.5h-1.5zM466.23 275.9h1.5v1.5h-1.5zM445.43 255.95h1.5v1.5h-1.5zM453.78 277.82h1.5v1.5h-1.5zM444.92 276.69h1.5v1.5h-1.5zM441.69 272.26h1.5v1.5h-1.5zM458.42 273.83h1.5v1.5h-1.5zM450.81 273.04h1.5v1.5h-1.5zM451.81 268.43h1.5v1.5h-1.5zM457.14 271.43h1.5v1.5h-1.5zM459.39 272.42h1.5v1.5h-1.5zM444 271.45h1.5v1.5h-1.5zM450.09 276.18h1.5v1.5h-1.5zM443.78 254.18h1.5v1.5h-1.5zM434.85 262.26h1.5v1.5h-1.5zM434.67 270.83h1.5v1.5h-1.5zM463.07 278.16h1.5v1.5h-1.5zM459.64 266.79h1.5v1.5h-1.5zM451.64 279.59h1.5v1.5h-1.5zM446.56 267.1h1.5v1.5h-1.5zM435.68 262.02h1.5v1.5h-1.5zM461.06 263.32h1.5v1.5h-1.5zM454.05 278.38h1.5v1.5h-1.5zM444.91 261.74h1.5v1.5h-1.5zM431.8 273.13h1.5v1.5h-1.5zM429.79 269.12h1.5v1.5h-1.5zM461.65 258.41h1.5v1.5h-1.5zM451.05 277.16h1.5v1.5h-1.5zM459 277.53h1.5v1.5h-1.5zM436.9 277.39h1.5v1.5h-1.5zM442.25 268.76h1.5v1.5h-1.5zM452.99 264.29h1.5v1.5h-1.5zM456.38 277.86h1.5v1.5h-1.5zM444.27 267.18h1.5v1.5h-1.5zM435.12 273.97h1.5v1.5h-1.5zM458.46 269.57h1.5v1.5h-1.5zM452.54 261.63h1.5v1.5h-1.5zM446.71 263.18h1.5v1.5h-1.5zM447.97 278.55h1.5v1.5h-1.5zM443.7 265.07h1.5v1.5h-1.5zM461.56 270.38h1.5v1.5h-1.5zM456.16 278.06h1.5v1.5h-1.5zM476.26 275.79h1.5v1.5h-1.5zM447.47 261.01h1.5v1.5h-1.5zM433.92 266.25h1.5v1.5h-1.5zM475.69 272.5h1.5v1.5h-1.5zM456.65 277.89h1.5v1.5h-1.5zM436.21 275.86h1.5v1.5h-1.5zM450.12 269h1.5v1.5h-1.5zM473.52 275.42h1.5v1.5h-1.5zM432.6 265.95h1.5v1.5h-1.5zM467.26 261.78h1.5v1.5h-1.5zM429.9 274h1.5v1.5h-1.5zM456.02 258.62h1.5v1.5h-1.5zM457.65 277.4h1.5v1.5h-1.5zM447.85 269.61h1.5v1.5h-1.5zM448.51 277.49h1.5v1.5h-1.5zM440.19 270.92h1.5v1.5h-1.5zM441.5 273.66h1.5v1.5h-1.5zM450.19 257.26h1.5v1.5h-1.5zM430.55 267.26h1.5v1.5h-1.5zM438.68 241.88h1.5v1.5h-1.5zM444.56 278.27h1.5v1.5h-1.5zM446.41 268.33h1.5v1.5h-1.5zM449.49 261.81h1.5v1.5h-1.5zM449.25 261.1h1.5v1.5h-1.5zM439.33 260.56h1.5v1.5h-1.5zM441.88 274.78h1.5v1.5h-1.5zM447.68 280.41h1.5v1.5h-1.5zM434.66 280.33h1.5v1.5h-1.5zM451.72 246.06h1.5v1.5h-1.5zM442.39 257.99h1.5v1.5h-1.5zM436.73 274.44h1.5v1.5h-1.5zM463.11 258.27h1.5v1.5h-1.5zM451.74 275.27h1.5v1.5h-1.5zM425.93 250.99h1.5v1.5h-1.5zM461 247.16h1.5v1.5h-1.5zM432.83 272.21h1.5v1.5h-1.5zM462.37 274.64h1.5v1.5h-1.5zM442.8 269.07h1.5v1.5h-1.5zM462.43 278.23h1.5v1.5h-1.5zM456.45 269.74h1.5v1.5h-1.5zM453.23 257h1.5v1.5h-1.5zM455.54 267.84h1.5v1.5h-1.5zM434.74 279.28h1.5v1.5h-1.5zM437.08 275.64h1.5v1.5h-1.5zM436.59 274.38h1.5v1.5h-1.5zM445.63 266.86h1.5v1.5h-1.5zM426.35 278.82h1.5v1.5h-1.5zM434.47 267h1.5v1.5h-1.5zM443.88 269.35h1.5v1.5h-1.5zM462.22 283.07h1.5v1.5h-1.5zM439.06 273.67h1.5v1.5h-1.5zM439.5 278.81h1.5v1.5h-1.5zM446.95 269.78h1.5v1.5h-1.5zM438.69 275.6h1.5v1.5h-1.5zM437.93 267.69h1.5v1.5h-1.5zM452.2 254.88h1.5v1.5h-1.5zM440.66 279.2h1.5v1.5h-1.5zM443.58 281.33h1.5v1.5h-1.5zM444.03 254.39h1.5v1.5h-1.5zM452.78 270.37h1.5v1.5h-1.5zM454.4 277.8h1.5v1.5h-1.5zM446.63 276.94h1.5v1.5h-1.5zM429.09 263.7h1.5v1.5h-1.5zM421.62 253.64h1.5v1.5h-1.5zM453.15 264.97h1.5v1.5h-1.5zM462.3 270.46h1.5v1.5h-1.5zM452.78 261.54h1.5v1.5h-1.5zM459.37 269.96h1.5v1.5h-1.5zM453.78 277.81h1.5v1.5h-1.5zM442.91 267.76h1.5v1.5h-1.5zM460.42 278.37h1.5v1.5h-1.5zM440.08 278.23h1.5v1.5h-1.5zM437.64 261.28h1.5v1.5h-1.5zM427.96 237.45h1.5v1.5h-1.5zM423.92 271.49h1.5v1.5h-1.5zM434.89 277.62h1.5v1.5h-1.5zM421.62 274.28h1.5v1.5h-1.5zM454.89 272.85h1.5v1.5h-1.5zM444.52 263.79h1.5v1.5h-1.5zM445.92 273.48h1.5v1.5h-1.5zM442.35 282.16h1.5v1.5h-1.5zM434.53 266.26h1.5v1.5h-1.5zM452.53 269.27h1.5v1.5h-1.5zM425.33 282.63h1.5v1.5h-1.5zM431.17 275.3h1.5v1.5h-1.5zM443.5 277h1.5v1.5h-1.5zM441.91 261.96h1.5v1.5h-1.5zM461.08 277.58h1.5v1.5h-1.5zM481.28 274.96h1.5v1.5h-1.5zM449.29 264.56h1.5v1.5h-1.5zM443.89 260.11h1.5v1.5h-1.5zM445.07 276.96h1.5v1.5h-1.5zM462.77 270.61h1.5v1.5h-1.5zM454.12 257.12h1.5v1.5h-1.5zM424.72 279.4h1.5v1.5h-1.5zM438.38 268.2h1.5v1.5h-1.5zM439.88 273.8h1.5v1.5h-1.5zM452.21 279.49h1.5v1.5h-1.5zM438.24 265.38h1.5v1.5h-1.5zM430.95 267.64h1.5v1.5h-1.5zM437.98 273h1.5v1.5h-1.5zM453.47 265.2h1.5v1.5h-1.5zM444.27 273.81h1.5v1.5h-1.5zM459.76 271.49h1.5v1.5h-1.5zM452.11 255.52h1.5v1.5h-1.5zM440.19 275.92h1.5v1.5h-1.5zM455.15 274.69h1.5v1.5h-1.5zM451.12 275.18h1.5v1.5h-1.5zM428.98 271.51h1.5v1.5h-1.5zM450.27 276.35h1.5v1.5h-1.5zM437.86 269.68h1.5v1.5h-1.5zM452.02 267.67h1.5v1.5h-1.5zM463.13 267.48h1.5v1.5h-1.5zM447.97 271.16h1.5v1.5h-1.5zM452.8 266.75h1.5v1.5h-1.5zM474.71 281.92h1.5v1.5h-1.5zM463.98 270.5h1.5v1.5h-1.5zM453.6 265.79h1.5v1.5h-1.5zM428.44 258.44h1.5v1.5h-1.5zM455.64 272.76h1.5v1.5h-1.5zM448.45 281.47h1.5v1.5h-1.5zM439.67 279.52h1.5v1.5h-1.5zM444.16 271.44h1.5v1.5h-1.5zM452.5 276.22h1.5v1.5h-1.5zM425.47 281.47h1.5v1.5h-1.5zM430.26 276.73h1.5v1.5h-1.5zM480.35 253.65h1.5v1.5h-1.5zM435.28 236.39h1.5v1.5h-1.5zM440.81 265.49h1.5v1.5h-1.5zM435.03 278.68h1.5v1.5h-1.5zM446.83 253.62h1.5v1.5h-1.5zM437.08 275.7h1.5v1.5h-1.5zM422.48 268.7h1.5v1.5h-1.5zM425.33 266.89h1.5v1.5h-1.5zM424.3 261.7h1.5v1.5h-1.5zM434.06 264.38h1.5v1.5h-1.5zM435.78 283.39h1.5v1.5h-1.5zM435.53 276.7h1.5v1.5h-1.5zM462.83 263.62h1.5v1.5h-1.5zM421.62 277.89h1.5v1.5h-1.5zM444.86 267.72h1.5v1.5h-1.5zM443.7 266.63h1.5v1.5h-1.5zM446.42 267.65h1.5v1.5h-1.5zM441.73 275.61h1.5v1.5h-1.5zM476.11 277.94h1.5v1.5h-1.5zM444.96 270.66h1.5v1.5h-1.5zM464.79 249.84h1.5v1.5h-1.5zM461.07 265.66h1.5v1.5h-1.5zM472.65 278.74h1.5v1.5h-1.5zM470.78 256.45h1.5v1.5h-1.5zM440.25 274.12h1.5v1.5h-1.5zM454.51 262.18h1.5v1.5h-1.5zM449.4 265.88h1.5v1.5h-1.5zM450.31 265.6h1.5v1.5h-1.5zM463.43 265.22h1.5v1.5h-1.5zM457.44 256.65h1.5v1.5h-1.5zM464.76 273.35h1.5v1.5h-1.5zM452.19 276.17h1.5v1.5h-1.5zM477.53 267.7h1.5v1.5h-1.5zM453.31 262.96h1.5v1.5h-1.5zM436.02 274.24h1.5v1.5h-1.5zM432.1 271.51h1.5v1.5h-1.5zM432.94 264.51h1.5v1.5h-1.5zM441.55 264.41h1.5v1.5h-1.5zM461.47 275.99h1.5v1.5h-1.5zM436.11 276.21h1.5v1.5h-1.5zM441.26 263.43h1.5v1.5h-1.5zM444.63 271.6h1.5v1.5h-1.5zM464.25 271.12h1.5v1.5h-1.5zM442.98 267.64h1.5v1.5h-1.5zM429.44 279.89h1.5v1.5h-1.5zM438.33 271.01h1.5v1.5h-1.5zM451.21 276.93h1.5v1.5h-1.5zM440.94 255.37h1.5v1.5h-1.5zM448.13 278.85h1.5v1.5h-1.5zM445.82 273.34h1.5v1.5h-1.5zM436.96 264.88h1.5v1.5h-1.5zM443.62 269.87h1.5v1.5h-1.5zM447.22 274.49h1.5v1.5h-1.5zM443.08 273.93h1.5v1.5h-1.5zM459.07 253.54h1.5v1.5h-1.5zM461.41 275.86h1.5v1.5h-1.5zM441.76 275.47h1.5v1.5h-1.5zM456.06 268.91h1.5v1.5h-1.5zM440.77 274.91h1.5v1.5h-1.5zM472.63 262.06h1.5v1.5h-1.5zM432.3 271.1h1.5v1.5h-1.5zM449.53 273.02h1.5v1.5h-1.5zM426.09 277.31h1.5v1.5h-1.5zM481.06 275.41h1.5v1.5h-1.5zM470.52 276.06h1.5v1.5h-1.5zM429.56 247.3h1.5v1.5h-1.5zM446.1 280.03h1.5v1.5h-1.5zM444.14 265.38h1.5v1.5h-1.5zM446.52 262.94h1.5v1.5h-1.5zM446.04 276.98h1.5v1.5h-1.5zM441.02 280.18h1.5v1.5h-1.5zM461.55 257.15h1.5v1.5h-1.5zM450.37 266.65h1.5v1.5h-1.5zM430.89 270.48h1.5v1.5h-1.5zM445.75 255.01h1.5v1.5h-1.5zM456.38 249.68h1.5v1.5h-1.5zM446.87 269.7h1.5v1.5h-1.5zM434.28 258.13h1.5v1.5h-1.5zM450.78 259.38h1.5v1.5h-1.5zM450.49 264.91h1.5v1.5h-1.5zM441.62 272.88h1.5v1.5h-1.5zM436.84 270.23h1.5v1.5h-1.5zM428.53 265.12h1.5v1.5h-1.5zM449.84 274.98h1.5v1.5h-1.5zM443.5 273.48h1.5v1.5h-1.5zM434.25 271.42h1.5v1.5h-1.5zM473.36 272.89h1.5v1.5h-1.5zM446.18 267.86h1.5v1.5h-1.5zM441.94 263.23h1.5v1.5h-1.5zM449.17 280.53h1.5v1.5h-1.5zM459.37 257.48h1.5v1.5h-1.5zM440.28 276.17h1.5v1.5h-1.5zM431.53 282.77h1.5v1.5h-1.5zM449.2 274.11h1.5v1.5h-1.5zM454.43 256.09h1.5v1.5h-1.5zM450.86 277.52h1.5v1.5h-1.5zM427.32 276.84h1.5v1.5h-1.5zM431.46 266.98h1.5v1.5h-1.5zM447.39 270.67h1.5v1.5h-1.5zM462.52 268.1h1.5v1.5h-1.5zM464.76 256.95h1.5v1.5h-1.5zM452.22 272.42h1.5v1.5h-1.5zM452.12 271.31h1.5v1.5h-1.5zM444.37 271.45h1.5v1.5h-1.5zM462.94 262.55h1.5v1.5h-1.5zM449.56 249.45h1.5v1.5h-1.5zM440.81 262.87h1.5v1.5h-1.5zM470.33 261.71h1.5v1.5h-1.5zM421.62 276.73h1.5v1.5h-1.5zM440.21 277.12h1.5v1.5h-1.5zM440.86 265.51h1.5v1.5h-1.5zM465.18 275.12h1.5v1.5h-1.5z" stroke="none" stroke-width="1" fill="#c6952a"/>
<path d="M473.68 270.31h1.5v1.5h-1.5zM471.09 268.31h1.5v1.5h-1.5zM472.4 268.88h1.5v1.5h-1.5zM463.33 260.75h1.5v1.5h-1.5zM435.68 248.39h1.5v1.5h-1.5zM476.4 248.34h1.5v1.5h-1.5zM442.4 266.91h1.5v1.5h-1.5zM438.15 265.07h1.5v1.5h-1.5zM459.76 240.78h1.5v1.5h-1.5zM464.37 267.82h1.5v1.5h-1.5zM448.71 269.88h1.5v1.5h-1.5zM438.79 262.64h1.5v1.5h-1.5zM426.22 253.76h1.5v1.5h-1.5zM443.1 263.25h1.5v1.5h-1.5zM433.72 263.97h1.5v1.5h-1.5zM461.03 260.11h1.5v1.5h-1.5zM466.69 269.66h1.5v1.5h-1.5zM477.98 252h1.5v1.5h-1.5zM470.42 248.98h1.5v1.5h-1.5zM459.87 260.84h1.5v1.5h-1.5zM452.43 260.52h1.5v1.5h-1.5zM472.55 269.04h1.5v1.5h-1.5zM444.11 254.66h1.5v1.5h-1.5zM456.39 265.92h1.5v1.5h-1.5zM463.59 268.05h1.5v1.5h-1.5zM465.23 272.36h1.5v1.5h-1.5zM428.02 265.49h1.5v1.5h-1.5zM452.75 238.33h1.5v1.5h-1.5zM467 256.41h1.5v1.5h-1.5zM467.75 267.54h1.5v1.5h-1.5zM430.47 264.8h1.5v1.5h-1.5zM462.74 272.48h1.5v1.5h-1.5zM439.13 260.11h1.5v1.5h-1.5zM436 255.29h1.5v1.5h-1.5zM486.06 265.32h1.5v1.5h-1.5zM436.97 254.45h1.5v1.5h-1.5zM457.8 269.62h1.5v1.5h-1.5zM469.49 265.59h1.5v1.5h-1.5zM462.27 256.66h1.5v1.5h-1.5zM447.52 251.01h1.5v1.5h-1.5zM450.02 266.36h1.5v1.5h-1.5zM449.33 258.83h1.5v1.5h-1.5zM464.69 265.62h1.5v1.5h-1.5zM437.93 268.54h1.5v1.5h-1.5zM434.95 226.84h1.5v1.5h-1.5zM430.52 260.06h1.5v1.5h-1.5zM441.65 264.08h1.5v1.5h-1.5zM429.71 236.01h1.5v1.5h-1.5zM427.04 242.26h1.5v1.5h-1.5zM445.61 269.04h1.5v1.5h-1.5zM443.24 266.31h1.5v1.5h-1.5zM447.24 249.27h1.5v1.5h-1.5zM447.65 257.14h1.5v1.5h-1.5zM443.48 257.84h1.5v1.5h-1.5zM477.84 226.81h1.5v1.5h-1.5zM459.34 259.78h1.5v1.5h-1.5zM448.5 266.39h1.5v1.5h-1.5zM483.16 265.79h1.5v1.5h-1.5zM474.27 268.14h1.5v1.5h-1.5zM433.85 259.31h1.5v1.5h-1.5zM469.16 271.61h1.5v1.5h-1.5zM461.21 265.96h1.5v1.5h-1.5zM450 251.87h1.5v1.5h-1.5zM461.37 262.78h1.5v1.5h-1.5zM466.51 257.25h1.5v1.5h-1.5zM461.9 269.52h1.5v1.5h-1.5zM460.73 269.04h1.5v1.5h-1.5zM462.76 254.82h1.5v1.5h-1.5zM452.58 246.12h1.5v1.5h-1.5zM433.51 266.49h1.5v1.5h-1.5zM450.25 246.36h1.5v1.5h-1.5zM433.31 223.97h1.5v1.5h-1.5zM445.13 257.93h1.5v1.5h-1.5zM443.84 270.81h1.5v1.5h-1.5zM447.18 253.06h1.5v1.5h-1.5zM459 274.98h1.5v1.5h-1.5zM449.38 253.19h1.5v1.5h-1.5zM450.97 258.78h1.5v1.5h-1.5zM469.87 249.98h1.5v1.5h-1.5zM445.02 262.61h1.5v1.5h-1.5zM447.3 252.94h1.5v1.5h-1.5zM450.09 271.28h1.5v1.5h-1.5zM462.47 257.49h1.5v1.5h-1.5zM487.8 272h1.5v1.5h-1.5zM435.41 265.94h1.5v1.5h-1.5zM455.95 273.79h1.5v1.5h-1.5zM484.09 271.18h1.5v1.5h-1.5zM446.33 259.67h1.5v1.5h-1.5zM464.35 262.05h1.5v1.5h-1.5zM445.84 265.23h1.5v1.5h-1.5zM456.37 268.66h1.5v1.5h-1.5zM439.86 261.27h1.5v1.5h-1.5zM451.89 266.31h1.5v1.5h-1.5zM451.28 259.24h1.5v1.5h-1.5zM453.01 250.14h1.5v1.5h-1.5zM438.58 255.76h1.5v1.5h-1.5zM472.32 254.11h1.5v1.5h-1.5zM439.29 262.52h1.5v1.5h-1.5zM445.81 263.09h1.5v1.5h-1.5zM462.42 243.82h1.5v1.5h-1.5zM455.04 256.09h1.5v1.5h-1.5zM460.97 257.24h1.5v1.5h-1.5zM454.22 268.82h1.5v1.5h-1.5zM442.45 258.71h1.5v1.5h-1.5zM464.08 245.67h1.5v1.5h-1.5zM445.09 242.7h1.5v1.5h-1.5zM442.45 246.15h1.5v1.5h-1.5zM446.5 244.85h1.5v1.5h-1.5zM434.14 239.24h1.5v1.5h-1.5zM455.97 265.57h1.5v1.5h-1.5zM445.76 268.53h1.5v1.5h-1.5zM421.91 243.63h1.5v1.5h-1.5zM454.63 250.3h1.5v1.5h-1.5zM456.87 217.73h1.5v1.5h-1.5zM454.95 252.24h1.5v1.5h-1.5zM447.18 267.03h1.5v1.5h-1.5zM463.27 249.89h1.5v1.5h-1.5zM458.29 262.73h1.5v1.5h-1.5zM478.45 273.35h1.5v1.5h-1.5zM469.03 272.25h1.5v1.5h-1.5zM468.65 274h1.5v1.5h-1.5zM470.51 266.4h1.5v1.5h-1.5zM460.94 265.24h1.5v1.5h-1.5zM445.75 264.74h1.5v1.5h-1.5zM460.13 266.99h1.5v1.5h-1.5zM472.68 265.23h1.5v1.5h-1.5zM451.78 254.83h1.5v1.5h-1.5zM452.75 270.6h1.5v1.5h-1.5zM473.73 244.45h1.5v1.5h-1.5zM453.03 247.74h1.5v1.5h-1.5z" stroke="none" stroke-width="1" fill="#8c2a6c"/>
<path d="M422.5 206V291.5H489.8" stroke="#6a6a6a" stroke-width="0.6" fill="none"/>
<path d="M433.7 291.5v1.8M445.62 291.5v1.8M457.55 291.5v1.8M469.47 291.5v1.8M481.4 291.5v1.8M422.5 291.4h-1.8M422.5 264.5h-1.8M422.5 237.6h-1.8M422.5 210.7h-1.8" stroke="#6a6a6a" stroke-width="0.48" fill="none"/>
<text x="438.41" y="301.88" font-size="8.4" text-anchor="end" transform="rotate(-45 438.41 301.88)">0.08</text>
<text x="450.33" y="301.88" font-size="8.4" text-anchor="end" transform="rotate(-45 450.33 301.88)">0.07</text>
<text x="462.26" y="301.88" font-size="8.4" text-anchor="end" transform="rotate(-45 462.26 301.88)">0.06</text>
<text x="474.18" y="301.88" font-size="8.4" text-anchor="end" transform="rotate(-45 474.18 301.88)">0.05</text>
<text x="486.11" y="301.88" font-size="8.4" text-anchor="end" transform="rotate(-45 486.11 301.88)">0.04</text>
<text x="418.1" y="294.21" font-size="7.8" text-anchor="end">0</text>
<text x="418.1" y="267.31" font-size="7.8" text-anchor="end">2</text>
<text x="418.1" y="240.41" font-size="7.8" text-anchor="end">4</text>
<text x="418.1" y="213.51" font-size="7.8" text-anchor="end">6</text>
<path d="M425.3 266.7L430.67 266.94L436.05 267.14L441.42 267.31L446.79 267.4L452.16 267.37L457.54 267.18L462.91 266.86L468.28 266.43L473.65 265.95L479.03 265.44L484.4 264.9L484.4 270.5L479.03 270.26L473.65 270.03L468.28 269.84L462.91 269.71L457.54 269.67L452.16 269.78L446.79 270.04L441.42 270.42L436.05 270.87L430.67 271.37L425.3 271.9Z" stroke="none" stroke-width="1" fill="#c6952a" fill-opacity="0.4"/>
<line x1="425.3" y1="269.3" x2="484.4" y2="267.7" stroke="#c6952a" stroke-width="0.8"/>
<path d="M428.9 262.3L434.19 261.64L439.48 260.89L444.77 259.97L450.06 258.76L455.35 257.21L460.65 255.43L465.94 253.51L471.23 251.53L476.52 249.51L481.81 247.46L487.1 245.4L487.1 257.4L481.81 257.96L476.52 258.53L471.23 259.12L465.94 259.76L460.65 260.46L455.35 261.3L450.06 262.37L444.77 263.78L439.48 265.47L434.19 267.34L428.9 269.3Z" stroke="none" stroke-width="1" fill="#8c2a6c" fill-opacity="0.4"/>
<line x1="428.9" y1="265.8" x2="487.1" y2="251.4" stroke="#8c2a6c" stroke-width="0.8"/>
<text x="408.6" y="248.8" font-size="8.3" text-anchor="middle" transform="rotate(-90 408.6 248.8)" textLength="92" lengthAdjust="spacingAndGlyphs">Plasma p-tau181 (pg ml<tspan dy="-3" font-size="5.2">−1</tspan><tspan dy="3">)</tspan></text>
<text x="455.2" y="325.6" font-size="8.6" text-anchor="middle" textLength="61.5" lengthAdjust="spacingAndGlyphs">Plasma Aβ42/40</text>
<text x="423.6" y="209.3" font-size="3.7" fill="#444">Ast<tspan dy="-1.2" font-size="2.5">−</tspan><tspan dy="1.2">:</tspan> <tspan font-style="italic">β</tspan> = −0.01, <tspan font-style="italic">P</tspan> = 0.95</text>
<text x="423.6" y="213.9" font-size="3.7" fill="#444">Ast<tspan dy="-1.2" font-size="2.5">+</tspan><tspan dy="1.2">:</tspan> <tspan font-style="italic">β</tspan> = −0.20, <tspan font-style="italic">P</tspan> = 0.026</text>
<text x="423.6" y="218.5" font-size="3.7" fill="#444">Plasma Aβ<tspan font-size="2.5">42/40</tspan>×Ast status:</text>
<text x="423.6" y="223.1" font-size="3.7" fill="#444"><tspan font-style="italic">β</tspan> = −0.19, <tspan font-style="italic">P</tspan> = 0.039</text>
<path d="M535 204.4V291.6H636.4" stroke="#b0b0b0" stroke-width="1" fill="none"/>
<path d="M544 291.6v2M567.1 291.6v2M590.2 291.6v2M613.3 291.6v2M636.4 291.6v2M535 282.5h-2M535 267.75h-2M535 253h-2M535 238.25h-2M535 223.5h-2M535 208.75h-2" stroke="#b0b0b0" stroke-width="0.8" fill="none"/>
<text x="544" y="303" font-size="7.6" text-anchor="middle">0</text>
<text x="567.1" y="303" font-size="7.6" text-anchor="middle">20</text>
<text x="590.2" y="303" font-size="7.6" text-anchor="middle">40</text>
<text x="613.3" y="303" font-size="7.6" text-anchor="middle">60</text>
<text x="636.4" y="303" font-size="7.6" text-anchor="middle">80</text>
<text x="530" y="285.24" font-size="7.6" text-anchor="end">0</text>
<text x="530" y="270.49" font-size="7.6" text-anchor="end">0.5</text>
<text x="530" y="255.74" font-size="7.6" text-anchor="end">1.0</text>
<text x="530" y="240.99" font-size="7.6" text-anchor="end">1.5</text>
<text x="530" y="226.24" font-size="7.6" text-anchor="end">2.0</text>
<text x="530" y="211.49" font-size="7.6" text-anchor="end">2.5</text>
<text x="514.7" y="248" font-size="8.3" text-anchor="middle" transform="rotate(-90 514.7 248)" textLength="92.2" lengthAdjust="spacingAndGlyphs">Plasma p-tau181 (<tspan font-style="italic">z</tspan> score)</text>
<text x="585.4" y="311.9" font-size="8.6" text-anchor="middle" textLength="38" lengthAdjust="spacingAndGlyphs">Centiloids</text>
<path d="M535.3 285C537.75 284 545.05 281.17 550 279C554.95 276.83 560.5 274.25 565 272C569.5 269.75 573.83 267.23 577 265.5C580.17 263.77 581 262.55 584 261.6C587 260.65 590.67 260.48 595 259.8C599.33 259.12 605.17 258.17 610 257.5C614.83 256.83 619.6 256.33 624 255.8C628.4 255.27 634.33 254.55 636.4 254.3" stroke="#c6952a" stroke-width="1.35" fill="none" stroke-dasharray="1.9 2.3"/>
<path d="M535.3 285C537.75 284 545.05 281.17 550 279C554.95 276.83 560.5 274.25 565 272C569.5 269.75 573.83 267.23 577 265.5C580.17 263.77 582.83 262.25 584 261.6" stroke="#8c2a6c" stroke-width="1.35" fill="none" stroke-dasharray="1.2 3.0" stroke-dashoffset="-0.9"/>
<path d="M584 261.6C586.67 259.42 594.33 253.18 600 248.5C605.67 243.82 611.93 238.58 618 233.5C624.07 228.42 633.33 220.58 636.4 218" stroke="#8c2a6c" stroke-width="1.35" fill="none" stroke-dasharray="1.9 2.3"/>
<text x="622.5" y="215.4" font-size="6.6">Ast<tspan dy="-2.18" font-size="4.75">+</tspan></text>
<text x="622.5" y="252.3" font-size="6.6">Ast<tspan dy="-2.18" font-size="4.75">−</tspan></text>
<path d="M710.35 256.98h1.5v1.5h-1.5zM689.22 268.99h1.5v1.5h-1.5zM690.92 270.59h1.5v1.5h-1.5zM692.05 273.26h1.5v1.5h-1.5zM686.55 273.63h1.5v1.5h-1.5zM682.75 267.6h1.5v1.5h-1.5zM691.03 267.51h1.5v1.5h-1.5zM687.82 274.61h1.5v1.5h-1.5zM701.32 271.14h1.5v1.5h-1.5zM687.95 270.04h1.5v1.5h-1.5zM684.5 262.73h1.5v1.5h-1.5zM734.34 267.01h1.5v1.5h-1.5zM692.12 267.61h1.5v1.5h-1.5zM692.59 277.71h1.5v1.5h-1.5zM692 270.48h1.5v1.5h-1.5zM689.35 262.8h1.5v1.5h-1.5zM689.57 276.25h1.5v1.5h-1.5zM687.05 264.36h1.5v1.5h-1.5zM688.83 279.63h1.5v1.5h-1.5zM694.29 268.41h1.5v1.5h-1.5zM715.79 271.27h1.5v1.5h-1.5zM689.34 268.87h1.5v1.5h-1.5zM694.81 270.24h1.5v1.5h-1.5zM681.68 266.97h1.5v1.5h-1.5zM690.79 266.88h1.5v1.5h-1.5zM719.14 264.23h1.5v1.5h-1.5zM684.13 257.49h1.5v1.5h-1.5zM689.73 266.66h1.5v1.5h-1.5zM688.96 274.04h1.5v1.5h-1.5zM686.88 271.22h1.5v1.5h-1.5zM736.48 265.5h1.5v1.5h-1.5zM683.43 267.94h1.5v1.5h-1.5zM694.84 256.94h1.5v1.5h-1.5zM697.19 268.96h1.5v1.5h-1.5zM694.4 257.38h1.5v1.5h-1.5zM687.53 275.39h1.5v1.5h-1.5zM689.63 272.9h1.5v1.5h-1.5zM689.97 267.13h1.5v1.5h-1.5zM685.6 267.37h1.5v1.5h-1.5zM687.64 266.26h1.5v1.5h-1.5zM690.54 261.62h1.5v1.5h-1.5zM687.04 271.29h1.5v1.5h-1.5zM682.13 265.49h1.5v1.5h-1.5zM683.93 269.48h1.5v1.5h-1.5zM729.48 277.86h1.5v1.5h-1.5zM687.35 275.27h1.5v1.5h-1.5zM728.62 266.22h1.5v1.5h-1.5zM734.4 262.03h1.5v1.5h-1.5zM688.89 266.97h1.5v1.5h-1.5zM685.95 271.81h1.5v1.5h-1.5zM688.35 263.3h1.5v1.5h-1.5zM696.5 273.66h1.5v1.5h-1.5zM684.45 270.77h1.5v1.5h-1.5zM695.14 264.21h1.5v1.5h-1.5zM693.87 274.32h1.5v1.5h-1.5zM688 263.64h1.5v1.5h-1.5zM687.35 265.3h1.5v1.5h-1.5zM693.79 269.96h1.5v1.5h-1.5zM689.48 269.81h1.5v1.5h-1.5zM697.99 268.9h1.5v1.5h-1.5zM695.27 268.78h1.5v1.5h-1.5zM690.29 263.32h1.5v1.5h-1.5zM707.51 264.29h1.5v1.5h-1.5zM688.73 276.99h1.5v1.5h-1.5zM687.48 278.04h1.5v1.5h-1.5zM689.04 256.25h1.5v1.5h-1.5zM687.23 283.4h1.5v1.5h-1.5zM690.45 277.74h1.5v1.5h-1.5zM692.45 272.51h1.5v1.5h-1.5zM692.56 268.7h1.5v1.5h-1.5zM728.85 256.62h1.5v1.5h-1.5zM694.07 260.4h1.5v1.5h-1.5zM691.37 251.62h1.5v1.5h-1.5zM716.84 264.38h1.5v1.5h-1.5zM692.11 265.08h1.5v1.5h-1.5zM682.54 265.81h1.5v1.5h-1.5zM685.97 271h1.5v1.5h-1.5zM689.65 265h1.5v1.5h-1.5zM682.41 254.81h1.5v1.5h-1.5zM693.98 267.96h1.5v1.5h-1.5zM684.85 268.6h1.5v1.5h-1.5zM683.09 273.12h1.5v1.5h-1.5zM710.81 262.39h1.5v1.5h-1.5zM685.78 270.68h1.5v1.5h-1.5zM688.49 266.26h1.5v1.5h-1.5zM688 268.08h1.5v1.5h-1.5zM700.84 264.48h1.5v1.5h-1.5zM687.97 262.07h1.5v1.5h-1.5zM688.99 258.2h1.5v1.5h-1.5zM696.56 264.52h1.5v1.5h-1.5zM690.41 262.73h1.5v1.5h-1.5zM685.74 267.94h1.5v1.5h-1.5zM681.44 274.07h1.5v1.5h-1.5zM693.37 272.73h1.5v1.5h-1.5zM684.71 261.92h1.5v1.5h-1.5z" stroke="none" stroke-width="1" fill="#c6952a"/>
<path d="M691.4 261.82h1.5v1.5h-1.5zM688.47 274.52h1.5v1.5h-1.5zM689.19 269.73h1.5v1.5h-1.5zM688.59 272.25h1.5v1.5h-1.5zM686.74 274.29h1.5v1.5h-1.5zM700.32 261.07h1.5v1.5h-1.5zM704.82 265.64h1.5v1.5h-1.5zM684.19 260.55h1.5v1.5h-1.5zM694.48 279.64h1.5v1.5h-1.5zM690.18 260.97h1.5v1.5h-1.5zM690.33 269.81h1.5v1.5h-1.5zM688.77 275.58h1.5v1.5h-1.5zM690.14 267.82h1.5v1.5h-1.5zM726.58 252.82h1.5v1.5h-1.5zM685.73 265.32h1.5v1.5h-1.5zM689.2 262.72h1.5v1.5h-1.5zM687.31 273.49h1.5v1.5h-1.5zM687.73 269.74h1.5v1.5h-1.5zM680.82 269.38h1.5v1.5h-1.5zM686.5 268.86h1.5v1.5h-1.5zM690 265.76h1.5v1.5h-1.5zM704.91 242h1.5v1.5h-1.5zM685.31 268.88h1.5v1.5h-1.5zM682.46 277.67h1.5v1.5h-1.5zM710.71 258.72h1.5v1.5h-1.5zM694.09 268.11h1.5v1.5h-1.5zM686.14 271.78h1.5v1.5h-1.5zM692.29 263.58h1.5v1.5h-1.5zM686.67 266.89h1.5v1.5h-1.5zM692.3 266.39h1.5v1.5h-1.5zM686.47 268.07h1.5v1.5h-1.5zM689.85 264.42h1.5v1.5h-1.5zM690.83 271.64h1.5v1.5h-1.5zM740.07 247.37h1.5v1.5h-1.5zM685.02 264.02h1.5v1.5h-1.5zM687.23 273.07h1.5v1.5h-1.5zM738.77 250.82h1.5v1.5h-1.5zM688.02 272.9h1.5v1.5h-1.5zM687.33 264.66h1.5v1.5h-1.5zM687.6 272.38h1.5v1.5h-1.5zM699.02 257.81h1.5v1.5h-1.5zM684.7 272.77h1.5v1.5h-1.5zM691.76 267.21h1.5v1.5h-1.5zM686.4 268.79h1.5v1.5h-1.5zM728.46 254.24h1.5v1.5h-1.5zM685.6 275.67h1.5v1.5h-1.5zM690.42 263.9h1.5v1.5h-1.5zM684.57 272.75h1.5v1.5h-1.5zM695.05 258.39h1.5v1.5h-1.5zM691.17 265.16h1.5v1.5h-1.5zM692.9 274.46h1.5v1.5h-1.5zM717.26 251.3h1.5v1.5h-1.5zM687.45 269.44h1.5v1.5h-1.5zM722.26 257.09h1.5v1.5h-1.5zM695.12 268.82h1.5v1.5h-1.5zM689.05 271.92h1.5v1.5h-1.5zM691.03 266.78h1.5v1.5h-1.5zM686.09 259.75h1.5v1.5h-1.5zM694.62 258.2h1.5v1.5h-1.5zM686.21 276.16h1.5v1.5h-1.5z" stroke="none" stroke-width="1" fill="#8c2a6c"/>
<path d="M685.53 236.23h1.5v1.5h-1.5zM697.14 236.23h1.5v1.5h-1.5zM688.58 241.55h1.5v1.5h-1.5zM735.65 275.63h1.5v1.5h-1.5z" stroke="none" stroke-width="1" fill="#c6952a"/>
<path d="M718.53 223.43h1.5v1.5h-1.5zM738.1 226.38h1.5v1.5h-1.5zM735.04 240.17h1.5v1.5h-1.5zM721.59 272.68h1.5v1.5h-1.5z" stroke="none" stroke-width="1" fill="#8c2a6c"/>
<path d="M677.1 205.9V292H744.7" stroke="#6a6a6a" stroke-width="0.6" fill="none"/>
<path d="M687.5 292v1.8M699.73 292v1.8M711.95 292v1.8M724.17 292v1.8M736.4 292v1.8M677.1 288.2h-1.8M677.1 268.5h-1.8M677.1 248.8h-1.8M677.1 229.1h-1.8M677.1 209.4h-1.8" stroke="#6a6a6a" stroke-width="0.48" fill="none"/>
<text x="687.5" y="303.2" font-size="7.9" text-anchor="middle">0</text>
<text x="699.73" y="303.2" font-size="7.9" text-anchor="middle">20</text>
<text x="711.95" y="303.2" font-size="7.9" text-anchor="middle">40</text>
<text x="724.17" y="303.2" font-size="7.9" text-anchor="middle">60</text>
<text x="736.4" y="303.2" font-size="7.9" text-anchor="middle">80</text>
<text x="672.7" y="291.01" font-size="7.8" text-anchor="end">0</text>
<text x="672.7" y="271.31" font-size="7.8" text-anchor="end">10</text>
<text x="672.7" y="251.61" font-size="7.8" text-anchor="end">20</text>
<text x="672.7" y="231.91" font-size="7.8" text-anchor="end">30</text>
<text x="672.7" y="212.21" font-size="7.8" text-anchor="end">40</text>
<path d="M680 267.1L685.62 267.29L691.24 267.41L696.85 267.27L702.47 266.32L708.09 264.75L713.71 263.02L719.33 261.24L724.95 259.44L730.56 257.63L736.18 255.82L741.8 254L741.8 270L736.18 269.76L730.56 269.53L724.95 269.3L719.33 269.09L713.71 268.89L708.09 268.74L702.47 268.75L696.85 269.39L691.24 270.83L685.62 272.53L680 274.3Z" stroke="none" stroke-width="1" fill="#c6952a" fill-opacity="0.38"/>
<line x1="680" y1="270.7" x2="741.8" y2="262" stroke="#c6952a" stroke-width="0.8"/>
<path d="M680 268.4L685.62 266.82L691.24 265.15L696.85 263.14L702.47 260.09L708.09 256.29L713.71 252.31L719.33 248.27L724.95 244.22L730.56 240.15L736.18 236.08L741.8 232L741.8 252L736.18 253.52L730.56 255.05L724.95 256.58L719.33 258.13L713.71 259.69L708.09 261.31L702.47 263.11L696.85 265.66L691.24 269.25L685.62 273.18L680 277.2Z" stroke="none" stroke-width="1" fill="#8c2a6c" fill-opacity="0.38"/>
<line x1="680" y1="272.8" x2="741.8" y2="242" stroke="#8c2a6c" stroke-width="0.8"/>
<text x="659.4" y="249" font-size="8.3" text-anchor="middle" transform="rotate(-90 659.4 249)" textLength="92" lengthAdjust="spacingAndGlyphs">Plasma p-tau181 (pg ml<tspan dy="-3" font-size="5.2">−1</tspan><tspan dy="3">)</tspan></text>
<text x="710.8" y="311.7" font-size="8.6" text-anchor="middle" textLength="38" lengthAdjust="spacingAndGlyphs">Centiloids</text>
<text x="678.2" y="209.3" font-size="3.7" fill="#444">Ast<tspan dy="-1.2" font-size="2.5">−</tspan><tspan dy="1.2">:</tspan> <tspan font-style="italic">β</tspan> = 0.12, <tspan font-style="italic">P</tspan> = 0.17</text>
<text x="678.2" y="214.2" font-size="3.7" fill="#444">Ast<tspan dy="-1.2" font-size="2.5">+</tspan><tspan dy="1.2">:</tspan> <tspan font-style="italic">β</tspan> = 0.57, <tspan font-style="italic">P</tspan> &lt; 0.0001</text>
<text x="678.2" y="219.1" font-size="3.7" fill="#444">Aβ-PET×Ast status: <tspan font-style="italic">β</tspan> = 0.46, <tspan font-style="italic">P</tspan> = 0.004</text>
<path d="M30.6 383.2V468.2H135.5" stroke="#b0b0b0" stroke-width="1" fill="none"/>
<path d="M34.15 468.2v2M49.95 468.2v2M65.75 468.2v2M81.55 468.2v2M97.35 468.2v2M113.15 468.2v2M128.95 468.2v2M30.6 465.75h-2M30.6 452.35h-2M30.6 438.95h-2M30.6 425.55h-2M30.6 412.15h-2M30.6 398.75h-2M30.6 385.35h-2" stroke="#b0b0b0" stroke-width="0.8" fill="none"/>
<text x="34.15" y="479.3" font-size="7.6" text-anchor="middle">−3</text>
<text x="49.95" y="479.3" font-size="7.6" text-anchor="middle">−2</text>
<text x="65.75" y="479.3" font-size="7.6" text-anchor="middle">−1</text>
<text x="81.55" y="479.3" font-size="7.6" text-anchor="middle">0</text>
<text x="97.35" y="479.3" font-size="7.6" text-anchor="middle">1</text>
<text x="113.15" y="479.3" font-size="7.6" text-anchor="middle">2</text>
<text x="128.95" y="479.3" font-size="7.6" text-anchor="middle">3</text>
<text x="25.6" y="468.49" font-size="7.6" text-anchor="end">−0.5</text>
<text x="25.6" y="455.09" font-size="7.6" text-anchor="end">0</text>
<text x="25.6" y="441.69" font-size="7.6" text-anchor="end">0.5</text>
<text x="25.6" y="428.29" font-size="7.6" text-anchor="end">1.0</text>
<text x="25.6" y="414.89" font-size="7.6" text-anchor="end">1.5</text>
<text x="25.6" y="401.49" font-size="7.6" text-anchor="end">2.0</text>
<text x="25.6" y="388.09" font-size="7.6" text-anchor="end">2.5</text>
<text x="6.9" y="425.7" font-size="8.3" text-anchor="middle" transform="rotate(-90 6.9 425.7)" textLength="92.5" lengthAdjust="spacingAndGlyphs">Plasma p-tau231 (<tspan font-style="italic">z</tspan> score)</text>
<text x="82.4" y="491.2" font-size="8.6" text-anchor="middle" textLength="72.5" lengthAdjust="spacingAndGlyphs">Aβ burden (<tspan font-style="italic">z</tspan> score)</text>
<path d="M31.5 460.6C34.58 460.43 44.25 460.03 50 459.6C55.75 459.17 60.67 458.52 66 458C71.33 457.48 76.67 456.87 82 456.5C87.33 456.13 92.67 455.95 98 455.8C103.33 455.65 108.5 455.65 114 455.6C119.5 455.55 128.17 455.52 131 455.5" stroke="#c6952a" stroke-width="1.35" fill="none" stroke-dasharray="1.8 2.15"/>
<path d="M45.9 461C47.92 460.25 53.98 458.17 58 456.5C62.02 454.83 66.08 452.88 70 451C73.92 449.12 77.83 447.5 81.5 445.2C85.17 442.9 88.75 440.15 92 437.2C95.25 434.25 98 431.03 101 427.5C104 423.97 106.83 420.08 110 416C113.17 411.92 116.75 406.97 120 403C123.25 399.03 127.92 394 129.5 392.2" stroke="#2f5a48" stroke-width="1.35" fill="none" stroke-dasharray="1.8 2.15"/>
<text x="115.8" y="392.3" font-size="6.6">Ast<tspan dy="-2.18" font-size="4.75">+</tspan></text>
<text x="118.8" y="452.8" font-size="6.6">Ast<tspan dy="-2.18" font-size="4.75">−</tspan></text>
<path d="M190.99 453.13h1v1h-1zM204.73 447.6h1v1h-1zM202.21 454.4h1v1h-1zM206.88 454.77h1v1h-1zM190.11 444.59h1v1h-1zM212.43 442.48h1v1h-1zM203.14 450.25h1v1h-1zM191.54 453.67h1v1h-1zM189.83 455.13h1v1h-1zM190.3 450.64h1v1h-1zM195.7 442.18h1v1h-1zM213.15 449.5h1v1h-1zM210.48 455.61h1v1h-1zM197.29 455.8h1v1h-1zM197.27 451.03h1v1h-1zM219.97 449.73h1v1h-1zM210.55 452.63h1v1h-1zM194.91 454.15h1v1h-1zM200.91 450.49h1v1h-1zM198.33 420.22h1v1h-1zM203.67 417.25h1v1h-1zM210.34 440.03h1v1h-1zM199.76 451.38h1v1h-1zM205.66 453.54h1v1h-1zM207.49 451.74h1v1h-1zM209.46 457.8h1v1h-1zM196.5 450.37h1v1h-1zM200.24 452.7h1v1h-1zM220.36 452.71h1v1h-1zM200.57 453.17h1v1h-1zM202.55 454.2h1v1h-1zM206.32 453.69h1v1h-1zM196.99 448.75h1v1h-1zM198.7 450.02h1v1h-1zM217.66 449.12h1v1h-1zM214.16 453.17h1v1h-1zM192.16 456.52h1v1h-1zM202.87 449.84h1v1h-1zM190.46 449.75h1v1h-1zM188.24 454.26h1v1h-1zM202.3 450.91h1v1h-1zM216.25 454.26h1v1h-1zM201.53 458.52h1v1h-1zM215.76 447.94h1v1h-1zM192.59 456.04h1v1h-1zM203.53 450.89h1v1h-1zM203.02 450.22h1v1h-1zM203.07 448.4h1v1h-1zM211.38 454.22h1v1h-1zM207.53 447.67h1v1h-1zM197.24 456.29h1v1h-1zM189.89 456.17h1v1h-1zM197.2 458.26h1v1h-1zM202.09 452.64h1v1h-1zM197.23 457.83h1v1h-1zM188.3 446.45h1v1h-1zM186.11 451.13h1v1h-1zM209.71 449.7h1v1h-1zM204.63 452.03h1v1h-1zM196.91 450.88h1v1h-1zM206.32 450.92h1v1h-1zM206.81 455.98h1v1h-1zM200.32 455.76h1v1h-1zM198.36 451.71h1v1h-1zM212.81 452.32h1v1h-1zM210.1 451.57h1v1h-1zM215.41 456.28h1v1h-1zM211.56 450.27h1v1h-1zM204.65 449.41h1v1h-1zM198.16 451.67h1v1h-1zM199.14 455.4h1v1h-1zM196.83 455.19h1v1h-1zM202.88 453.26h1v1h-1zM204.2 449.97h1v1h-1zM212.97 451.99h1v1h-1zM214.63 450.14h1v1h-1zM202.11 456.05h1v1h-1zM205.85 442.08h1v1h-1zM191.5 455.92h1v1h-1zM196.06 449.68h1v1h-1zM192.32 458.98h1v1h-1zM203.44 454.38h1v1h-1zM197.34 455.58h1v1h-1zM195.18 448.96h1v1h-1zM202.01 451.12h1v1h-1zM185.09 409.57h1v1h-1zM201.38 451.22h1v1h-1zM206.43 450.92h1v1h-1zM213.58 453.25h1v1h-1zM191.48 453h1v1h-1zM198.28 452.33h1v1h-1zM183.4 455.05h1v1h-1zM214.36 457.53h1v1h-1zM200.34 456.12h1v1h-1zM204.24 451.11h1v1h-1zM188.16 453.71h1v1h-1zM199.77 430.54h1v1h-1zM196.45 449.89h1v1h-1zM190.88 452.69h1v1h-1zM191.19 444.78h1v1h-1zM193.23 455.78h1v1h-1zM193.95 440.86h1v1h-1zM185.79 448.69h1v1h-1zM213.95 451.25h1v1h-1zM201.55 457.67h1v1h-1zM202.83 450.76h1v1h-1zM202.69 444.02h1v1h-1zM199.26 449.83h1v1h-1zM200.57 449.14h1v1h-1zM206.19 455.6h1v1h-1zM198.67 453.61h1v1h-1zM212.72 445.73h1v1h-1zM199.12 444.08h1v1h-1zM211.63 454.46h1v1h-1zM192.78 450.99h1v1h-1zM203.7 450.69h1v1h-1zM207.37 436.95h1v1h-1zM213.1 450.69h1v1h-1zM213.34 451.78h1v1h-1zM192.29 437.11h1v1h-1zM195.24 454.99h1v1h-1zM215.32 451.04h1v1h-1zM197.75 448.61h1v1h-1zM187.41 452.64h1v1h-1zM211.25 457.2h1v1h-1zM206.61 454.26h1v1h-1zM190.28 453.91h1v1h-1zM195.84 460.86h1v1h-1zM212.76 452.6h1v1h-1zM197.13 455.67h1v1h-1zM196.15 447.65h1v1h-1zM197.45 454.26h1v1h-1zM212.95 432.21h1v1h-1zM186.16 454.11h1v1h-1zM204.06 456.56h1v1h-1zM201.58 453.21h1v1h-1zM204.65 450.88h1v1h-1zM206.98 454.78h1v1h-1zM200.7 454.57h1v1h-1zM205.65 450.99h1v1h-1zM204.38 451.97h1v1h-1zM213.18 452.48h1v1h-1zM180.23 451.62h1v1h-1zM199.4 451.16h1v1h-1zM201.62 456.48h1v1h-1zM188.89 457.45h1v1h-1zM213.43 426.07h1v1h-1zM205.88 455.5h1v1h-1zM186.15 428.52h1v1h-1zM198.99 454.78h1v1h-1zM207.74 452.86h1v1h-1zM202.51 447.61h1v1h-1zM195.01 448.4h1v1h-1zM207.09 453.34h1v1h-1zM204.57 449.02h1v1h-1zM193.62 444.58h1v1h-1zM199.84 446.19h1v1h-1zM213.53 448.53h1v1h-1zM212.54 453.53h1v1h-1zM193.45 456.59h1v1h-1zM196.37 455.1h1v1h-1zM214.59 456.02h1v1h-1zM207.34 456.44h1v1h-1zM202.55 446.75h1v1h-1zM199.33 448.82h1v1h-1zM203.9 455.14h1v1h-1zM210.41 445.97h1v1h-1zM181.3 436.47h1v1h-1zM209.88 415.68h1v1h-1zM194.03 452.46h1v1h-1zM190.5 459.77h1v1h-1zM196.31 449.12h1v1h-1zM192.45 456.53h1v1h-1zM193.19 450.77h1v1h-1zM202.63 454.7h1v1h-1zM198.39 451.32h1v1h-1zM211.06 454.69h1v1h-1zM188.46 451.6h1v1h-1zM209.35 454.44h1v1h-1zM191.47 450.62h1v1h-1zM203.74 454.23h1v1h-1zM199.32 455.48h1v1h-1zM210.74 454.39h1v1h-1zM190.96 448.36h1v1h-1zM203.04 455.69h1v1h-1zM216.36 446.75h1v1h-1zM213.83 434.7h1v1h-1zM200.04 456.71h1v1h-1zM209.34 452.71h1v1h-1zM212.25 453.49h1v1h-1zM207.18 446.41h1v1h-1zM213.4 454.43h1v1h-1zM211.61 451.35h1v1h-1zM182.46 456.79h1v1h-1zM208.49 457.23h1v1h-1zM229.78 449.89h1v1h-1zM199.43 451.26h1v1h-1zM200.04 450.36h1v1h-1zM203.23 447.89h1v1h-1zM195.62 437.34h1v1h-1zM199.85 452.22h1v1h-1zM201.88 452.26h1v1h-1zM220.9 445.64h1v1h-1zM200.6 450.82h1v1h-1zM207.93 452.45h1v1h-1zM201 456.45h1v1h-1zM194.33 432.69h1v1h-1zM196.77 450.95h1v1h-1zM192.6 459.98h1v1h-1zM215.16 451.48h1v1h-1zM200.52 454.91h1v1h-1zM189.55 456.13h1v1h-1zM202.57 449.65h1v1h-1zM221.37 452.57h1v1h-1zM205.1 457.61h1v1h-1zM202.36 452.13h1v1h-1zM205.27 451.72h1v1h-1zM199.13 451.58h1v1h-1zM193.27 457.2h1v1h-1zM214.55 445.9h1v1h-1zM172.44 454.31h1v1h-1zM197.79 449.64h1v1h-1zM194.43 452.07h1v1h-1zM200.67 455.4h1v1h-1zM195.85 451.6h1v1h-1zM212.89 455.31h1v1h-1zM216.85 451.57h1v1h-1zM203.97 453.56h1v1h-1zM191.04 450.71h1v1h-1zM195.85 449.83h1v1h-1zM199.28 449.02h1v1h-1zM194.35 453.07h1v1h-1zM191.21 448.94h1v1h-1zM218.44 451.13h1v1h-1zM211.09 445.89h1v1h-1zM193.65 453.32h1v1h-1zM194.47 452.7h1v1h-1zM203.06 447.75h1v1h-1zM196.38 456.62h1v1h-1zM207.71 446.92h1v1h-1zM209.68 450.79h1v1h-1zM202.85 452.69h1v1h-1zM194.02 455.31h1v1h-1zM199.6 454.46h1v1h-1zM187.48 455.44h1v1h-1zM199.09 457.95h1v1h-1zM218.87 446.21h1v1h-1zM197.34 438.42h1v1h-1zM208.59 451.25h1v1h-1zM213.4 453.48h1v1h-1zM217.08 437.27h1v1h-1zM190.25 454.74h1v1h-1zM200.51 455.12h1v1h-1zM197.24 453.39h1v1h-1zM214.8 451.29h1v1h-1zM212.32 443.31h1v1h-1zM192.71 453.49h1v1h-1zM197.31 453.38h1v1h-1zM205.63 428.15h1v1h-1zM221.15 455.88h1v1h-1zM199.02 449.51h1v1h-1zM213.55 441.4h1v1h-1zM194.7 454.01h1v1h-1zM191.16 455.47h1v1h-1zM209.84 452.21h1v1h-1zM195.23 452.59h1v1h-1zM188.06 456.19h1v1h-1zM213.77 457.17h1v1h-1zM207.89 453.08h1v1h-1zM190.59 455.89h1v1h-1zM210.14 448.53h1v1h-1zM206.25 445.98h1v1h-1zM207.4 452.87h1v1h-1zM192.56 453.48h1v1h-1zM198.48 456.6h1v1h-1zM182.77 451.97h1v1h-1zM182.76 448.85h1v1h-1zM209.65 448.77h1v1h-1zM197.98 456.97h1v1h-1zM204.16 452.11h1v1h-1zM200.2 436.34h1v1h-1zM197.41 449.9h1v1h-1zM197.54 450.7h1v1h-1zM206.73 454.27h1v1h-1zM200.02 450.5h1v1h-1zM188.12 455.63h1v1h-1zM212.51 451.5h1v1h-1zM214.98 447.66h1v1h-1zM209.26 450.99h1v1h-1zM215.82 451.55h1v1h-1zM203.96 448.86h1v1h-1zM202.48 454.96h1v1h-1zM212.62 450.75h1v1h-1zM207.21 453.59h1v1h-1zM191.39 458.53h1v1h-1zM200.67 450.23h1v1h-1zM203.09 452.01h1v1h-1zM222.31 457.92h1v1h-1zM202.69 413.64h1v1h-1zM195.23 454.18h1v1h-1zM192.35 453.91h1v1h-1zM200.76 451.89h1v1h-1zM196.34 448.75h1v1h-1zM201.13 444.32h1v1h-1zM192.98 446.33h1v1h-1zM187.39 451.11h1v1h-1zM199.59 455.25h1v1h-1zM205.33 449.82h1v1h-1zM203.23 459.09h1v1h-1zM188.19 450.84h1v1h-1zM199.36 458.81h1v1h-1zM209.37 451.83h1v1h-1zM204.74 451.83h1v1h-1zM196.26 436.31h1v1h-1zM197.9 453.03h1v1h-1zM197.91 449.17h1v1h-1zM204 453.36h1v1h-1zM198.67 451.48h1v1h-1zM206.2 456.51h1v1h-1zM203.63 454.27h1v1h-1zM203.47 456.9h1v1h-1zM209.25 438.5h1v1h-1zM209.78 453.56h1v1h-1zM198.45 449.16h1v1h-1zM199.43 450.64h1v1h-1zM210.49 453.85h1v1h-1zM199.35 451.73h1v1h-1zM190.82 450.86h1v1h-1zM196.8 449.68h1v1h-1zM192.4 462.27h1v1h-1zM201.79 448.87h1v1h-1zM203.01 449.17h1v1h-1zM214.26 451.77h1v1h-1zM205.96 448.68h1v1h-1zM207.61 452.48h1v1h-1zM215.66 449.92h1v1h-1zM208.95 458.5h1v1h-1zM194.1 433.77h1v1h-1zM201.38 456.88h1v1h-1zM196.12 446.8h1v1h-1zM200.29 441.95h1v1h-1zM212.86 449.3h1v1h-1zM228.1 450.65h1v1h-1zM209.5 454.12h1v1h-1zM204.34 451.26h1v1h-1zM195.51 455.6h1v1h-1zM204.56 450h1v1h-1zM216.28 453.51h1v1h-1zM195.02 449.66h1v1h-1zM206 453.39h1v1h-1zM209.66 455.2h1v1h-1zM210.85 454.2h1v1h-1zM223.85 447.61h1v1h-1zM202.29 448.98h1v1h-1zM204.47 444.82h1v1h-1zM192.76 456.43h1v1h-1zM197.94 436.93h1v1h-1zM193.74 453.33h1v1h-1zM203.03 457.47h1v1h-1zM206.2 451.95h1v1h-1zM208.41 447.92h1v1h-1zM209.34 451.65h1v1h-1zM197.59 443.57h1v1h-1zM193.03 459.34h1v1h-1zM193.02 453.9h1v1h-1zM199.54 456.48h1v1h-1zM198.13 452.22h1v1h-1zM191.38 453.13h1v1h-1zM205.81 459.47h1v1h-1zM192.15 457.94h1v1h-1zM201.02 440.3h1v1h-1zM196.73 432.39h1v1h-1zM205.24 450.71h1v1h-1zM206.64 456.75h1v1h-1zM193.9 455.52h1v1h-1zM205.97 451.73h1v1h-1zM220.39 456.9h1v1h-1zM206.37 455.79h1v1h-1zM192.45 456.18h1v1h-1zM222.19 454.29h1v1h-1zM193.65 429.91h1v1h-1zM208.78 452.31h1v1h-1zM192.52 458.64h1v1h-1zM208.95 448.87h1v1h-1zM200.89 454.08h1v1h-1zM206.99 453.52h1v1h-1zM204.32 448.99h1v1h-1zM188.69 454.08h1v1h-1zM187.62 455.61h1v1h-1zM194.57 456.23h1v1h-1zM210.21 453.09h1v1h-1zM205.14 450.65h1v1h-1zM213.25 450.21h1v1h-1zM213.36 453.45h1v1h-1zM217.81 455.85h1v1h-1zM193.63 451.47h1v1h-1zM191.7 455.55h1v1h-1zM192.19 454.69h1v1h-1zM214.55 450.21h1v1h-1zM198.54 456.53h1v1h-1z" stroke="none" stroke-width="1" fill="#943a86" fill-opacity="0.9"/>
<path d="M205.07 455.01h1v1h-1zM192.74 452.6h1v1h-1zM209.16 454.17h1v1h-1zM210.9 456.3h1v1h-1zM184.39 448.74h1v1h-1zM190.34 437.91h1v1h-1zM203.45 448.63h1v1h-1zM199.38 451.86h1v1h-1zM202.12 448.24h1v1h-1zM194.46 452.95h1v1h-1zM210.34 448.99h1v1h-1zM209.41 452.2h1v1h-1zM202.88 454.44h1v1h-1zM212.61 449.42h1v1h-1zM206.56 450.44h1v1h-1zM194.4 449.33h1v1h-1zM205.66 452.54h1v1h-1zM193.49 452.27h1v1h-1zM210.33 456.75h1v1h-1zM201.82 448.52h1v1h-1zM200.58 448.39h1v1h-1zM196.04 452.42h1v1h-1zM213.49 422.83h1v1h-1zM200.86 449.13h1v1h-1zM198.35 450.9h1v1h-1zM199.05 452.88h1v1h-1zM207.16 437.76h1v1h-1zM205.63 454.22h1v1h-1zM206.06 453.06h1v1h-1zM206.23 453.51h1v1h-1zM221.91 444.49h1v1h-1zM198.55 438.56h1v1h-1zM197.58 453.32h1v1h-1zM194.82 451.89h1v1h-1zM207.92 458.88h1v1h-1zM212.63 452.77h1v1h-1zM201.23 455.8h1v1h-1zM194.58 455.41h1v1h-1zM194.72 456.32h1v1h-1zM208.24 453.88h1v1h-1zM209.09 450.2h1v1h-1zM207.26 456.82h1v1h-1zM196.18 453.59h1v1h-1zM204.41 454.56h1v1h-1zM203.35 454.17h1v1h-1zM204.28 450.25h1v1h-1zM210.27 451.22h1v1h-1zM204.33 449.28h1v1h-1zM208.5 453.34h1v1h-1zM202.9 455.27h1v1h-1zM204.93 453.77h1v1h-1zM208.06 452.22h1v1h-1zM188.92 453.45h1v1h-1zM199.35 456.62h1v1h-1zM197.97 453.3h1v1h-1zM196.42 453h1v1h-1zM199.76 445.55h1v1h-1zM215.98 446.97h1v1h-1zM194.34 450.47h1v1h-1zM211.15 431.96h1v1h-1zM186.85 458.51h1v1h-1zM199.21 455.2h1v1h-1zM203.77 452.28h1v1h-1zM207.65 449.45h1v1h-1zM208.8 454.9h1v1h-1zM209.55 453.04h1v1h-1zM199.08 459.72h1v1h-1zM198.04 454.03h1v1h-1zM210.14 455.87h1v1h-1zM200.52 454.94h1v1h-1zM190.58 456.57h1v1h-1zM191.89 454.22h1v1h-1zM193.85 458.92h1v1h-1zM206.84 457.26h1v1h-1zM203.58 447.02h1v1h-1zM208.61 456.62h1v1h-1zM198.36 456.72h1v1h-1zM203.73 439.68h1v1h-1zM208.01 444.49h1v1h-1zM199.44 456.87h1v1h-1zM206.46 454.09h1v1h-1zM196.21 452.68h1v1h-1zM198.95 448.48h1v1h-1zM198.78 456.37h1v1h-1zM191.31 443.75h1v1h-1zM206.74 450.75h1v1h-1zM197.97 452.3h1v1h-1zM202.39 454.37h1v1h-1zM206.68 441.64h1v1h-1zM206.37 452.3h1v1h-1zM208.38 453.59h1v1h-1zM201.37 454.12h1v1h-1zM198.4 452.86h1v1h-1zM201.55 454.95h1v1h-1zM186.81 452.9h1v1h-1zM189.01 451.19h1v1h-1zM190.15 453.6h1v1h-1zM193.14 445.6h1v1h-1zM205.94 452.9h1v1h-1zM193.98 453.81h1v1h-1zM198.81 455.6h1v1h-1zM214.19 451.61h1v1h-1zM199.01 438.37h1v1h-1zM209.04 446.78h1v1h-1zM193.72 417.12h1v1h-1zM200.39 448.28h1v1h-1zM193.57 456.06h1v1h-1zM199.17 456.71h1v1h-1zM209.98 449.34h1v1h-1zM186.44 453.53h1v1h-1zM206.26 451.64h1v1h-1zM204.46 458.21h1v1h-1zM196.83 446.48h1v1h-1zM189.02 450.23h1v1h-1zM202.94 456.47h1v1h-1zM197.42 454.96h1v1h-1zM204.41 452.1h1v1h-1zM202.48 453.12h1v1h-1zM216.96 453.21h1v1h-1zM200.08 443.59h1v1h-1zM192.89 454.61h1v1h-1zM203.92 452.74h1v1h-1zM204.29 448.89h1v1h-1zM214.74 454.45h1v1h-1zM209.93 453.49h1v1h-1zM205.55 452.57h1v1h-1zM215.69 451.58h1v1h-1zM191.38 452.39h1v1h-1zM196.41 458.76h1v1h-1zM193.78 452.87h1v1h-1zM198.7 443.96h1v1h-1zM189.66 458.54h1v1h-1zM208.1 435.47h1v1h-1zM200.24 439.08h1v1h-1zM188.79 454.32h1v1h-1zM192.97 456.93h1v1h-1zM205.15 454.08h1v1h-1zM209.96 449.03h1v1h-1zM220.58 443.44h1v1h-1zM228.99 446.57h1v1h-1zM206.08 436.98h1v1h-1zM193.21 452.59h1v1h-1zM182.73 449.46h1v1h-1zM204.73 451.86h1v1h-1zM194.82 451.36h1v1h-1zM198.47 454.39h1v1h-1zM196.67 453.45h1v1h-1zM200.99 455.39h1v1h-1zM212.05 444.42h1v1h-1zM203.72 456.62h1v1h-1zM200.82 444.75h1v1h-1zM192.78 452.49h1v1h-1zM186.92 450.67h1v1h-1zM197.82 451.39h1v1h-1zM201.78 448.03h1v1h-1zM218.48 450.14h1v1h-1zM203.47 457.78h1v1h-1zM211.29 452.91h1v1h-1zM197.7 456.98h1v1h-1zM191.41 455.48h1v1h-1zM193.43 449.22h1v1h-1zM195.63 451.86h1v1h-1zM221.79 413.8h1v1h-1zM194.75 456.71h1v1h-1zM209.96 452.71h1v1h-1zM194 457.34h1v1h-1zM210.82 454.7h1v1h-1zM205.81 452.16h1v1h-1zM200.84 450.02h1v1h-1zM201.9 447.27h1v1h-1z" stroke="none" stroke-width="1" fill="#ecb866" fill-opacity="0.95"/>
<path d="M218.3 397.45h0.8v0.8h-0.8z" stroke="none" stroke-width="1" fill="#edc27c"/>
<path d="M165.2 382.2V467.8H233.6" stroke="#6a6a6a" stroke-width="0.6" fill="none"/>
<path d="M180.1 467.8v1.8M199.4 467.8v1.8M218.7 467.8v1.8M165.2 449.8h-1.8M165.2 430.7h-1.8M165.2 411.6h-1.8M165.2 392.5h-1.8" stroke="#6a6a6a" stroke-width="0.48" fill="none"/>
<text x="180.1" y="479.4" font-size="7.7" text-anchor="middle">−2</text>
<text x="199.4" y="479.4" font-size="7.7" text-anchor="middle">0</text>
<text x="218.7" y="479.4" font-size="7.7" text-anchor="middle">2</text>
<text x="160.6" y="452.5" font-size="7.5" text-anchor="end">0</text>
<text x="160.6" y="433.4" font-size="7.5" text-anchor="end">2.5</text>
<text x="160.6" y="414.3" font-size="7.5" text-anchor="end">5.0</text>
<text x="160.6" y="395.2" font-size="7.5" text-anchor="end">7.5</text>
<path d="M168.1 450.5L173.77 450.33L179.45 450.15L185.12 449.93L190.79 449.67L196.46 449.34L202.14 448.93L207.81 448.44L213.48 447.89L219.15 447.28L224.83 446.65L230.5 446L230.5 449.8L224.83 449.97L219.15 450.15L213.48 450.37L207.81 450.63L202.14 450.96L196.46 451.37L190.79 451.86L185.12 452.41L179.45 453.02L173.77 453.65L168.1 454.3Z" stroke="none" stroke-width="1" fill="#d9b148" fill-opacity="0.55"/>
<line x1="168.1" y1="452.4" x2="230.5" y2="447.9" stroke="#d9b148" stroke-width="1"/>
<path d="M177.1 453.4L181.8 452.52L186.5 451.61L191.2 450.65L195.9 449.56L200.6 448.28L205.3 446.8L210 445.18L214.7 443.5L219.4 441.78L224.1 440.05L228.8 438.3L228.8 444.7L224.1 445.55L219.4 446.42L214.7 447.3L210 448.22L205.3 449.2L200.6 450.32L195.9 451.64L191.2 453.15L186.5 454.79L181.8 456.48L177.1 458.2Z" stroke="none" stroke-width="1" fill="#3f5b4f" fill-opacity="0.42"/>
<line x1="177.1" y1="455.8" x2="228.8" y2="441.5" stroke="#3f5b4f" stroke-width="1"/>
<text x="145.2" y="425" font-size="8.3" text-anchor="middle" transform="rotate(-90 145.2 425)" textLength="92" lengthAdjust="spacingAndGlyphs">Plasma p-tau231 (<tspan font-style="italic">z</tspan> score)</text>
<text x="199.3" y="491.5" font-size="8.6" text-anchor="middle" textLength="72.5" lengthAdjust="spacingAndGlyphs">Aβ burden (<tspan font-style="italic">z</tspan> score)</text>
<line x1="168.1" y1="499.9" x2="174.7" y2="499.9" stroke="#d9b148" stroke-width="1.2"/>
<text x="179.3" y="502.4" font-size="7.2">Ast<tspan dy="-2.38" font-size="5.18">−</tspan></text>
<line x1="207.1" y1="499.9" x2="214" y2="499.9" stroke="#5d7a6e" stroke-width="1.2"/>
<text x="218.3" y="502.4" font-size="7.2">Ast<tspan dy="-2.38" font-size="5.18">+</tspan></text>
<text x="166.6" y="384.5" font-size="3.7" fill="#444">Ast<tspan dy="-1.2" font-size="2.5">−</tspan><tspan dy="1.2">:</tspan> <tspan font-style="italic">β</tspan> = 0.10, <tspan font-style="italic">P</tspan> = 0.06</text>
<text x="166.6" y="389.2" font-size="3.7" fill="#444">Ast<tspan dy="-1.2" font-size="2.5">+</tspan><tspan dy="1.2">:</tspan> <tspan font-style="italic">β</tspan> = 0.36, <tspan font-style="italic">P</tspan> &lt; 0.0001</text>
<text x="166.6" y="393.9" font-size="3.7" fill="#444">Aβ burden×Ast status: <tspan font-style="italic">β</tspan> = 0.26, <tspan font-style="italic">P</tspan> = 0.004</text>
<text x="239.3" y="394.5" font-size="7" transform="rotate(90 239.3 394.5)" textLength="60" lengthAdjust="spacingAndGlyphs" fill="#222"><tspan fill="#b24a8c">·</tspan> Pittsburgh <tspan fill="#edc27c">·</tspan> TRIAD</text>
<path d="M364.5 382.6V468.3H462.5" stroke="#b0b0b0" stroke-width="1" fill="none"/>
<path d="M373.3 468.3v2M393.2 468.3v2M413.1 468.3v2M433 468.3v2M452.9 468.3v2M364.5 465.2h-2M364.5 445.2h-2M364.5 425.2h-2M364.5 405.2h-2M364.5 385.2h-2" stroke="#b0b0b0" stroke-width="0.8" fill="none"/>
<text x="373.3" y="479.1" font-size="7.6" text-anchor="middle">0</text>
<text x="393.2" y="479.1" font-size="7.6" text-anchor="middle">20</text>
<text x="413.1" y="479.1" font-size="7.6" text-anchor="middle">40</text>
<text x="433" y="479.1" font-size="7.6" text-anchor="middle">60</text>
<text x="452.9" y="479.1" font-size="7.6" text-anchor="middle">80</text>
<text x="359.5" y="467.94" font-size="7.6" text-anchor="end">0</text>
<text x="359.5" y="447.94" font-size="7.6" text-anchor="end">1</text>
<text x="359.5" y="427.94" font-size="7.6" text-anchor="end">2</text>
<text x="359.5" y="407.94" font-size="7.6" text-anchor="end">3</text>
<text x="359.5" y="387.94" font-size="7.6" text-anchor="end">4</text>
<text x="350.7" y="425.4" font-size="8.3" text-anchor="middle" transform="rotate(-90 350.7 425.4)" textLength="92" lengthAdjust="spacingAndGlyphs">Plasma p-tau217 (<tspan font-style="italic">z</tspan> score)</text>
<text x="413.5" y="490.8" font-size="8.6" text-anchor="middle" textLength="38" lengthAdjust="spacingAndGlyphs">Centiloids</text>
<path d="M366.8 460.2C372.33 455.83 389.47 442.32 400 434C410.53 425.68 420.52 417.8 430 410.3C439.48 402.8 452.42 392.55 456.9 389" stroke="#2e4088" stroke-width="1.35" fill="none" stroke-dasharray="1.9 2.2"/>
<path d="M364.6 465.2C366.83 464.27 373.27 461.58 378 459.6C382.73 457.62 389.17 455.32 393 453.3C396.83 451.28 398.2 449.65 401 447.5C403.8 445.35 406.63 442.15 409.8 440.4C412.97 438.65 415.3 438.43 420 437C424.7 435.57 431.77 433.6 438 431.8C444.23 430 454.17 427.13 457.4 426.2" stroke="#c6952a" stroke-width="1.35" fill="none" stroke-dasharray="1.9 2.2"/>
<text x="440.5" y="390" font-size="6.6">Ast<tspan dy="-2.18" font-size="4.75">+</tspan></text>
<text x="440.5" y="423.2" font-size="6.6">Ast<tspan dy="-2.18" font-size="4.75">−</tspan></text>
<path d="M525.73 442.8h1.5v1.5h-1.5zM508.29 449.09h1.5v1.5h-1.5zM507.73 443.47h1.5v1.5h-1.5zM504.79 453.53h1.5v1.5h-1.5zM546.08 441.47h1.5v1.5h-1.5zM504.8 456.69h1.5v1.5h-1.5zM557.97 444.06h1.5v1.5h-1.5zM512.67 454.99h1.5v1.5h-1.5zM511.92 451.96h1.5v1.5h-1.5zM506.02 448.05h1.5v1.5h-1.5zM538.82 448.26h1.5v1.5h-1.5zM524.93 444.38h1.5v1.5h-1.5zM513.42 450.16h1.5v1.5h-1.5zM503.97 454.51h1.5v1.5h-1.5zM512.16 448.55h1.5v1.5h-1.5zM525.76 453.39h1.5v1.5h-1.5zM506.66 452.33h1.5v1.5h-1.5zM517.56 450.19h1.5v1.5h-1.5zM554.59 434.46h1.5v1.5h-1.5zM500.85 454.67h1.5v1.5h-1.5zM507.84 451.64h1.5v1.5h-1.5zM510.39 456.83h1.5v1.5h-1.5zM511.96 455.12h1.5v1.5h-1.5zM502.29 451.2h1.5v1.5h-1.5zM509.15 445.78h1.5v1.5h-1.5zM508.25 447.7h1.5v1.5h-1.5zM504.08 452.11h1.5v1.5h-1.5zM510.62 450.36h1.5v1.5h-1.5zM505.11 458.22h1.5v1.5h-1.5zM507.12 431.48h1.5v1.5h-1.5zM503.23 449.39h1.5v1.5h-1.5zM509.22 448.97h1.5v1.5h-1.5zM509.37 452.02h1.5v1.5h-1.5zM505.97 452.98h1.5v1.5h-1.5zM535.91 455.97h1.5v1.5h-1.5zM507.31 460.69h1.5v1.5h-1.5zM544.12 446.7h1.5v1.5h-1.5zM508.02 459.81h1.5v1.5h-1.5zM506.24 444.18h1.5v1.5h-1.5zM511.52 456.57h1.5v1.5h-1.5zM505.86 446.14h1.5v1.5h-1.5zM507.56 455.61h1.5v1.5h-1.5zM523.04 453.76h1.5v1.5h-1.5zM503.75 454.6h1.5v1.5h-1.5zM534.49 443.61h1.5v1.5h-1.5zM508.5 454.74h1.5v1.5h-1.5zM539.66 436.72h1.5v1.5h-1.5zM501.51 459.36h1.5v1.5h-1.5zM503.22 459.09h1.5v1.5h-1.5zM498.34 456.57h1.5v1.5h-1.5zM507.27 453.59h1.5v1.5h-1.5zM506.95 451.2h1.5v1.5h-1.5zM510.21 428.43h1.5v1.5h-1.5zM514.22 452.27h1.5v1.5h-1.5zM508 458.92h1.5v1.5h-1.5zM508.12 448.46h1.5v1.5h-1.5zM526.48 451.16h1.5v1.5h-1.5zM505.21 452.84h1.5v1.5h-1.5zM500.9 454.14h1.5v1.5h-1.5zM506.63 445.85h1.5v1.5h-1.5zM507.92 451.12h1.5v1.5h-1.5zM507.17 446.72h1.5v1.5h-1.5zM507.41 447.72h1.5v1.5h-1.5zM504.68 459.86h1.5v1.5h-1.5zM527.23 451.13h1.5v1.5h-1.5zM505.87 453.89h1.5v1.5h-1.5zM506.59 452.82h1.5v1.5h-1.5zM501.86 459.07h1.5v1.5h-1.5zM503.64 444.74h1.5v1.5h-1.5zM524.39 454.4h1.5v1.5h-1.5zM513.57 446.94h1.5v1.5h-1.5zM507.61 453.64h1.5v1.5h-1.5zM509.73 457.47h1.5v1.5h-1.5zM552.07 438.68h1.5v1.5h-1.5zM543.63 444.78h1.5v1.5h-1.5zM505.97 451.37h1.5v1.5h-1.5zM499.05 451.5h1.5v1.5h-1.5zM505.82 454.84h1.5v1.5h-1.5zM512.32 454.03h1.5v1.5h-1.5zM503.06 446.46h1.5v1.5h-1.5zM505.75 447.95h1.5v1.5h-1.5zM544.86 443.64h1.5v1.5h-1.5zM508.16 455.06h1.5v1.5h-1.5zM502.85 447.24h1.5v1.5h-1.5zM510.57 454.1h1.5v1.5h-1.5zM516.32 452.66h1.5v1.5h-1.5zM502.98 455.18h1.5v1.5h-1.5zM497.74 435.64h1.5v1.5h-1.5zM520.32 445.49h1.5v1.5h-1.5zM507.82 450.73h1.5v1.5h-1.5zM507.35 456.08h1.5v1.5h-1.5zM499.6 457.47h1.5v1.5h-1.5zM503.75 450.22h1.5v1.5h-1.5zM506.03 449.87h1.5v1.5h-1.5zM508.16 456.11h1.5v1.5h-1.5z" stroke="none" stroke-width="1" fill="#c6952a"/>
<path d="M509.06 459.09h1.5v1.5h-1.5zM510.28 452.79h1.5v1.5h-1.5zM508.56 448.96h1.5v1.5h-1.5zM505.47 450.57h1.5v1.5h-1.5zM508.31 445.17h1.5v1.5h-1.5zM537.89 432.3h1.5v1.5h-1.5zM509.19 451.99h1.5v1.5h-1.5zM511.25 445.68h1.5v1.5h-1.5zM506.75 453.47h1.5v1.5h-1.5zM543.94 425.86h1.5v1.5h-1.5zM549.26 426.55h1.5v1.5h-1.5zM505.28 451.15h1.5v1.5h-1.5zM506.98 454.23h1.5v1.5h-1.5zM504.89 452.96h1.5v1.5h-1.5zM508.03 450.01h1.5v1.5h-1.5zM506.89 438.31h1.5v1.5h-1.5zM507.73 435.3h1.5v1.5h-1.5zM507.39 445.26h1.5v1.5h-1.5zM523.93 442.53h1.5v1.5h-1.5zM509.38 451.17h1.5v1.5h-1.5zM503.19 450.97h1.5v1.5h-1.5zM555.44 425.82h1.5v1.5h-1.5zM498.66 449h1.5v1.5h-1.5zM524.08 443.65h1.5v1.5h-1.5zM510.08 453.16h1.5v1.5h-1.5zM506.46 451.02h1.5v1.5h-1.5zM507.54 455.66h1.5v1.5h-1.5zM503.76 450.54h1.5v1.5h-1.5zM501.58 451.19h1.5v1.5h-1.5zM503.24 460.22h1.5v1.5h-1.5zM547.53 425.68h1.5v1.5h-1.5zM505.76 454.5h1.5v1.5h-1.5zM514 447.99h1.5v1.5h-1.5zM514.51 439.64h1.5v1.5h-1.5zM510.61 448.63h1.5v1.5h-1.5zM504.19 443.64h1.5v1.5h-1.5zM507.82 453.4h1.5v1.5h-1.5zM505.58 447.78h1.5v1.5h-1.5zM505.28 451.37h1.5v1.5h-1.5zM506.08 459.55h1.5v1.5h-1.5zM507.4 447.06h1.5v1.5h-1.5zM512.85 453.29h1.5v1.5h-1.5zM507.11 447.59h1.5v1.5h-1.5zM500.3 457.74h1.5v1.5h-1.5zM505.23 443.46h1.5v1.5h-1.5zM509.85 446.32h1.5v1.5h-1.5zM509.37 448.18h1.5v1.5h-1.5zM532.01 435.61h1.5v1.5h-1.5zM508.24 449.02h1.5v1.5h-1.5zM507.45 458.32h1.5v1.5h-1.5zM502.49 446.95h1.5v1.5h-1.5zM507.74 452.25h1.5v1.5h-1.5zM508.99 442.69h1.5v1.5h-1.5zM507.1 451.46h1.5v1.5h-1.5zM513.85 443.77h1.5v1.5h-1.5zM505 452.89h1.5v1.5h-1.5zM508.12 455.86h1.5v1.5h-1.5zM541.47 426.76h1.5v1.5h-1.5zM525.8 449.56h1.5v1.5h-1.5zM505.44 439.1h1.5v1.5h-1.5z" stroke="none" stroke-width="1" fill="#2e4088"/>
<path d="M502.84 434.13h1.5v1.5h-1.5zM514.95 434.66h1.5v1.5h-1.5zM535.35 434.13h1.5v1.5h-1.5zM539.17 433.61h1.5v1.5h-1.5zM558.3 452.02h1.5v1.5h-1.5zM546.19 448.07h1.5v1.5h-1.5zM546.83 442.28h1.5v1.5h-1.5z" stroke="none" stroke-width="1" fill="#c6952a"/>
<path d="M508.89 433.08h1.5v1.5h-1.5zM534.71 413.88h1.5v1.5h-1.5zM547.46 412.04h1.5v1.5h-1.5zM558.3 423.87h1.5v1.5h-1.5zM542.36 434.39h1.5v1.5h-1.5zM540.45 451.49h1.5v1.5h-1.5zM528.98 432.82h1.5v1.5h-1.5zM534.71 429.13h1.5v1.5h-1.5z" stroke="none" stroke-width="1" fill="#2e4088"/>
<path d="M495.4 382.2V468.2H565.5" stroke="#6a6a6a" stroke-width="0.6" fill="none"/>
<path d="M505.5 468.2v1.8M518.25 468.2v1.8M531 468.2v1.8M543.75 468.2v1.8M556.5 468.2v1.8M495.4 464.6h-1.8M495.4 438.3h-1.8M495.4 412h-1.8M495.4 385.7h-1.8" stroke="#6a6a6a" stroke-width="0.48" fill="none"/>
<text x="505.5" y="479.5" font-size="7.9" text-anchor="middle">0</text>
<text x="518.25" y="479.5" font-size="7.9" text-anchor="middle">20</text>
<text x="531" y="479.5" font-size="7.9" text-anchor="middle">40</text>
<text x="543.75" y="479.5" font-size="7.9" text-anchor="middle">60</text>
<text x="556.5" y="479.5" font-size="7.9" text-anchor="middle">80</text>
<text x="491" y="467.3" font-size="7.5" text-anchor="end">0</text>
<text x="491" y="441" font-size="7.5" text-anchor="end">0.1</text>
<text x="491" y="414.7" font-size="7.5" text-anchor="end">0.2</text>
<text x="491" y="388.4" font-size="7.5" text-anchor="end">0.3</text>
<path d="M498.6 452.9L504.1 452.23L509.6 451.45L515.1 450.39L520.6 448.92L526.1 447.21L531.6 445.39L537.1 443.54L542.6 441.67L548.1 439.78L553.6 437.89L559.1 436L559.1 447L553.6 447.58L548.1 448.16L542.6 448.75L537.1 449.35L531.6 449.97L526.1 450.63L520.6 451.39L515.1 452.39L509.6 453.8L504.1 455.5L498.6 457.3Z" stroke="none" stroke-width="1" fill="#c6952a" fill-opacity="0.38"/>
<line x1="498.6" y1="455.1" x2="559.1" y2="441.5" stroke="#c6952a" stroke-width="0.8"/>
<path d="M502.1 451.9L507.24 449.26L512.37 446.57L517.51 443.71L522.65 440.17L527.78 435.16L532.92 429.46L538.05 423.59L543.19 417.67L548.33 411.72L553.46 405.76L558.6 399.8L558.6 423.8L553.46 426.4L548.33 429L543.19 431.62L538.05 434.26L532.92 436.96L527.78 439.82L522.65 443.37L517.51 448.4L512.37 454.11L507.24 459.98L502.1 465.9Z" stroke="none" stroke-width="1" fill="#2e4088" fill-opacity="0.4"/>
<line x1="502.1" y1="458.9" x2="558.6" y2="411.8" stroke="#2e4088" stroke-width="0.8"/>
<text x="476.9" y="425.2" font-size="8.3" text-anchor="middle" transform="rotate(-90 476.9 425.2)" textLength="92" lengthAdjust="spacingAndGlyphs">Plasma p-tau217 (pg ml<tspan dy="-3" font-size="5.2">−1</tspan><tspan dy="3">)</tspan></text>
<text x="530.9" y="490.8" font-size="8.6" text-anchor="middle" textLength="38" lengthAdjust="spacingAndGlyphs">Centiloids</text>
<line x1="498.3" y1="499.9" x2="505.5" y2="499.9" stroke="#c6952a" stroke-width="0.9"/>
<rect x="501.2" y="499.2" width="1.4" height="1.4" fill="#c6952a"/>
<text x="510.5" y="502.4" font-size="7.2">Ast<tspan dy="-2.38" font-size="5.18">−</tspan></text>
<line x1="537.3" y1="499.9" x2="544.5" y2="499.9" stroke="#2e4088" stroke-width="0.9"/>
<rect x="540.2" y="499.2" width="1.4" height="1.4" fill="#2e4088"/>
<text x="549" y="502.4" font-size="7.2">Ast<tspan dy="-2.38" font-size="5.18">+</tspan></text>
<text x="497" y="384.9" font-size="3.7" fill="#444">Ast<tspan dy="-1.2" font-size="2.5">−</tspan><tspan dy="1.2">:</tspan> <tspan font-style="italic">β</tspan> = 0.21, <tspan font-style="italic">P</tspan> = 0.0004</text>
<text x="497" y="389.7" font-size="3.7" fill="#444">Ast<tspan dy="-1.2" font-size="2.5">+</tspan><tspan dy="1.2">:</tspan> <tspan font-style="italic">β</tspan> = 0.76, <tspan font-style="italic">P</tspan> &lt; 0.0001</text>
<text x="497" y="394.5" font-size="3.7" fill="#444">Aβ-PET×Ast status: <tspan font-style="italic">β</tspan> = 0.55, <tspan font-style="italic">P</tspan> &lt; 0.0003</text>
<rect x="686.8" y="382" width="58" height="29.7" fill="#f3f3f3"/>
<rect x="686.8" y="440" width="58" height="27.9" fill="#f3f3f3"/>
<line x1="698.4" y1="382" x2="698.4" y2="469.2" stroke="#8a8a8a" stroke-width="0.7"/>
<path d="M687 469.2H744.8M687 469.2v2M698.4 469.2v2M709.9 469.2v2M721.6 469.2v2M733.3 469.2v2M744.8 469.2v2" stroke="#8a8a8a" stroke-width="0.7" fill="none"/>
<text x="691.3" y="477.6" font-size="7.1" text-anchor="end" transform="rotate(-45 691.3 477.6)">−0.5</text>
<text x="702.7" y="477.6" font-size="7.1" text-anchor="end" transform="rotate(-45 702.7 477.6)">0</text>
<text x="714.2" y="477.6" font-size="7.1" text-anchor="end" transform="rotate(-45 714.2 477.6)">0.5</text>
<text x="725.9" y="477.6" font-size="7.1" text-anchor="end" transform="rotate(-45 725.9 477.6)">1.0</text>
<text x="737.6" y="477.6" font-size="7.1" text-anchor="end" transform="rotate(-45 737.6 477.6)">1.5</text>
<text x="749.1" y="477.6" font-size="7.1" text-anchor="end" transform="rotate(-45 749.1 477.6)">2.0</text>
<line x1="696.2" y1="387.2" x2="704.5" y2="387.2" stroke="#7d9f90" stroke-width="0.8"/>
<circle cx="700.5" cy="387.2" r="1.25" fill="#fff" stroke="#7d9f90" stroke-width="0.6"/>
<line x1="696.6" y1="392.2" x2="702" y2="392.2" stroke="#c2733a" stroke-width="0.8"/>
<path d="M697.4 392.2L699.3 390.8L701.2 392.2L699.3 393.6Z" fill="#fff" stroke="#c2733a" stroke-width="0.6"/>
<line x1="708.8" y1="400.5" x2="726.5" y2="400.5" stroke="#7d9f90" stroke-width="0.8"/>
<circle cx="717.8" cy="400.5" r="1.4" fill="#7d9f90"/>
<line x1="701" y1="405.7" x2="709.7" y2="405.7" stroke="#c2733a" stroke-width="0.8"/>
<circle cx="705.5" cy="405.7" r="1.4" fill="#c2733a"/>
<line x1="696.8" y1="415.3" x2="704.9" y2="415.3" stroke="#7d9f90" stroke-width="0.8"/>
<circle cx="700.5" cy="415.3" r="1.25" fill="#fff" stroke="#7d9f90" stroke-width="0.6"/>
<line x1="698.2" y1="420.2" x2="704" y2="420.2" stroke="#c2733a" stroke-width="0.8"/>
<path d="M698.8 420.2L700.7 418.8L702.6 420.2L700.7 421.6Z" fill="#fff" stroke="#c2733a" stroke-width="0.6"/>
<line x1="703.6" y1="428.6" x2="721.3" y2="428.6" stroke="#7d9f90" stroke-width="0.8"/>
<circle cx="712" cy="428.6" r="1.4" fill="#7d9f90"/>
<line x1="702" y1="433.4" x2="710.7" y2="433.4" stroke="#c2733a" stroke-width="0.8"/>
<circle cx="706.1" cy="433.4" r="1.4" fill="#c2733a"/>
<line x1="701.9" y1="444.4" x2="712" y2="444.4" stroke="#7d9f90" stroke-width="0.8"/>
<circle cx="706.9" cy="444.4" r="1.25" fill="#fff" stroke="#7d9f90" stroke-width="0.6"/>
<line x1="697.7" y1="449.6" x2="704.4" y2="449.6" stroke="#c2733a" stroke-width="0.8"/>
<path d="M699.1 449.6L701 448.2L702.9 449.6L701 451Z" fill="#fff" stroke="#c2733a" stroke-width="0.6"/>
<line x1="713.5" y1="457.8" x2="740.3" y2="457.8" stroke="#7d9f90" stroke-width="0.8"/>
<circle cx="727.1" cy="457.8" r="1.4" fill="#7d9f90"/>
<line x1="705.3" y1="462.6" x2="716.8" y2="462.6" stroke="#c2733a" stroke-width="0.8"/>
<circle cx="711.1" cy="462.6" r="1.4" fill="#c2733a"/>
<text x="682.8" y="398.3" font-size="6.8" text-anchor="end" textLength="25" lengthAdjust="spacingAndGlyphs">p-tau181</text>
<text x="682.8" y="426.2" font-size="6.8" text-anchor="end" textLength="25.4" lengthAdjust="spacingAndGlyphs">p-tau231</text>
<text x="682.8" y="456.4" font-size="6.8" text-anchor="end" textLength="25.2" lengthAdjust="spacingAndGlyphs">p-tau217</text>
<text x="714" y="496" font-size="8.6" text-anchor="middle" textLength="71" lengthAdjust="spacingAndGlyphs">β estimate (95% CI)</text>
<line x1="672.9" y1="507.8" x2="679.6" y2="507.8" stroke="#7d9f90" stroke-width="0.9"/>
<text x="684.4" y="510.3" font-size="7.2">Men</text>
<line x1="711" y1="507.8" x2="717.7" y2="507.8" stroke="#c2733a" stroke-width="0.9"/>
<text x="722.1" y="510.3" font-size="7.2" textLength="22.5" lengthAdjust="spacingAndGlyphs">Women</text>
<circle cx="676.3" cy="516.2" r="1.05" fill="#fff" stroke="#333" stroke-width="0.7"/>
<text x="681.1" y="518.8" font-size="7.2">Ast<tspan dy="-2.38" font-size="5.18">−</tspan></text>
<circle cx="714.5" cy="516.2" r="1.1" fill="#111"/>
<text x="720.2" y="518.8" font-size="7.2">Ast<tspan dy="-2.38" font-size="5.18">+</tspan></text>
<text x="543.1" y="38.5" font-size="6.6" textLength="151" lengthAdjust="spacingAndGlyphs">Association between plasma p-tau181 and Aβ–PET</text>
<text x="541.7" y="48.3" font-size="6.7">Ast<tspan dy="-2.21" font-size="4.82">−</tspan></text>
<text x="679.8" y="48.3" font-size="6.7">Ast<tspan dy="-2.21" font-size="4.82">+</tspan></text>
<g filter="url(#bl5)">
<path d="M491.24 71.75C491.58 69.98 492.55 66.51 493.55 64.35C494.55 62.19 495.71 60.5 497.25 58.8C498.79 57.11 500.64 55.56 502.8 54.18C504.96 52.79 507.58 51.4 510.2 50.48C512.82 49.55 516.06 49.01 518.53 48.63C520.99 48.24 522.84 47.85 525 48.16C527.16 48.47 529.32 49.32 531.48 50.48C533.64 51.63 536.1 53.25 537.95 55.1C539.8 56.95 541.27 59.42 542.58 61.58C543.89 63.73 545.05 66.05 545.82 68.05C546.59 70.06 547.28 72.21 547.2 73.6C547.13 74.99 546.59 75.88 545.35 76.38C544.12 76.87 541.81 76.64 539.8 76.56C537.8 76.49 535.18 75.61 533.33 75.91C531.48 76.22 530.4 77.38 528.7 78.41C527.01 79.45 525 80.91 523.15 82.11C521.3 83.32 519.3 84.73 517.6 85.63C515.91 86.52 514.36 87.32 512.98 87.48C511.59 87.63 510.12 87.32 509.28 86.55C508.43 85.78 507.92 84.01 507.89 82.85C507.86 81.7 509.32 80.36 509.09 79.62C508.86 78.88 507.7 78.52 506.5 78.41C505.3 78.3 503.42 78.77 501.88 78.97C500.33 79.17 498.64 79.74 497.25 79.62C495.86 79.49 494.51 79 493.55 78.23C492.59 77.46 491.9 76.07 491.52 74.99C491.13 73.91 490.9 73.53 491.24 71.75Z" stroke="none" stroke-width="1" fill="url(#bg1)"/>
<g clip-path="url(#cb1)">
<path d="M493.09 63.89C492.86 65.05 491.47 68.59 491.7 70.83C491.93 73.06 492.78 75.68 494.48 77.3C496.17 78.92 500.64 80 501.88 80.54" stroke="#6f6f6f" stroke-width="8.1" fill="none" stroke-linecap="round" filter="url(#bl3)" opacity="0.6"/>
<path d="M497.25 61.58C497.02 62.81 495.86 66.74 495.86 68.98C495.86 71.21 497.02 73.99 497.25 74.99" stroke="#9f9f9f" stroke-width="5.4" fill="none" stroke-linecap="round" filter="url(#bl3)" opacity="0.7"/>
<path d="M515.75 84.7C516.99 84.01 520.84 82.08 523.15 80.54C525.47 79 528.55 76.3 529.63 75.45" stroke="#8f8f8f" stroke-width="4.5" fill="none" stroke-linecap="round" filter="url(#bl3)" opacity="0.6"/>
<path d="M504.65 56.95C505.19 57.88 507.5 60.65 507.89 62.5C508.27 64.35 507.12 67.13 506.96 68.05" stroke="#a7a7a7" stroke-width="2.34" fill="none" stroke-linecap="round" filter="url(#bl1)"/>
<path d="M501.88 59.26C501.6 60.03 500.49 63.12 500.21 63.89" stroke="#7b7b7b" stroke-width="2.16" fill="none" stroke-linecap="round" filter="url(#bl1)"/>
<path d="M506.5 71.75C506.35 72.37 505.35 74.34 505.58 75.45C505.81 76.56 507.5 77.92 507.89 78.41" stroke="#8f8f8f" stroke-width="2.16" fill="none" stroke-linecap="round" filter="url(#bl1)"/>
<path d="M517.6 53.25C517.37 54.25 516.21 57.41 516.21 59.26C516.21 61.11 517.37 63.5 517.6 64.35" stroke="#9c9c9c" stroke-width="2.16" fill="none" stroke-linecap="round" filter="url(#bl1)"/>
<path d="M524.08 49.55C523.54 50.63 521.46 54.18 520.84 56.03C520.22 57.88 520.45 59.88 520.38 60.65" stroke="#acacac" stroke-width="2.16" fill="none" stroke-linecap="round" filter="url(#bl1)"/>
<path d="M529.63 51.4C529.32 52.33 527.62 55.26 527.78 56.95C527.93 58.65 530.09 60.81 530.55 61.58" stroke="#c5c5c5" stroke-width="1.8" fill="none" stroke-linecap="round" filter="url(#bl1)"/>
<path d="M534.25 57.88C534.64 59.11 535.56 63.12 536.57 65.28C537.57 67.44 539.11 69.29 540.27 70.83C541.42 72.37 542.96 73.91 543.5 74.53" stroke="#c6c6c6" stroke-width="1.8" fill="none" stroke-linecap="round" filter="url(#bl1)"/>
<path d="M511.13 81.93C512.36 81.23 515.91 79.38 518.53 77.77C521.15 76.15 525.47 73.14 526.85 72.21" stroke="#ffffff" stroke-width="2.88" fill="none" stroke-linecap="round" filter="url(#bl1)"/>
<path d="M512.98 84.89C514.06 84.27 517.14 82.65 519.45 81.19C521.77 79.72 524.93 77.8 526.85 76.1C528.78 74.4 530.09 72.74 531.02 71.01C531.94 69.29 532.17 66.62 532.4 65.74" stroke="#9c9c9c" stroke-width="1.8" fill="none" stroke-linecap="round" filter="url(#bl2)"/>
<path d="M509.46 80.26C510.51 79.65 513.62 77.8 515.75 76.56C517.88 75.33 520.38 74.02 522.23 72.86C524.08 71.71 526.08 70.16 526.85 69.62" stroke="#b1b1b1" stroke-width="1.62" fill="none" stroke-linecap="round" filter="url(#bl2)"/>
<path d="M511.59 56.77C511.79 57.72 512.75 60.7 512.79 62.5C512.84 64.31 511.76 66.33 511.87 67.59C511.97 68.85 513.18 69.67 513.44 70.09" stroke="#6f6f6f" stroke-width="2.7" fill="none" stroke-linecap="round" filter="url(#bl2)"/>
<path d="M512.98 70.27C513.9 70.03 516.6 69.39 518.53 68.79C520.45 68.19 523.54 67.02 524.54 66.66" stroke="#5f5f5f" stroke-width="2.88" fill="none" stroke-linecap="round" filter="url(#bl2)"/>
<path d="M523.62 65.46C524 65.15 525.39 64.26 525.93 63.61C526.47 62.96 526.7 61.92 526.85 61.58" stroke="#555555" stroke-width="3.96" fill="none" stroke-linecap="round" filter="url(#bl2)"/>
<path d="M507.89 82.39C508.2 83.12 508.74 85.83 509.74 86.74C510.74 87.65 512.44 88 513.9 87.85C515.37 87.69 516.68 86.92 518.53 85.81C520.38 84.7 523.92 81.96 525 81.19" stroke="#6b6b6b" stroke-width="2.88" fill="none" stroke-linecap="round" filter="url(#bl1)"/>
<path d="M491.52 71.29C491.82 72.17 492.26 75.13 493.37 76.56C494.48 78 496.45 79.43 498.18 79.89C499.9 80.36 502.06 79.51 503.73 79.34C505.39 79.17 507.43 78.95 508.17 78.88" stroke="#595959" stroke-width="3.96" fill="none" stroke-linecap="round" filter="url(#bl1)"/>
<path d="M534.25 76.56C535.18 76.69 537.88 77.3 539.8 77.3C541.73 77.3 544.81 76.69 545.82 76.56" stroke="#9c9c9c" stroke-width="2.16" fill="none" stroke-linecap="round" filter="url(#bl1)"/>
<path d="M491.24 71.75C491.58 69.98 492.55 66.51 493.55 64.35C494.55 62.19 495.71 60.5 497.25 58.8C498.79 57.11 500.64 55.56 502.8 54.18C504.96 52.79 507.58 51.4 510.2 50.48C512.82 49.55 516.06 49.01 518.53 48.63C520.99 48.24 522.84 47.85 525 48.16C527.16 48.47 529.32 49.32 531.48 50.48C533.64 51.63 536.1 53.25 537.95 55.1C539.8 56.95 541.27 59.42 542.58 61.58C543.89 63.73 545.05 66.05 545.82 68.05C546.59 70.06 547.28 72.21 547.2 73.6C547.13 74.99 546.59 75.88 545.35 76.38C544.12 76.87 541.81 76.64 539.8 76.56C537.8 76.49 535.18 75.61 533.33 75.91C531.48 76.22 530.4 77.38 528.7 78.41C527.01 79.45 525 80.91 523.15 82.11C521.3 83.32 519.3 84.73 517.6 85.63C515.91 86.52 514.36 87.32 512.98 87.48C511.59 87.63 510.12 87.32 509.28 86.55C508.43 85.78 507.92 84.01 507.89 82.85C507.86 81.7 509.32 80.36 509.09 79.62C508.86 78.88 507.7 78.52 506.5 78.41C505.3 78.3 503.42 78.77 501.88 78.97C500.33 79.17 498.64 79.74 497.25 79.62C495.86 79.49 494.51 79 493.55 78.23C492.59 77.46 491.9 76.07 491.52 74.99C491.13 73.91 490.9 73.53 491.24 71.75Z" stroke="url(#edge)" stroke-width="2.6" fill="none" filter="url(#bl2)"/>
</g></g>
<g filter="url(#bl5)">
<path d="M552.16 73.6C552.52 72.03 553.47 68.51 554.48 66.2C555.48 63.89 556.63 61.88 558.18 59.73C559.72 57.57 561.72 55.02 563.73 53.25C565.73 51.48 567.73 49.94 570.2 49.09C572.67 48.24 575.75 48.09 578.53 48.16C581.3 48.24 584.23 48.7 586.85 49.55C589.47 50.4 591.94 51.71 594.25 53.25C596.57 54.79 598.88 56.8 600.73 58.8C602.58 60.81 604.24 63.12 605.35 65.28C606.46 67.44 607.08 69.9 607.39 71.75C607.7 73.6 607.85 75.07 607.2 76.38C606.56 77.69 605.05 79 603.5 79.62C601.96 80.23 599.96 80.08 597.95 80.08C595.95 80.08 592.68 79 591.48 79.62C590.28 80.23 591.35 82.54 590.74 83.78C590.12 85.01 589.04 86.52 587.78 87.02C586.51 87.51 584.69 87.4 583.15 86.74C581.61 86.08 580.22 84.12 578.53 83.04C576.83 81.96 574.98 81.03 572.98 80.26C570.97 79.49 568.66 78.81 566.5 78.41C564.34 78.01 562.03 78.04 560.03 77.86C558.02 77.67 555.76 77.67 554.48 77.3C553.2 76.93 552.73 76.25 552.35 75.64C551.96 75.02 551.81 75.17 552.16 73.6Z" stroke="none" stroke-width="1" fill="url(#bg2)"/>
<g clip-path="url(#cb2)">
<path d="M553.55 68.05C553.47 69.13 552.16 72.91 553.09 74.53C554.01 76.15 558.1 77.23 559.1 77.77" stroke="#777777" stroke-width="6.3" fill="none" stroke-linecap="round" filter="url(#bl3)" opacity="0.5"/>
<path d="M555.86 64.81C556.25 65.82 557.33 69.05 558.18 70.83C559.02 72.6 560.49 74.68 560.95 75.45" stroke="#9c9c9c" stroke-width="2.7" fill="none" stroke-linecap="round" filter="url(#bl1)"/>
<path d="M580.38 53.71C580.99 54.41 583.54 56.41 584.08 57.88C584.62 59.34 583.69 61.73 583.62 62.5" stroke="#a7a7a7" stroke-width="2.16" fill="none" stroke-linecap="round" filter="url(#bl1)"/>
<path d="M587.32 54.18C587.93 55.18 590.55 58.34 591.02 60.19C591.48 62.04 589.86 63.81 590.09 65.28C590.32 66.74 592.02 68.36 592.4 68.98" stroke="#bfbfbf" stroke-width="1.8" fill="none" stroke-linecap="round" filter="url(#bl1)"/>
<path d="M596.1 57.88C596.72 58.96 599.03 62.19 599.8 64.35C600.57 66.51 600.57 69.75 600.73 70.83" stroke="#d0d0d0" stroke-width="1.8" fill="none" stroke-linecap="round" filter="url(#bl1)"/>
<path d="M566.5 62.5C567.04 63.73 568.2 67.87 569.74 69.9C571.28 71.94 573.21 73.6 575.75 74.71C578.3 75.82 583.46 76.25 585 76.56" stroke="#ffffff" stroke-width="2.7" fill="none" stroke-linecap="round" filter="url(#bl1)"/>
<path d="M561.14 57.88C560.8 58.46 559.44 60.81 559.1 61.39" stroke="#ffffff" stroke-width="2.88" fill="none" stroke-linecap="round" filter="url(#bl1)"/>
<path d="M553.74 67.13C553.95 67.9 554.81 70.98 555.03 71.75" stroke="#ffffff" stroke-width="2.16" fill="none" stroke-linecap="round" filter="url(#bl1)"/>
<path d="M559.56 62.04C560.1 63.12 561.72 66.36 562.8 68.51C563.88 70.67 564.65 73.19 566.04 74.99C567.43 76.79 570.28 78.61 571.13 79.34" stroke="#797979" stroke-width="2.88" fill="none" stroke-linecap="round" filter="url(#bl2)"/>
<path d="M572.51 52.79C573.21 53.33 575.6 55.02 576.68 56.03C577.76 57.03 578.99 57.8 578.99 58.8C578.99 59.8 577.06 61.5 576.68 62.04" stroke="#6e6e6e" stroke-width="2.88" fill="none" stroke-linecap="round" filter="url(#bl2)"/>
<path d="M564.19 55.56C564.81 56.49 566.81 59.19 567.89 61.11C568.97 63.04 569.51 65.51 570.66 67.13C571.82 68.75 573.21 69.87 574.83 70.83C576.45 71.78 578.37 72.71 580.38 72.86C582.38 73.02 585.31 72.17 586.85 71.75C588.39 71.34 589.17 70.6 589.63 70.36" stroke="#5a5a5a" stroke-width="3.24" fill="none" stroke-linecap="round" filter="url(#bl2)"/>
<path d="M574.83 63.89C575.6 64.2 577.76 65.01 579.45 65.74C581.15 66.46 583.31 67.47 585 68.24C586.7 69.01 588.16 69.93 589.63 70.36C591.09 70.8 592.63 70.21 593.79 70.83C594.95 71.44 596.1 73.53 596.57 74.06" stroke="#616161" stroke-width="2.88" fill="none" stroke-linecap="round" filter="url(#bl2)"/>
<path d="M552.16 71.75C552.27 72.52 551.65 75.3 552.81 76.38C553.97 77.46 556.82 77.8 559.1 78.23C561.38 78.66 564.19 78.54 566.5 78.97C568.81 79.4 570.97 80.02 572.98 80.82C574.98 81.62 577.6 83.28 578.53 83.78" stroke="#686868" stroke-width="3.06" fill="none" stroke-linecap="round" filter="url(#bl1)"/>
<path d="M579.45 83.96C580.15 84.52 582.2 86.68 583.62 87.29C585.03 87.91 586.74 88.13 587.96 87.66C589.18 87.2 590.34 85.67 590.92 84.52C591.51 83.36 591.39 81.36 591.48 80.73" stroke="#7b7b7b" stroke-width="2.52" fill="none" stroke-linecap="round" filter="url(#bl1)"/>
<path d="M591.48 80.26C592.56 80.36 595.8 81 597.95 80.82C600.11 80.63 603.35 79.43 604.43 79.15" stroke="#595959" stroke-width="3.96" fill="none" stroke-linecap="round" filter="url(#bl2)"/>
<path d="M552.16 73.6C552.52 72.03 553.47 68.51 554.48 66.2C555.48 63.89 556.63 61.88 558.18 59.73C559.72 57.57 561.72 55.02 563.73 53.25C565.73 51.48 567.73 49.94 570.2 49.09C572.67 48.24 575.75 48.09 578.53 48.16C581.3 48.24 584.23 48.7 586.85 49.55C589.47 50.4 591.94 51.71 594.25 53.25C596.57 54.79 598.88 56.8 600.73 58.8C602.58 60.81 604.24 63.12 605.35 65.28C606.46 67.44 607.08 69.9 607.39 71.75C607.7 73.6 607.85 75.07 607.2 76.38C606.56 77.69 605.05 79 603.5 79.62C601.96 80.23 599.96 80.08 597.95 80.08C595.95 80.08 592.68 79 591.48 79.62C590.28 80.23 591.35 82.54 590.74 83.78C590.12 85.01 589.04 86.52 587.78 87.02C586.51 87.51 584.69 87.4 583.15 86.74C581.61 86.08 580.22 84.12 578.53 83.04C576.83 81.96 574.98 81.03 572.98 80.26C570.97 79.49 568.66 78.81 566.5 78.41C564.34 78.01 562.03 78.04 560.03 77.86C558.02 77.67 555.76 77.67 554.48 77.3C553.2 76.93 552.73 76.25 552.35 75.64C551.96 75.02 551.81 75.17 552.16 73.6Z" stroke="url(#edge)" stroke-width="2.6" fill="none" filter="url(#bl2)"/>
</g></g>
<g filter="url(#bl5)">
<path d="M491.7 118.68C491.98 117.1 493.24 114.51 494.48 112.2C495.71 109.89 497.4 106.96 499.1 104.8C500.8 102.64 502.65 100.76 504.65 99.25C506.66 97.74 508.66 96.43 511.13 95.74C513.59 95.04 516.68 94.96 519.45 95.09C522.23 95.21 525.16 95.63 527.78 96.48C530.4 97.32 532.87 98.63 535.18 100.18C537.49 101.72 539.88 103.72 541.65 105.73C543.43 107.73 544.95 110.04 545.82 112.2C546.68 114.36 547.07 116.83 546.83 118.68C546.6 120.53 545.76 122.15 544.43 123.3C543.1 124.46 541.04 125.21 538.88 125.62C536.72 126.02 532.99 125.32 531.48 125.71C529.97 126.09 530.28 126.94 529.81 127.93C529.35 128.91 529.5 130.76 528.7 131.63C527.9 132.49 526.24 133.23 525 133.11C523.77 132.98 522.84 131.87 521.3 130.89C519.76 129.9 517.6 128.27 515.75 127.19C513.9 126.11 512.21 125.06 510.2 124.41C508.2 123.77 505.88 123.55 503.73 123.3C501.57 123.06 499.07 123.21 497.25 122.93C495.43 122.65 493.74 122.35 492.81 121.64C491.89 120.93 491.42 120.25 491.7 118.68Z" stroke="none" stroke-width="1" fill="url(#bg1)"/>
<g clip-path="url(#cb3)">
<ellipse cx="524.54" cy="114.24" rx="15.91" ry="7.4" transform="rotate(14 524.54 114.24)" fill="#f1f1f1" stroke="#c4c4c4" stroke-width="0.9" filter="url(#bl2)"/>
<path d="M509.74 97.59C511.2 97.49 515.52 96.88 518.53 97.03C521.53 97.18 524.85 97.6 527.78 98.51C530.71 99.42 533.71 100.82 536.1 102.49C538.49 104.15 540.7 106.11 542.12 108.5C543.53 110.89 544.2 115.44 544.61 116.83" stroke="#ffffff" stroke-width="3.24" fill="none" stroke-linecap="round" filter="url(#bl1)" opacity="0.9"/>
<path d="M511.13 99.99C511.9 100.64 513.44 102.97 515.75 103.88C518.06 104.79 521.92 104.65 525 105.45C528.09 106.25 531.79 107.22 534.25 108.69C536.72 110.15 539.11 112.11 539.8 114.24C540.5 116.36 538.65 120.25 538.42 121.45" stroke="#c0c0c0" stroke-width="2.34" fill="none" stroke-linecap="round" filter="url(#bl1)"/>
<path d="M491.89 117.75C492.16 116.98 492.66 114.82 493.55 113.13C494.44 111.43 496.63 108.5 497.25 107.58" stroke="#b7b7b7" stroke-width="1.8" fill="none" stroke-linecap="round" filter="url(#bl1)"/>
<path d="M499.1 119.6C500.33 119.91 504.19 120.53 506.5 121.45C508.81 122.38 510.82 123.77 512.98 125.15C515.14 126.54 518.37 129.01 519.45 129.78" stroke="#ffffff" stroke-width="2.34" fill="none" stroke-linecap="round" filter="url(#bl1)"/>
<path d="M501.88 117.75C502.88 118.14 506.04 119.14 507.89 120.06C509.74 120.99 511.2 121.96 512.98 123.3C514.75 124.64 516.99 126.88 518.53 128.11C520.07 129.35 521.61 130.27 522.23 130.7" stroke="#868686" stroke-width="1.8" fill="none" stroke-linecap="round" filter="url(#bl2)"/>
<path d="M506.96 113.87C508.04 114.67 510.9 117.26 513.44 118.68C515.98 120.1 519.45 121.42 522.23 122.38C525 123.33 528.78 124.07 530.09 124.41" stroke="#747474" stroke-width="1.62" fill="none" stroke-linecap="round" filter="url(#bl2)"/>
<path d="M499.84 103.88C500.41 104.83 502.05 107.92 503.26 109.61C504.48 111.31 506.5 113.31 507.15 114.05" stroke="#535353" stroke-width="1.8" fill="none" stroke-linecap="round" filter="url(#bl2)"/>
<path d="M492.16 120.53C492.63 120.88 493.01 122.1 494.94 122.65C496.87 123.21 501.26 123.44 503.73 123.86C506.19 124.27 507.73 124.44 509.74 125.15C511.74 125.86 513.82 127 515.75 128.11C517.68 129.22 519.76 130.89 521.3 131.81C522.84 132.74 524.39 133.35 525 133.66" stroke="#595959" stroke-width="1.8" fill="none" stroke-linecap="round" filter="url(#bl2)"/>
<path d="M531.48 126.26C532.71 126.25 536.69 126.62 538.88 126.17C541.07 125.72 543.27 124.8 544.61 123.58C545.96 122.36 546.54 119.65 546.93 118.86" stroke="#919191" stroke-width="2.16" fill="none" stroke-linecap="round" filter="url(#bl1)"/>
<path d="M491.7 118.68C491.98 117.1 493.24 114.51 494.48 112.2C495.71 109.89 497.4 106.96 499.1 104.8C500.8 102.64 502.65 100.76 504.65 99.25C506.66 97.74 508.66 96.43 511.13 95.74C513.59 95.04 516.68 94.96 519.45 95.09C522.23 95.21 525.16 95.63 527.78 96.48C530.4 97.32 532.87 98.63 535.18 100.18C537.49 101.72 539.88 103.72 541.65 105.73C543.43 107.73 544.95 110.04 545.82 112.2C546.68 114.36 547.07 116.83 546.83 118.68C546.6 120.53 545.76 122.15 544.43 123.3C543.1 124.46 541.04 125.21 538.88 125.62C536.72 126.02 532.99 125.32 531.48 125.71C529.97 126.09 530.28 126.94 529.81 127.93C529.35 128.91 529.5 130.76 528.7 131.63C527.9 132.49 526.24 133.23 525 133.11C523.77 132.98 522.84 131.87 521.3 130.89C519.76 129.9 517.6 128.27 515.75 127.19C513.9 126.11 512.21 125.06 510.2 124.41C508.2 123.77 505.88 123.55 503.73 123.3C501.57 123.06 499.07 123.21 497.25 122.93C495.43 122.65 493.74 122.35 492.81 121.64C491.89 120.93 491.42 120.25 491.7 118.68Z" stroke="url(#edge)" stroke-width="2.6" fill="none" filter="url(#bl2)"/>
</g></g>
<g filter="url(#bl5)">
<path d="M552.16 117.75C552.36 116.44 552.7 114.05 553.55 112.2C554.4 110.35 555.71 108.35 557.25 106.65C558.79 104.96 560.64 103.49 562.8 102.03C564.96 100.56 567.58 98.94 570.2 97.86C572.82 96.78 575.75 96.01 578.53 95.55C581.3 95.09 584.23 94.78 586.85 95.09C589.47 95.4 592.09 96.24 594.25 97.4C596.41 98.56 598.11 100.18 599.8 102.03C601.5 103.88 603.2 106.34 604.43 108.5C605.66 110.66 606.74 112.97 607.2 114.98C607.67 116.98 607.82 119.26 607.2 120.53C606.59 121.79 605.05 122.38 603.5 122.56C601.96 122.75 599.96 121.33 597.95 121.64C595.95 121.95 593.64 123.33 591.48 124.41C589.32 125.49 587.01 126.88 585 128.11C583 129.35 581.3 130.92 579.45 131.81C577.6 132.71 575.49 133.43 573.9 133.48C572.31 133.52 570.7 132.98 569.92 132.09C569.15 131.2 568.95 129.15 569.28 128.11C569.6 127.08 572.33 126.14 571.87 125.89C571.4 125.65 568.47 126.6 566.5 126.63C564.53 126.66 562.03 126.63 560.03 126.08C558.02 125.52 555.76 124.3 554.48 123.3C553.2 122.3 552.73 120.99 552.35 120.06C551.96 119.14 551.96 119.06 552.16 117.75Z" stroke="none" stroke-width="1" fill="url(#bg2)"/>
<g clip-path="url(#cb4)">
<ellipse cx="574.83" cy="114.79" rx="15.91" ry="7.4" transform="rotate(-14 574.83 114.79)" fill="#f1f1f1" stroke="#c4c4c4" stroke-width="0.9" filter="url(#bl2)"/>
<path d="M589.63 97.4C588.09 97.4 583.46 97.09 580.38 97.4C577.29 97.71 574.06 98.25 571.13 99.25C568.2 100.25 565.19 101.72 562.8 103.41C560.41 105.11 558.25 107.19 556.79 109.43C555.32 111.66 554.48 115.59 554.01 116.83" stroke="#ffffff" stroke-width="3.24" fill="none" stroke-linecap="round" filter="url(#bl1)" opacity="0.9"/>
<path d="M588.7 100.36C587.86 100.95 586 102.95 583.62 103.88C581.23 104.8 577.45 104.99 574.36 105.91C571.28 106.84 567.58 107.99 565.11 109.43C562.65 110.86 560.26 112.43 559.56 114.51C558.87 116.6 560.72 120.68 560.95 121.91" stroke="#c0c0c0" stroke-width="2.34" fill="none" stroke-linecap="round" filter="url(#bl1)"/>
<path d="M607.39 117.75C607.13 116.9 606.62 114.44 605.82 112.66C605.02 110.89 603.12 108.04 602.58 107.11" stroke="#b7b7b7" stroke-width="1.8" fill="none" stroke-linecap="round" filter="url(#bl1)"/>
<path d="M600.27 119.42C599.11 119.73 595.56 120.37 593.33 121.27C591.09 122.16 589.01 123.4 586.85 124.78C584.69 126.17 581.46 128.79 580.38 129.59" stroke="#ffffff" stroke-width="2.34" fill="none" stroke-linecap="round" filter="url(#bl1)"/>
<path d="M599.8 117.75C598.72 118.14 595.49 119.14 593.33 120.06C591.17 120.99 589.01 121.91 586.85 123.3C584.69 124.69 582.07 127.06 580.38 128.39C578.68 129.72 577.29 130.78 576.68 131.26" stroke="#868686" stroke-width="1.8" fill="none" stroke-linecap="round" filter="url(#bl2)"/>
<path d="M592.4 114.98C591.32 115.72 588.55 118.06 585.93 119.42C583.31 120.77 579.38 122.13 576.68 123.12C573.98 124.1 570.9 124.97 569.74 125.34" stroke="#747474" stroke-width="1.62" fill="none" stroke-linecap="round" filter="url(#bl2)"/>
<path d="M598.88 104.62C598.42 105.57 597.18 108.62 596.1 110.35C595.02 112.08 593.02 114.21 592.4 114.98" stroke="#535353" stroke-width="1.8" fill="none" stroke-linecap="round" filter="url(#bl2)"/>
<path d="M607.2 120.99C606.59 121.36 605.05 122.98 603.5 123.21C601.96 123.44 599.96 122.05 597.95 122.38C595.95 122.7 593.64 124.07 591.48 125.15C589.32 126.23 587.01 127.62 585 128.85C583 130.09 581.3 131.69 579.45 132.55C577.6 133.42 574.83 133.79 573.9 134.03" stroke="#595959" stroke-width="1.8" fill="none" stroke-linecap="round" filter="url(#bl2)"/>
<path d="M569.28 128.11C569.4 128.82 569.21 131.38 570.02 132.37C570.82 133.35 573.41 133.76 574.09 134.03" stroke="#777777" stroke-width="2.34" fill="none" stroke-linecap="round" filter="url(#bl2)"/>
<path d="M552.35 119.6C552.7 120.28 553.2 122.5 554.48 123.67C555.76 124.84 558.02 126.05 560.03 126.63C562.03 127.22 564.57 127.22 566.5 127.19C568.43 127.16 570.74 126.57 571.59 126.45" stroke="#919191" stroke-width="2.16" fill="none" stroke-linecap="round" filter="url(#bl1)"/>
<path d="M552.16 117.75C552.36 116.44 552.7 114.05 553.55 112.2C554.4 110.35 555.71 108.35 557.25 106.65C558.79 104.96 560.64 103.49 562.8 102.03C564.96 100.56 567.58 98.94 570.2 97.86C572.82 96.78 575.75 96.01 578.53 95.55C581.3 95.09 584.23 94.78 586.85 95.09C589.47 95.4 592.09 96.24 594.25 97.4C596.41 98.56 598.11 100.18 599.8 102.03C601.5 103.88 603.2 106.34 604.43 108.5C605.66 110.66 606.74 112.97 607.2 114.98C607.67 116.98 607.82 119.26 607.2 120.53C606.59 121.79 605.05 122.38 603.5 122.56C601.96 122.75 599.96 121.33 597.95 121.64C595.95 121.95 593.64 123.33 591.48 124.41C589.32 125.49 587.01 126.88 585 128.11C583 129.35 581.3 130.92 579.45 131.81C577.6 132.71 575.49 133.43 573.9 133.48C572.31 133.52 570.7 132.98 569.92 132.09C569.15 131.2 568.95 129.15 569.28 128.11C569.6 127.08 572.33 126.14 571.87 125.89C571.4 125.65 568.47 126.6 566.5 126.63C564.53 126.66 562.03 126.63 560.03 126.08C558.02 125.52 555.76 124.3 554.48 123.3C553.2 122.3 552.73 120.99 552.35 120.06C551.96 119.14 551.96 119.06 552.16 117.75Z" stroke="url(#edge)" stroke-width="2.6" fill="none" filter="url(#bl2)"/>
</g></g>
<g filter="url(#bl5)">
<path d="M629.24 71.75C629.58 69.98 630.55 66.51 631.55 64.35C632.55 62.19 633.71 60.5 635.25 58.8C636.79 57.11 638.64 55.56 640.8 54.18C642.96 52.79 645.58 51.4 648.2 50.48C650.82 49.55 654.06 49.01 656.53 48.63C658.99 48.24 660.84 47.85 663 48.16C665.16 48.47 667.32 49.32 669.48 50.48C671.64 51.63 674.1 53.25 675.95 55.1C677.8 56.95 679.27 59.42 680.58 61.58C681.89 63.73 683.05 66.05 683.82 68.05C684.59 70.06 685.28 72.21 685.2 73.6C685.13 74.99 684.59 75.88 683.35 76.38C682.12 76.87 679.81 76.64 677.8 76.56C675.8 76.49 673.18 75.61 671.33 75.91C669.48 76.22 668.4 77.38 666.7 78.41C665.01 79.45 663 80.91 661.15 82.11C659.3 83.32 657.3 84.73 655.6 85.63C653.91 86.52 652.36 87.32 650.98 87.48C649.59 87.63 648.12 87.32 647.28 86.55C646.43 85.78 645.92 84.01 645.89 82.85C645.86 81.7 647.32 80.36 647.09 79.62C646.86 78.88 645.7 78.52 644.5 78.41C643.3 78.3 641.42 78.77 639.88 78.97C638.33 79.17 636.64 79.74 635.25 79.62C633.86 79.49 632.51 79 631.55 78.23C630.59 77.46 629.9 76.07 629.52 74.99C629.13 73.91 628.9 73.53 629.24 71.75Z" stroke="none" stroke-width="1" fill="url(#bg1)"/>
<g clip-path="url(#cb5)">
<path d="M631.09 63.89C630.86 65.05 629.47 68.59 629.7 70.83C629.93 73.06 630.78 75.68 632.48 77.3C634.17 78.92 638.64 80 639.88 80.54" stroke="#6f6f6f" stroke-width="8.1" fill="none" stroke-linecap="round" filter="url(#bl3)" opacity="0.6"/>
<path d="M635.25 61.58C635.02 62.81 633.86 66.74 633.86 68.98C633.86 71.21 635.02 73.99 635.25 74.99" stroke="#9f9f9f" stroke-width="5.4" fill="none" stroke-linecap="round" filter="url(#bl3)" opacity="0.7"/>
<path d="M653.75 84.7C654.99 84.01 658.84 82.08 661.15 80.54C663.47 79 666.55 76.3 667.63 75.45" stroke="#8f8f8f" stroke-width="4.5" fill="none" stroke-linecap="round" filter="url(#bl3)" opacity="0.6"/>
<path d="M642.65 56.95C643.19 57.88 645.5 60.65 645.89 62.5C646.27 64.35 645.12 67.13 644.96 68.05" stroke="#a7a7a7" stroke-width="2.34" fill="none" stroke-linecap="round" filter="url(#bl1)"/>
<path d="M639.88 59.26C639.6 60.03 638.49 63.12 638.21 63.89" stroke="#7b7b7b" stroke-width="2.16" fill="none" stroke-linecap="round" filter="url(#bl1)"/>
<path d="M644.5 71.75C644.35 72.37 643.35 74.34 643.58 75.45C643.81 76.56 645.5 77.92 645.89 78.41" stroke="#8f8f8f" stroke-width="2.16" fill="none" stroke-linecap="round" filter="url(#bl1)"/>
<path d="M655.6 53.25C655.37 54.25 654.21 57.41 654.21 59.26C654.21 61.11 655.37 63.5 655.6 64.35" stroke="#9c9c9c" stroke-width="2.16" fill="none" stroke-linecap="round" filter="url(#bl1)"/>
<path d="M662.08 49.55C661.54 50.63 659.46 54.18 658.84 56.03C658.22 57.88 658.45 59.88 658.38 60.65" stroke="#acacac" stroke-width="2.16" fill="none" stroke-linecap="round" filter="url(#bl1)"/>
<path d="M667.63 51.4C667.32 52.33 665.62 55.26 665.78 56.95C665.93 58.65 668.09 60.81 668.55 61.58" stroke="#c5c5c5" stroke-width="1.8" fill="none" stroke-linecap="round" filter="url(#bl1)"/>
<path d="M672.25 57.88C672.64 59.11 673.56 63.12 674.57 65.28C675.57 67.44 677.11 69.29 678.27 70.83C679.42 72.37 680.96 73.91 681.5 74.53" stroke="#c6c6c6" stroke-width="1.8" fill="none" stroke-linecap="round" filter="url(#bl1)"/>
<path d="M649.13 81.93C650.36 81.23 653.91 79.38 656.53 77.77C659.15 76.15 663.47 73.14 664.85 72.21" stroke="#ffffff" stroke-width="2.88" fill="none" stroke-linecap="round" filter="url(#bl1)"/>
<path d="M650.98 84.89C652.06 84.27 655.14 82.65 657.45 81.19C659.77 79.72 662.93 77.8 664.85 76.1C666.78 74.4 668.09 72.74 669.02 71.01C669.94 69.29 670.17 66.62 670.4 65.74" stroke="#9c9c9c" stroke-width="1.8" fill="none" stroke-linecap="round" filter="url(#bl2)"/>
<path d="M647.46 80.26C648.51 79.65 651.62 77.8 653.75 76.56C655.88 75.33 658.38 74.02 660.23 72.86C662.08 71.71 664.08 70.16 664.85 69.62" stroke="#b1b1b1" stroke-width="1.62" fill="none" stroke-linecap="round" filter="url(#bl2)"/>
<path d="M649.59 56.77C649.79 57.72 650.75 60.7 650.79 62.5C650.84 64.31 649.76 66.33 649.87 67.59C649.97 68.85 651.18 69.67 651.44 70.09" stroke="#6f6f6f" stroke-width="2.7" fill="none" stroke-linecap="round" filter="url(#bl2)"/>
<path d="M650.98 70.27C651.9 70.03 654.6 69.39 656.53 68.79C658.45 68.19 661.54 67.02 662.54 66.66" stroke="#5f5f5f" stroke-width="2.88" fill="none" stroke-linecap="round" filter="url(#bl2)"/>
<path d="M661.62 65.46C662 65.15 663.39 64.26 663.93 63.61C664.47 62.96 664.7 61.92 664.85 61.58" stroke="#555555" stroke-width="3.96" fill="none" stroke-linecap="round" filter="url(#bl2)"/>
<path d="M645.89 82.39C646.2 83.12 646.74 85.83 647.74 86.74C648.74 87.65 650.44 88 651.9 87.85C653.37 87.69 654.68 86.92 656.53 85.81C658.38 84.7 661.92 81.96 663 81.19" stroke="#6b6b6b" stroke-width="2.88" fill="none" stroke-linecap="round" filter="url(#bl1)"/>
<path d="M629.52 71.29C629.82 72.17 630.26 75.13 631.37 76.56C632.48 78 634.45 79.43 636.18 79.89C637.9 80.36 640.06 79.51 641.73 79.34C643.39 79.17 645.43 78.95 646.17 78.88" stroke="#595959" stroke-width="3.96" fill="none" stroke-linecap="round" filter="url(#bl1)"/>
<path d="M672.25 76.56C673.18 76.69 675.88 77.3 677.8 77.3C679.73 77.3 682.81 76.69 683.82 76.56" stroke="#9c9c9c" stroke-width="2.16" fill="none" stroke-linecap="round" filter="url(#bl1)"/>
<path d="M629.24 71.75C629.58 69.98 630.55 66.51 631.55 64.35C632.55 62.19 633.71 60.5 635.25 58.8C636.79 57.11 638.64 55.56 640.8 54.18C642.96 52.79 645.58 51.4 648.2 50.48C650.82 49.55 654.06 49.01 656.53 48.63C658.99 48.24 660.84 47.85 663 48.16C665.16 48.47 667.32 49.32 669.48 50.48C671.64 51.63 674.1 53.25 675.95 55.1C677.8 56.95 679.27 59.42 680.58 61.58C681.89 63.73 683.05 66.05 683.82 68.05C684.59 70.06 685.28 72.21 685.2 73.6C685.13 74.99 684.59 75.88 683.35 76.38C682.12 76.87 679.81 76.64 677.8 76.56C675.8 76.49 673.18 75.61 671.33 75.91C669.48 76.22 668.4 77.38 666.7 78.41C665.01 79.45 663 80.91 661.15 82.11C659.3 83.32 657.3 84.73 655.6 85.63C653.91 86.52 652.36 87.32 650.98 87.48C649.59 87.63 648.12 87.32 647.28 86.55C646.43 85.78 645.92 84.01 645.89 82.85C645.86 81.7 647.32 80.36 647.09 79.62C646.86 78.88 645.7 78.52 644.5 78.41C643.3 78.3 641.42 78.77 639.88 78.97C638.33 79.17 636.64 79.74 635.25 79.62C633.86 79.49 632.51 79 631.55 78.23C630.59 77.46 629.9 76.07 629.52 74.99C629.13 73.91 628.9 73.53 629.24 71.75Z" stroke="url(#edge)" stroke-width="2.6" fill="none" filter="url(#bl2)"/>
</g></g>
<g filter="url(#bl5)">
<path d="M690.16 73.6C690.52 72.03 691.47 68.51 692.48 66.2C693.48 63.89 694.63 61.88 696.18 59.73C697.72 57.57 699.72 55.02 701.73 53.25C703.73 51.48 705.73 49.94 708.2 49.09C710.67 48.24 713.75 48.09 716.53 48.16C719.3 48.24 722.23 48.7 724.85 49.55C727.47 50.4 729.94 51.71 732.25 53.25C734.57 54.79 736.88 56.8 738.73 58.8C740.58 60.81 742.24 63.12 743.35 65.28C744.46 67.44 745.08 69.9 745.39 71.75C745.7 73.6 745.85 75.07 745.2 76.38C744.56 77.69 743.05 79 741.5 79.62C739.96 80.23 737.96 80.08 735.95 80.08C733.95 80.08 730.68 79 729.48 79.62C728.28 80.23 729.35 82.54 728.74 83.78C728.12 85.01 727.04 86.52 725.78 87.02C724.51 87.51 722.69 87.4 721.15 86.74C719.61 86.08 718.22 84.12 716.53 83.04C714.83 81.96 712.98 81.03 710.98 80.26C708.97 79.49 706.66 78.81 704.5 78.41C702.34 78.01 700.03 78.04 698.03 77.86C696.02 77.67 693.76 77.67 692.48 77.3C691.2 76.93 690.73 76.25 690.35 75.64C689.96 75.02 689.81 75.17 690.16 73.6Z" stroke="none" stroke-width="1" fill="url(#bg2)"/>
<g clip-path="url(#cb6)">
<path d="M691.55 68.05C691.47 69.13 690.16 72.91 691.09 74.53C692.01 76.15 696.1 77.23 697.1 77.77" stroke="#777777" stroke-width="6.3" fill="none" stroke-linecap="round" filter="url(#bl3)" opacity="0.5"/>
<path d="M693.86 64.81C694.25 65.82 695.33 69.05 696.18 70.83C697.02 72.6 698.49 74.68 698.95 75.45" stroke="#9c9c9c" stroke-width="2.7" fill="none" stroke-linecap="round" filter="url(#bl1)"/>
<path d="M718.38 53.71C718.99 54.41 721.54 56.41 722.08 57.88C722.62 59.34 721.69 61.73 721.62 62.5" stroke="#a7a7a7" stroke-width="2.16" fill="none" stroke-linecap="round" filter="url(#bl1)"/>
<path d="M725.32 54.18C725.93 55.18 728.55 58.34 729.02 60.19C729.48 62.04 727.86 63.81 728.09 65.28C728.32 66.74 730.02 68.36 730.4 68.98" stroke="#bfbfbf" stroke-width="1.8" fill="none" stroke-linecap="round" filter="url(#bl1)"/>
<path d="M734.1 57.88C734.72 58.96 737.03 62.19 737.8 64.35C738.57 66.51 738.57 69.75 738.73 70.83" stroke="#d0d0d0" stroke-width="1.8" fill="none" stroke-linecap="round" filter="url(#bl1)"/>
<path d="M704.5 62.5C705.04 63.73 706.2 67.87 707.74 69.9C709.28 71.94 711.21 73.6 713.75 74.71C716.3 75.82 721.46 76.25 723 76.56" stroke="#ffffff" stroke-width="2.7" fill="none" stroke-linecap="round" filter="url(#bl1)"/>
<path d="M699.14 57.88C698.8 58.46 697.44 60.81 697.1 61.39" stroke="#ffffff" stroke-width="2.88" fill="none" stroke-linecap="round" filter="url(#bl1)"/>
<path d="M691.74 67.13C691.95 67.9 692.81 70.98 693.03 71.75" stroke="#ffffff" stroke-width="2.16" fill="none" stroke-linecap="round" filter="url(#bl1)"/>
<path d="M697.56 62.04C698.1 63.12 699.72 66.36 700.8 68.51C701.88 70.67 702.65 73.19 704.04 74.99C705.43 76.79 708.28 78.61 709.13 79.34" stroke="#797979" stroke-width="2.88" fill="none" stroke-linecap="round" filter="url(#bl2)"/>
<path d="M710.51 52.79C711.21 53.33 713.6 55.02 714.68 56.03C715.76 57.03 716.99 57.8 716.99 58.8C716.99 59.8 715.06 61.5 714.68 62.04" stroke="#6e6e6e" stroke-width="2.88" fill="none" stroke-linecap="round" filter="url(#bl2)"/>
<path d="M702.19 55.56C702.81 56.49 704.81 59.19 705.89 61.11C706.97 63.04 707.51 65.51 708.66 67.13C709.82 68.75 711.21 69.87 712.83 70.83C714.45 71.78 716.37 72.71 718.38 72.86C720.38 73.02 723.31 72.17 724.85 71.75C726.39 71.34 727.17 70.6 727.63 70.36" stroke="#5a5a5a" stroke-width="3.24" fill="none" stroke-linecap="round" filter="url(#bl2)"/>
<path d="M712.83 63.89C713.6 64.2 715.76 65.01 717.45 65.74C719.15 66.46 721.31 67.47 723 68.24C724.7 69.01 726.16 69.93 727.63 70.36C729.09 70.8 730.63 70.21 731.79 70.83C732.95 71.44 734.1 73.53 734.57 74.06" stroke="#616161" stroke-width="2.88" fill="none" stroke-linecap="round" filter="url(#bl2)"/>
<path d="M690.16 71.75C690.27 72.52 689.65 75.3 690.81 76.38C691.97 77.46 694.82 77.8 697.1 78.23C699.38 78.66 702.19 78.54 704.5 78.97C706.81 79.4 708.97 80.02 710.98 80.82C712.98 81.62 715.6 83.28 716.53 83.78" stroke="#686868" stroke-width="3.06" fill="none" stroke-linecap="round" filter="url(#bl1)"/>
<path d="M717.45 83.96C718.15 84.52 720.2 86.68 721.62 87.29C723.03 87.91 724.74 88.13 725.96 87.66C727.18 87.2 728.34 85.67 728.92 84.52C729.51 83.36 729.39 81.36 729.48 80.73" stroke="#7b7b7b" stroke-width="2.52" fill="none" stroke-linecap="round" filter="url(#bl1)"/>
<path d="M729.48 80.26C730.56 80.36 733.8 81 735.95 80.82C738.11 80.63 741.35 79.43 742.43 79.15" stroke="#595959" stroke-width="3.96" fill="none" stroke-linecap="round" filter="url(#bl2)"/>
<path d="M690.16 73.6C690.52 72.03 691.47 68.51 692.48 66.2C693.48 63.89 694.63 61.88 696.18 59.73C697.72 57.57 699.72 55.02 701.73 53.25C703.73 51.48 705.73 49.94 708.2 49.09C710.67 48.24 713.75 48.09 716.53 48.16C719.3 48.24 722.23 48.7 724.85 49.55C727.47 50.4 729.94 51.71 732.25 53.25C734.57 54.79 736.88 56.8 738.73 58.8C740.58 60.81 742.24 63.12 743.35 65.28C744.46 67.44 745.08 69.9 745.39 71.75C745.7 73.6 745.85 75.07 745.2 76.38C744.56 77.69 743.05 79 741.5 79.62C739.96 80.23 737.96 80.08 735.95 80.08C733.95 80.08 730.68 79 729.48 79.62C728.28 80.23 729.35 82.54 728.74 83.78C728.12 85.01 727.04 86.52 725.78 87.02C724.51 87.51 722.69 87.4 721.15 86.74C719.61 86.08 718.22 84.12 716.53 83.04C714.83 81.96 712.98 81.03 710.98 80.26C708.97 79.49 706.66 78.81 704.5 78.41C702.34 78.01 700.03 78.04 698.03 77.86C696.02 77.67 693.76 77.67 692.48 77.3C691.2 76.93 690.73 76.25 690.35 75.64C689.96 75.02 689.81 75.17 690.16 73.6Z" stroke="url(#edge)" stroke-width="2.6" fill="none" filter="url(#bl2)"/>
</g></g>
<g filter="url(#bl5)">
<path d="M629.7 118.68C629.98 117.1 631.24 114.51 632.48 112.2C633.71 109.89 635.4 106.96 637.1 104.8C638.8 102.64 640.65 100.76 642.65 99.25C644.66 97.74 646.66 96.43 649.13 95.74C651.59 95.04 654.68 94.96 657.45 95.09C660.23 95.21 663.16 95.63 665.78 96.48C668.4 97.32 670.87 98.63 673.18 100.18C675.49 101.72 677.88 103.72 679.65 105.73C681.43 107.73 682.95 110.04 683.82 112.2C684.68 114.36 685.07 116.83 684.83 118.68C684.6 120.53 683.76 122.15 682.43 123.3C681.1 124.46 679.04 125.21 676.88 125.62C674.72 126.02 670.99 125.32 669.48 125.71C667.97 126.09 668.28 126.94 667.81 127.93C667.35 128.91 667.5 130.76 666.7 131.63C665.9 132.49 664.24 133.23 663 133.11C661.77 132.98 660.84 131.87 659.3 130.89C657.76 129.9 655.6 128.27 653.75 127.19C651.9 126.11 650.21 125.06 648.2 124.41C646.2 123.77 643.88 123.55 641.73 123.3C639.57 123.06 637.07 123.21 635.25 122.93C633.43 122.65 631.74 122.35 630.81 121.64C629.89 120.93 629.42 120.25 629.7 118.68Z" stroke="none" stroke-width="1" fill="url(#bg1)"/>
<g clip-path="url(#cb7)">
<ellipse cx="662.54" cy="114.24" rx="15.91" ry="7.4" transform="rotate(14 662.54 114.24)" fill="#f1f1f1" stroke="#c4c4c4" stroke-width="0.9" filter="url(#bl2)"/>
<path d="M647.74 97.59C649.2 97.49 653.52 96.88 656.53 97.03C659.53 97.18 662.85 97.6 665.78 98.51C668.71 99.42 671.71 100.82 674.1 102.49C676.49 104.15 678.7 106.11 680.12 108.5C681.53 110.89 682.2 115.44 682.61 116.83" stroke="#ffffff" stroke-width="3.24" fill="none" stroke-linecap="round" filter="url(#bl1)" opacity="0.9"/>
<path d="M649.13 99.99C649.9 100.64 651.44 102.97 653.75 103.88C656.06 104.79 659.92 104.65 663 105.45C666.09 106.25 669.79 107.22 672.25 108.69C674.72 110.15 677.11 112.11 677.8 114.24C678.5 116.36 676.65 120.25 676.42 121.45" stroke="#c0c0c0" stroke-width="2.34" fill="none" stroke-linecap="round" filter="url(#bl1)"/>
<path d="M629.89 117.75C630.16 116.98 630.66 114.82 631.55 113.13C632.44 111.43 634.63 108.5 635.25 107.58" stroke="#b7b7b7" stroke-width="1.8" fill="none" stroke-linecap="round" filter="url(#bl1)"/>
<path d="M637.1 119.6C638.33 119.91 642.19 120.53 644.5 121.45C646.81 122.38 648.82 123.77 650.98 125.15C653.14 126.54 656.37 129.01 657.45 129.78" stroke="#ffffff" stroke-width="2.34" fill="none" stroke-linecap="round" filter="url(#bl1)"/>
<path d="M639.88 117.75C640.88 118.14 644.04 119.14 645.89 120.06C647.74 120.99 649.2 121.96 650.98 123.3C652.75 124.64 654.99 126.88 656.53 128.11C658.07 129.35 659.61 130.27 660.23 130.7" stroke="#868686" stroke-width="1.8" fill="none" stroke-linecap="round" filter="url(#bl2)"/>
<path d="M644.96 113.87C646.04 114.67 648.9 117.26 651.44 118.68C653.98 120.1 657.45 121.42 660.23 122.38C663 123.33 666.78 124.07 668.09 124.41" stroke="#747474" stroke-width="1.62" fill="none" stroke-linecap="round" filter="url(#bl2)"/>
<path d="M637.84 103.88C638.41 104.83 640.05 107.92 641.26 109.61C642.48 111.31 644.5 113.31 645.15 114.05" stroke="#535353" stroke-width="1.8" fill="none" stroke-linecap="round" filter="url(#bl2)"/>
<path d="M630.16 120.53C630.63 120.88 631.01 122.1 632.94 122.65C634.87 123.21 639.26 123.44 641.73 123.86C644.19 124.27 645.73 124.44 647.74 125.15C649.74 125.86 651.82 127 653.75 128.11C655.68 129.22 657.76 130.89 659.3 131.81C660.84 132.74 662.39 133.35 663 133.66" stroke="#595959" stroke-width="1.8" fill="none" stroke-linecap="round" filter="url(#bl2)"/>
<path d="M669.48 126.26C670.71 126.25 674.69 126.62 676.88 126.17C679.07 125.72 681.27 124.8 682.61 123.58C683.96 122.36 684.54 119.65 684.93 118.86" stroke="#919191" stroke-width="2.16" fill="none" stroke-linecap="round" filter="url(#bl1)"/>
<path d="M629.7 118.68C629.98 117.1 631.24 114.51 632.48 112.2C633.71 109.89 635.4 106.96 637.1 104.8C638.8 102.64 640.65 100.76 642.65 99.25C644.66 97.74 646.66 96.43 649.13 95.74C651.59 95.04 654.68 94.96 657.45 95.09C660.23 95.21 663.16 95.63 665.78 96.48C668.4 97.32 670.87 98.63 673.18 100.18C675.49 101.72 677.88 103.72 679.65 105.73C681.43 107.73 682.95 110.04 683.82 112.2C684.68 114.36 685.07 116.83 684.83 118.68C684.6 120.53 683.76 122.15 682.43 123.3C681.1 124.46 679.04 125.21 676.88 125.62C674.72 126.02 670.99 125.32 669.48 125.71C667.97 126.09 668.28 126.94 667.81 127.93C667.35 128.91 667.5 130.76 666.7 131.63C665.9 132.49 664.24 133.23 663 133.11C661.77 132.98 660.84 131.87 659.3 130.89C657.76 129.9 655.6 128.27 653.75 127.19C651.9 126.11 650.21 125.06 648.2 124.41C646.2 123.77 643.88 123.55 641.73 123.3C639.57 123.06 637.07 123.21 635.25 122.93C633.43 122.65 631.74 122.35 630.81 121.64C629.89 120.93 629.42 120.25 629.7 118.68Z" stroke="url(#edge)" stroke-width="2.6" fill="none" filter="url(#bl2)"/>
</g></g>
<g filter="url(#bl5)">
<path d="M690.16 117.75C690.36 116.44 690.7 114.05 691.55 112.2C692.4 110.35 693.71 108.35 695.25 106.65C696.79 104.96 698.64 103.49 700.8 102.03C702.96 100.56 705.58 98.94 708.2 97.86C710.82 96.78 713.75 96.01 716.53 95.55C719.3 95.09 722.23 94.78 724.85 95.09C727.47 95.4 730.09 96.24 732.25 97.4C734.41 98.56 736.11 100.18 737.8 102.03C739.5 103.88 741.2 106.34 742.43 108.5C743.66 110.66 744.74 112.97 745.2 114.98C745.67 116.98 745.82 119.26 745.2 120.53C744.59 121.79 743.05 122.38 741.5 122.56C739.96 122.75 737.96 121.33 735.95 121.64C733.95 121.95 731.64 123.33 729.48 124.41C727.32 125.49 725.01 126.88 723 128.11C721 129.35 719.3 130.92 717.45 131.81C715.6 132.71 713.49 133.43 711.9 133.48C710.31 133.52 708.7 132.98 707.92 132.09C707.15 131.2 706.95 129.15 707.28 128.11C707.6 127.08 710.33 126.14 709.87 125.89C709.4 125.65 706.47 126.6 704.5 126.63C702.53 126.66 700.03 126.63 698.03 126.08C696.02 125.52 693.76 124.3 692.48 123.3C691.2 122.3 690.73 120.99 690.35 120.06C689.96 119.14 689.96 119.06 690.16 117.75Z" stroke="none" stroke-width="1" fill="url(#bg2)"/>
<g clip-path="url(#cb8)">
<ellipse cx="712.83" cy="114.79" rx="15.91" ry="7.4" transform="rotate(-14 712.83 114.79)" fill="#f1f1f1" stroke="#c4c4c4" stroke-width="0.9" filter="url(#bl2)"/>
<path d="M727.63 97.4C726.09 97.4 721.46 97.09 718.38 97.4C715.29 97.71 712.06 98.25 709.13 99.25C706.2 100.25 703.19 101.72 700.8 103.41C698.41 105.11 696.25 107.19 694.79 109.43C693.32 111.66 692.48 115.59 692.01 116.83" stroke="#ffffff" stroke-width="3.24" fill="none" stroke-linecap="round" filter="url(#bl1)" opacity="0.9"/>
<path d="M726.7 100.36C725.86 100.95 724 102.95 721.62 103.88C719.23 104.8 715.45 104.99 712.36 105.91C709.28 106.84 705.58 107.99 703.11 109.43C700.65 110.86 698.26 112.43 697.56 114.51C696.87 116.6 698.72 120.68 698.95 121.91" stroke="#c0c0c0" stroke-width="2.34" fill="none" stroke-linecap="round" filter="url(#bl1)"/>
<path d="M745.39 117.75C745.13 116.9 744.62 114.44 743.82 112.66C743.02 110.89 741.12 108.04 740.58 107.11" stroke="#b7b7b7" stroke-width="1.8" fill="none" stroke-linecap="round" filter="url(#bl1)"/>
<path d="M738.27 119.42C737.11 119.73 733.56 120.37 731.33 121.27C729.09 122.16 727.01 123.4 724.85 124.78C722.69 126.17 719.46 128.79 718.38 129.59" stroke="#ffffff" stroke-width="2.34" fill="none" stroke-linecap="round" filter="url(#bl1)"/>
<path d="M737.8 117.75C736.72 118.14 733.49 119.14 731.33 120.06C729.17 120.99 727.01 121.91 724.85 123.3C722.69 124.69 720.07 127.06 718.38 128.39C716.68 129.72 715.29 130.78 714.68 131.26" stroke="#868686" stroke-width="1.8" fill="none" stroke-linecap="round" filter="url(#bl2)"/>
<path d="M730.4 114.98C729.32 115.72 726.55 118.06 723.93 119.42C721.31 120.77 717.38 122.13 714.68 123.12C711.98 124.1 708.9 124.97 707.74 125.34" stroke="#747474" stroke-width="1.62" fill="none" stroke-linecap="round" filter="url(#bl2)"/>
<path d="M736.88 104.62C736.42 105.57 735.18 108.62 734.1 110.35C733.02 112.08 731.02 114.21 730.4 114.98" stroke="#535353" stroke-width="1.8" fill="none" stroke-linecap="round" filter="url(#bl2)"/>
<path d="M745.2 120.99C744.59 121.36 743.05 122.98 741.5 123.21C739.96 123.44 737.96 122.05 735.95 122.38C733.95 122.7 731.64 124.07 729.48 125.15C727.32 126.23 725.01 127.62 723 128.85C721 130.09 719.3 131.69 717.45 132.55C715.6 133.42 712.83 133.79 711.9 134.03" stroke="#595959" stroke-width="1.8" fill="none" stroke-linecap="round" filter="url(#bl2)"/>
<path d="M707.28 128.11C707.4 128.82 707.21 131.38 708.02 132.37C708.82 133.35 711.41 133.76 712.09 134.03" stroke="#777777" stroke-width="2.34" fill="none" stroke-linecap="round" filter="url(#bl2)"/>
<path d="M690.35 119.6C690.7 120.28 691.2 122.5 692.48 123.67C693.76 124.84 696.02 126.05 698.03 126.63C700.03 127.22 702.57 127.22 704.5 127.19C706.43 127.16 708.74 126.57 709.59 126.45" stroke="#919191" stroke-width="2.16" fill="none" stroke-linecap="round" filter="url(#bl1)"/>
<path d="M690.16 117.75C690.36 116.44 690.7 114.05 691.55 112.2C692.4 110.35 693.71 108.35 695.25 106.65C696.79 104.96 698.64 103.49 700.8 102.03C702.96 100.56 705.58 98.94 708.2 97.86C710.82 96.78 713.75 96.01 716.53 95.55C719.3 95.09 722.23 94.78 724.85 95.09C727.47 95.4 730.09 96.24 732.25 97.4C734.41 98.56 736.11 100.18 737.8 102.03C739.5 103.88 741.2 106.34 742.43 108.5C743.66 110.66 744.74 112.97 745.2 114.98C745.67 116.98 745.82 119.26 745.2 120.53C744.59 121.79 743.05 122.38 741.5 122.56C739.96 122.75 737.96 121.33 735.95 121.64C733.95 121.95 731.64 123.33 729.48 124.41C727.32 125.49 725.01 126.88 723 128.11C721 129.35 719.3 130.92 717.45 131.81C715.6 132.71 713.49 133.43 711.9 133.48C710.31 133.52 708.7 132.98 707.92 132.09C707.15 131.2 706.95 129.15 707.28 128.11C707.6 127.08 710.33 126.14 709.87 125.89C709.4 125.65 706.47 126.6 704.5 126.63C702.53 126.66 700.03 126.63 698.03 126.08C696.02 125.52 693.76 124.3 692.48 123.3C691.2 122.3 690.73 120.99 690.35 120.06C689.96 119.14 689.96 119.06 690.16 117.75Z" stroke="url(#edge)" stroke-width="2.6" fill="none" filter="url(#bl2)"/>
</g></g>
<g clip-path="url(#cb5)"><g filter="url(#bl4)">
<ellipse cx="648.66" cy="52.79" rx="2.96" ry="2.5" transform="rotate(0 648.66 52.79)" fill="#2a32ba" fill-opacity="0.82"/>
<ellipse cx="665.78" cy="51.4" rx="2.78" ry="2.5" transform="rotate(0 665.78 51.4)" fill="#2a32ba" fill-opacity="0.82"/>
<ellipse cx="670.59" cy="55.29" rx="2.96" ry="3.15" transform="rotate(0 670.59 55.29)" fill="#2a32ba" fill-opacity="0.82"/>
<ellipse cx="664.85" cy="63.15" rx="5.74" ry="5.18" transform="rotate(0 664.85 63.15)" fill="#2a32ba" fill-opacity="0.82"/>
<ellipse cx="662.54" cy="63.61" rx="3.33" ry="3.33" transform="rotate(0 662.54 63.61)" fill="#2a32ba" fill-opacity="0.82"/>
<ellipse cx="667.26" cy="62.96" rx="3.33" ry="3.33" transform="rotate(0 667.26 62.96)" fill="#2a32ba" fill-opacity="0.82"/>
<ellipse cx="638.03" cy="63.43" rx="4.16" ry="2.59" transform="rotate(10 638.03 63.43)" fill="#2a32ba" fill-opacity="0.82"/>
<ellipse cx="635.71" cy="65.74" rx="1.67" ry="2.78" transform="rotate(0 635.71 65.74)" fill="#2a32ba" fill-opacity="0.82"/>
<ellipse cx="645.89" cy="70.36" rx="3.52" ry="2.78" transform="rotate(0 645.89 70.36)" fill="#2a32ba" fill-opacity="0.82"/>
<ellipse cx="649.68" cy="73.79" rx="3.15" ry="3.33" transform="rotate(0 649.68 73.79)" fill="#2a32ba" fill-opacity="0.82"/>
<ellipse cx="669.48" cy="70.46" rx="1.2" ry="1.39" transform="rotate(0 669.48 70.46)" fill="#2a32ba" fill-opacity="0.82"/>
<ellipse cx="676.42" cy="60.65" rx="1.11" ry="1.3" transform="rotate(0 676.42 60.65)" fill="#2a32ba" fill-opacity="0.82"/>
<ellipse cx="677.8" cy="68.79" rx="1.2" ry="3.7" transform="rotate(0 677.8 68.79)" fill="#2a32ba" fill-opacity="0.82"/>
<ellipse cx="677.16" cy="75.45" rx="6.11" ry="3.33" transform="rotate(0 677.16 75.45)" fill="#2a32ba" fill-opacity="0.82"/>
<ellipse cx="678.91" cy="75.08" rx="3.15" ry="2.78" transform="rotate(0 678.91 75.08)" fill="#2a32ba" fill-opacity="0.82"/>
<ellipse cx="660.69" cy="57.88" rx="0.93" ry="1.11" transform="rotate(0 660.69 57.88)" fill="#2a32ba" fill-opacity="0.82"/>
<ellipse cx="668.55" cy="58.8" rx="1.85" ry="2.31" transform="rotate(0 668.55 58.8)" fill="#2a32ba" fill-opacity="0.82"/>
<ellipse cx="673.18" cy="62.96" rx="1.67" ry="2.04" transform="rotate(0 673.18 62.96)" fill="#2a32ba" fill-opacity="0.82"/>
<ellipse cx="639.88" cy="68.51" rx="0.74" ry="0.74" transform="rotate(0 639.88 68.51)" fill="#2a32ba" fill-opacity="0.82"/>
<ellipse cx="682.43" cy="74.53" rx="1.3" ry="1.85" transform="rotate(0 682.43 74.53)" fill="#2a32ba" fill-opacity="0.82"/>
<ellipse cx="648.66" cy="52.79" rx="1.78" ry="1.5" transform="rotate(0 648.66 52.79)" fill="#35c4e6"/>
<ellipse cx="665.78" cy="51.4" rx="1.67" ry="1.5" transform="rotate(0 665.78 51.4)" fill="#35c4e6"/>
<ellipse cx="670.59" cy="55.29" rx="2.01" ry="2.14" transform="rotate(0 670.59 55.29)" fill="#35c4e6"/>
<ellipse cx="664.85" cy="63.15" rx="3.44" ry="3.11" transform="rotate(0 664.85 63.15)" fill="#35c4e6"/>
<ellipse cx="662.54" cy="63.61" rx="2.26" ry="2.26" transform="rotate(0 662.54 63.61)" fill="#35c4e6"/>
<ellipse cx="667.26" cy="62.96" rx="2.26" ry="2.26" transform="rotate(0 667.26 62.96)" fill="#35c4e6"/>
<ellipse cx="649.68" cy="73.79" rx="2.14" ry="2.26" transform="rotate(0 649.68 73.79)" fill="#35c4e6"/>
<ellipse cx="677.16" cy="75.45" rx="3.66" ry="2" transform="rotate(0 677.16 75.45)" fill="#35c4e6"/>
<ellipse cx="678.91" cy="75.08" rx="2.14" ry="1.89" transform="rotate(0 678.91 75.08)" fill="#35c4e6"/>
<ellipse cx="670.59" cy="55.29" rx="0.95" ry="1.01" transform="rotate(0 670.59 55.29)" fill="#f4e22a"/>
<ellipse cx="662.54" cy="63.61" rx="1.07" ry="1.07" transform="rotate(0 662.54 63.61)" fill="#f4e22a"/>
<ellipse cx="667.26" cy="62.96" rx="1.07" ry="1.07" transform="rotate(0 667.26 62.96)" fill="#f4e22a"/>
<ellipse cx="649.68" cy="73.79" rx="1.01" ry="1.07" transform="rotate(0 649.68 73.79)" fill="#f4e22a"/>
<ellipse cx="678.91" cy="75.08" rx="1.01" ry="0.89" transform="rotate(0 678.91 75.08)" fill="#f4e22a"/>
</g></g>
<g clip-path="url(#cb6)"><g filter="url(#bl4)">
<ellipse cx="705.89" cy="56.03" rx="3.15" ry="2.78" transform="rotate(20 705.89 56.03)" fill="#2a32ba" fill-opacity="0.82"/>
<ellipse cx="711.9" cy="63.43" rx="5.74" ry="3.33" transform="rotate(20 711.9 63.43)" fill="#2a32ba" fill-opacity="0.82"/>
<ellipse cx="709.13" cy="60.19" rx="1.85" ry="2.22" transform="rotate(0 709.13 60.19)" fill="#2a32ba" fill-opacity="0.82"/>
<ellipse cx="696.18" cy="71.75" rx="4.16" ry="4.53" transform="rotate(0 696.18 71.75)" fill="#2a32ba" fill-opacity="0.82"/>
<ellipse cx="697.1" cy="74.53" rx="2.59" ry="2.41" transform="rotate(0 697.1 74.53)" fill="#2a32ba" fill-opacity="0.82"/>
<ellipse cx="692.94" cy="72.68" rx="1.85" ry="2.78" transform="rotate(0 692.94 72.68)" fill="#2a32ba" fill-opacity="0.82"/>
<ellipse cx="704.5" cy="70.83" rx="1.85" ry="3.33" transform="rotate(0 704.5 70.83)" fill="#2a32ba" fill-opacity="0.82"/>
<ellipse cx="716.53" cy="75.64" rx="6.01" ry="2.5" transform="rotate(10 716.53 75.64)" fill="#2a32ba" fill-opacity="0.82"/>
<ellipse cx="724.85" cy="74.53" rx="3.15" ry="2.68" transform="rotate(0 724.85 74.53)" fill="#2a32ba" fill-opacity="0.82"/>
<ellipse cx="723" cy="79.89" rx="3.15" ry="2.59" transform="rotate(0 723 79.89)" fill="#2a32ba" fill-opacity="0.82"/>
<ellipse cx="713.75" cy="81.19" rx="3.15" ry="2.59" transform="rotate(0 713.75 81.19)" fill="#2a32ba" fill-opacity="0.82"/>
<ellipse cx="721.15" cy="85.44" rx="3.7" ry="2.41" transform="rotate(20 721.15 85.44)" fill="#2a32ba" fill-opacity="0.82"/>
<ellipse cx="734.1" cy="58.34" rx="2.04" ry="0.83" transform="rotate(10 734.1 58.34)" fill="#2a32ba" fill-opacity="0.82"/>
<ellipse cx="739.65" cy="63.43" rx="2.04" ry="2.96" transform="rotate(-20 739.65 63.43)" fill="#2a32ba" fill-opacity="0.82"/>
<ellipse cx="740.76" cy="67.87" rx="2.04" ry="2.04" transform="rotate(0 740.76 67.87)" fill="#2a32ba" fill-opacity="0.82"/>
<ellipse cx="742.61" cy="73.79" rx="0.83" ry="2.22" transform="rotate(0 742.61 73.79)" fill="#2a32ba" fill-opacity="0.82"/>
<ellipse cx="726.7" cy="65.74" rx="1.02" ry="1.94" transform="rotate(10 726.7 65.74)" fill="#2a32ba" fill-opacity="0.82"/>
<ellipse cx="700.8" cy="67.13" rx="1.3" ry="2.96" transform="rotate(-20 700.8 67.13)" fill="#2a32ba" fill-opacity="0.82"/>
<ellipse cx="707.74" cy="75.45" rx="2.22" ry="1.67" transform="rotate(0 707.74 75.45)" fill="#2a32ba" fill-opacity="0.82"/>
<ellipse cx="716.53" cy="70.83" rx="2.96" ry="1.02" transform="rotate(15 716.53 70.83)" fill="#2a32ba" fill-opacity="0.82"/>
<ellipse cx="735.95" cy="79.15" rx="1.48" ry="0.74" transform="rotate(0 735.95 79.15)" fill="#2a32ba" fill-opacity="0.82"/>
<ellipse cx="705.89" cy="56.03" rx="2.14" ry="1.89" transform="rotate(20 705.89 56.03)" fill="#35c4e6"/>
<ellipse cx="711.9" cy="63.43" rx="3.44" ry="2" transform="rotate(20 711.9 63.43)" fill="#35c4e6"/>
<ellipse cx="697.1" cy="74.53" rx="1.55" ry="1.44" transform="rotate(0 697.1 74.53)" fill="#35c4e6"/>
<ellipse cx="692.94" cy="72.68" rx="1.11" ry="1.67" transform="rotate(0 692.94 72.68)" fill="#35c4e6"/>
<ellipse cx="723" cy="79.89" rx="2.14" ry="1.76" transform="rotate(0 723 79.89)" fill="#35c4e6"/>
<ellipse cx="713.75" cy="81.19" rx="2.14" ry="1.76" transform="rotate(0 713.75 81.19)" fill="#35c4e6"/>
<ellipse cx="721.15" cy="85.44" rx="2.52" ry="1.64" transform="rotate(20 721.15 85.44)" fill="#35c4e6"/>
<ellipse cx="740.76" cy="67.87" rx="1.22" ry="1.22" transform="rotate(0 740.76 67.87)" fill="#35c4e6"/>
<ellipse cx="705.89" cy="56.03" rx="1.01" ry="0.89" transform="rotate(20 705.89 56.03)" fill="#f4e22a"/>
<ellipse cx="723" cy="79.89" rx="1.01" ry="0.83" transform="rotate(0 723 79.89)" fill="#f4e22a"/>
<ellipse cx="713.75" cy="81.19" rx="1.01" ry="0.83" transform="rotate(0 713.75 81.19)" fill="#f4e22a"/>
<ellipse cx="721.15" cy="85.44" rx="1.18" ry="0.77" transform="rotate(20 721.15 85.44)" fill="#f4e22a"/>
</g></g>
<g clip-path="url(#cb7)"><g filter="url(#bl4)">
<path d="M640.05 102.4C640.46 100.88 642.67 98.26 644.18 97.44C645.7 96.61 647.63 96.75 649.14 97.44C650.66 98.13 651.76 100.74 653.27 101.57C654.79 102.4 656.99 101.71 658.23 102.4C659.47 103.09 660.71 104.33 660.71 105.7C660.71 107.08 659.47 109.7 658.23 110.66C656.99 111.63 654.79 111.21 653.27 111.49C651.76 111.76 650.38 112.87 649.14 112.31C647.9 111.76 647.07 109.15 645.83 108.18C644.6 107.22 642.67 107.49 641.7 106.53C640.74 105.56 639.64 103.91 640.05 102.4Z" stroke="none" stroke-width="1" fill="#2a32ba" fill-opacity="0.92"/>
<path d="M660.71 100.74C661.4 99.92 663.47 98.82 664.84 99.09C666.22 99.37 667.46 101.43 668.98 102.4C670.49 103.36 672.28 104.19 673.93 104.88C675.59 105.56 677.65 105.29 678.89 106.53C680.13 107.77 681.37 110.66 681.37 112.31C681.37 113.97 679.86 115.9 678.89 116.45C677.93 117 676.83 116.17 675.59 115.62C674.35 115.07 673.11 114.1 671.45 113.14C669.8 112.18 667.18 110.8 665.67 109.83C664.15 108.87 663.19 108.32 662.36 107.36C661.54 106.39 660.99 105.15 660.71 104.05C660.44 102.95 660.02 101.57 660.71 100.74Z" stroke="none" stroke-width="1" fill="#2a32ba" fill-opacity="0.92"/>
<path d="M635.92 110.17C636.55 109.97 639.36 110.47 640.05 110.83C640.74 111.18 640.68 112.12 640.05 112.31C639.42 112.51 636.94 112.34 636.25 111.98C635.56 111.63 635.28 110.36 635.92 110.17Z" stroke="none" stroke-width="1" fill="#2a32ba" fill-opacity="0.9"/>
<path d="M675.59 120.08C676.19 119.53 679.58 119.09 680.55 119.42C681.51 119.75 681.98 121.52 681.37 122.07C680.77 122.62 677.87 123.06 676.91 122.73C675.94 122.4 674.98 120.63 675.59 120.08Z" stroke="none" stroke-width="1" fill="#2a32ba" fill-opacity="0.9"/>
<path d="M645.83 125.04C646.52 125.04 649.58 126.25 650.13 126.69C650.68 127.13 649.83 127.69 649.14 127.69C648.45 127.69 646.55 127.13 646 126.69C645.45 126.25 645.15 125.04 645.83 125.04Z" stroke="none" stroke-width="1" fill="#2a32ba" fill-opacity="0.9"/>
<path d="M665.17 125.21C665.37 125.01 666.14 125.01 666.33 125.21C666.52 125.4 666.52 126.17 666.33 126.36C666.14 126.56 665.37 126.56 665.17 126.36C664.98 126.17 664.98 125.4 665.17 125.21Z" stroke="none" stroke-width="1" fill="#2a32ba" fill-opacity="0.9"/>
</g></g>
<g clip-path="url(#cb7)"><g filter="url(#bl6)">
<path d="M641.7 102.4C642.12 101.35 643.77 99.15 645.01 98.6C646.25 98.04 647.9 98.32 649.14 99.09C650.38 99.86 651.07 102.4 652.45 103.22C653.82 104.05 656.44 103.36 657.4 104.05C658.37 104.74 658.78 106.39 658.23 107.36C657.68 108.32 655.48 109.42 654.1 109.83C652.72 110.25 651.21 110.52 649.97 109.83C648.73 109.15 647.9 106.53 646.66 105.7C645.42 104.88 643.36 105.43 642.53 104.88C641.7 104.33 641.29 103.44 641.7 102.4Z" stroke="none" stroke-width="1" fill="#35c4e6"/>
<path d="M662.03 101.57C662.45 100.83 664.46 100.83 665.67 101.24C666.88 101.65 667.93 103.17 669.31 104.05C670.68 104.93 672.47 105.7 673.93 106.53C675.39 107.36 677.18 107.91 678.07 109.01C678.95 110.11 679.64 112.31 679.22 113.14C678.81 113.97 676.88 114.24 675.59 113.97C674.29 113.69 672.97 112.4 671.45 111.49C669.94 110.58 667.87 109.48 666.5 108.51C665.12 107.55 663.93 106.86 663.19 105.7C662.45 104.55 661.62 102.31 662.03 101.57Z" stroke="none" stroke-width="1" fill="#35c4e6"/>
<path d="M643.36 101.9C643.63 101.16 644.93 99.37 645.83 99.09C646.74 98.82 647.85 99.34 648.81 100.25C649.77 101.16 650.46 103.64 651.62 104.55C652.78 105.45 655.06 105.1 655.75 105.7C656.44 106.31 656.58 107.77 655.75 108.18C654.93 108.6 652.17 108.73 650.79 108.18C649.42 107.63 648.59 105.65 647.49 104.88C646.39 104.1 644.87 104.05 644.18 103.55C643.49 103.06 643.08 102.64 643.36 101.9Z" stroke="none" stroke-width="1" fill="#b8e850"/>
<path d="M663.19 104.05C663.33 103.42 665.26 103.5 666.5 104.05C667.74 104.6 669.25 106.25 670.63 107.36C672.01 108.46 674.21 109.83 674.76 110.66C675.31 111.49 674.76 112.4 673.93 112.31C673.11 112.23 671.18 110.91 669.8 110.17C668.42 109.42 666.77 108.87 665.67 107.85C664.57 106.83 663.05 104.68 663.19 104.05Z" stroke="none" stroke-width="1" fill="#b8e850"/>
<path d="M644.18 101.57C643.96 100.8 645.45 99.7 646.17 99.59C646.88 99.48 647.65 100.03 648.48 100.91C649.31 101.79 650.02 103.97 651.12 104.88C652.23 105.79 654.54 105.87 655.09 106.36C655.64 106.86 655.15 107.66 654.43 107.85C653.71 108.04 651.95 108.13 650.79 107.52C649.64 106.91 648.59 105.21 647.49 104.21C646.39 103.22 644.4 102.34 644.18 101.57Z" stroke="none" stroke-width="1" fill="#f4e22a"/>
<path d="M663.69 104.88C663.88 104.46 665.45 104.38 666.5 104.88C667.54 105.37 669 107.02 669.97 107.85C670.93 108.68 672.12 109.39 672.28 109.83C672.45 110.28 671.62 110.61 670.96 110.5C670.3 110.39 669.25 109.7 668.31 109.17C667.38 108.65 666.11 108.07 665.34 107.36C664.57 106.64 663.49 105.29 663.69 104.88Z" stroke="none" stroke-width="1" fill="#f4e22a"/>
<path d="M645.5 100.91C645.64 100.47 646.61 99.86 647.49 100.58C648.37 101.29 649.64 104.19 650.79 105.21C651.95 106.23 654.02 106.28 654.43 106.69C654.84 107.11 654.02 107.66 653.27 107.69C652.53 107.71 651.07 107.6 649.97 106.86C648.87 106.12 647.4 104.21 646.66 103.22C645.92 102.23 645.37 101.35 645.5 100.91Z" stroke="none" stroke-width="1" fill="#f08a1c"/>
<path d="M664.02 105.37C664.21 105.1 665.61 105.12 666.5 105.54C667.38 105.95 669 107.33 669.31 107.85C669.61 108.37 668.98 108.79 668.31 108.68C667.65 108.57 666.06 107.74 665.34 107.19C664.62 106.64 663.82 105.65 664.02 105.37Z" stroke="none" stroke-width="1" fill="#f08a1c"/>
<path d="M648.31 103.22C648.64 103.33 649.97 105.1 650.79 105.7C651.62 106.31 653.27 106.69 653.27 106.86C653.27 107.02 651.54 107 650.79 106.69C650.05 106.39 649.22 105.62 648.81 105.04C648.4 104.46 647.98 103.11 648.31 103.22Z" stroke="none" stroke-width="1" fill="#c41212"/>
<path d="M664.51 105.87C664.57 105.7 665.89 105.92 666.5 106.2C667.1 106.47 668.2 107.36 668.15 107.52C668.09 107.69 666.77 107.47 666.17 107.19C665.56 106.91 664.46 106.03 664.51 105.87Z" stroke="none" stroke-width="1" fill="#c41212"/>
<path d="M676.91 120.74C677.29 120.47 679.33 120.25 679.88 120.41C680.44 120.58 680.6 121.46 680.21 121.74C679.83 122.01 678.12 122.23 677.57 122.07C677.02 121.9 676.52 121.02 676.91 120.74Z" stroke="none" stroke-width="1" fill="#3d7be8"/>
</g></g>
<g clip-path="url(#cb8)"><g filter="url(#bl4)">
<path d="M691.29 117.27C691.15 115.76 691.15 113.97 692.12 112.31C693.08 110.66 695.15 108.6 697.07 107.36C699 106.12 701.76 105.56 703.69 104.88C705.61 104.19 707.54 104.05 708.64 103.22C709.75 102.4 709.61 99.92 710.3 99.92C710.99 99.92 711.4 102.67 712.78 103.22C714.15 103.77 716.77 103.72 718.56 103.22C720.35 102.73 721.73 100.94 723.52 100.25C725.31 99.56 727.79 99.01 729.31 99.09C730.82 99.17 732.2 99.78 732.61 100.74C733.02 101.71 732.61 103.64 731.79 104.88C730.96 106.12 729.31 107.36 727.65 108.18C726 109.01 723.93 109.61 721.87 109.83C719.8 110.06 717.32 109.45 715.26 109.5C713.19 109.56 711.4 109.56 709.47 110.17C707.54 110.77 705.34 112.09 703.69 113.14C702.03 114.19 700.66 115.21 699.55 116.45C698.45 117.69 698.18 119.75 697.07 120.58C695.97 121.4 693.91 121.96 692.94 121.4C691.98 120.85 691.43 118.79 691.29 117.27Z" stroke="none" stroke-width="1" fill="#2a32ba" fill-opacity="0.9"/>
<path d="M733.44 117.27C734.48 116.89 738.26 117.22 740.05 117.77C741.84 118.32 743.77 119.64 744.18 120.58C744.6 121.52 743.63 123.03 742.53 123.39C741.43 123.75 739.03 123.28 737.57 122.73C736.11 122.18 734.46 120.99 733.77 120.08C733.08 119.17 732.39 117.66 733.44 117.27Z" stroke="none" stroke-width="1" fill="#2a32ba" fill-opacity="0.92"/>
<path d="M719.39 127.69C720.44 126.78 724.48 124.93 726.83 123.88C729.17 122.84 732.2 121.6 733.44 121.4C734.68 121.21 735.23 122.01 734.26 122.73C733.3 123.44 729.94 124.6 727.65 125.7C725.37 126.8 721.92 129.01 720.55 129.34C719.17 129.67 718.34 128.6 719.39 127.69Z" stroke="none" stroke-width="1" fill="#2a32ba" fill-opacity="0.9"/>
<path d="M708.64 128.35C709.53 128.46 711.95 130.36 713.6 130.66C715.26 130.96 717.68 130.06 718.56 130.17C719.44 130.28 719.72 130.99 718.89 131.32C718.07 131.65 715.37 132.37 713.6 132.15C711.84 131.93 709.14 130.63 708.31 130C707.49 129.37 707.76 128.24 708.64 128.35Z" stroke="none" stroke-width="1" fill="#2a32ba" fill-opacity="0.9"/>
<path d="M705.01 122.73C705.39 122.34 706.94 122.34 707.32 122.73C707.71 123.11 707.71 124.66 707.32 125.04C706.94 125.43 705.39 125.43 705.01 125.04C704.62 124.66 704.62 123.11 705.01 122.73Z" stroke="none" stroke-width="1" fill="#2a32ba" fill-opacity="0.9"/>
<path d="M727.16 118.43C727.49 118.1 728.81 118.1 729.14 118.43C729.47 118.76 729.47 120.08 729.14 120.41C728.81 120.74 727.49 120.74 727.16 120.41C726.83 120.08 726.83 118.76 727.16 118.43Z" stroke="none" stroke-width="1" fill="#2a32ba" fill-opacity="0.9"/>
<path d="M733.44 104.55C733.71 104.21 734.82 104.21 735.09 104.55C735.37 104.88 735.37 106.2 735.09 106.53C734.82 106.86 733.71 106.86 733.44 106.53C733.16 106.2 733.16 104.88 733.44 104.55Z" stroke="none" stroke-width="1" fill="#2a32ba" fill-opacity="0.9"/>
</g></g>
<g clip-path="url(#cb8)"><g filter="url(#bl6)">
<path d="M698.73 112.31C699.28 111.35 701.76 109.28 703.69 108.18C705.61 107.08 708.23 105.98 710.3 105.7C712.36 105.43 714.15 106.8 716.08 106.53C718.01 106.25 720.02 104.93 721.87 104.05C723.71 103.17 726.06 101.24 727.16 101.24C728.26 101.24 729.09 103.03 728.48 104.05C727.87 105.07 725.45 106.61 723.52 107.36C721.59 108.1 719.11 108.32 716.91 108.51C714.71 108.71 712.23 108.15 710.3 108.51C708.37 108.87 706.99 109.75 705.34 110.66C703.69 111.57 701.48 113.69 700.38 113.97C699.28 114.24 698.18 113.28 698.73 112.31Z" stroke="none" stroke-width="1" fill="#35c4e6"/>
<path d="M700.05 111.82C700.68 111.02 703.3 109.26 705.01 108.35C706.72 107.44 709.36 106.42 710.3 106.36C711.23 106.31 711.32 107.41 710.63 108.02C709.94 108.62 707.74 109.15 706.17 110C704.6 110.85 702.23 112.84 701.21 113.14C700.19 113.44 699.42 112.62 700.05 111.82Z" stroke="none" stroke-width="1" fill="#b8e850"/>
<path d="M719.55 106.03C720.1 105.23 723.55 103.2 724.84 102.56C726.14 101.93 727.07 101.76 727.32 102.23C727.57 102.7 727.29 104.52 726.33 105.37C725.37 106.23 722.67 107.25 721.54 107.36C720.41 107.47 719 106.83 719.55 106.03Z" stroke="none" stroke-width="1" fill="#b8e850"/>
<path d="M701.37 111.16C701.98 110.55 704.24 109.23 705.67 108.51C707.1 107.8 709.22 107 709.97 106.86C710.71 106.72 710.77 107.25 710.13 107.69C709.5 108.13 707.52 108.76 706.17 109.5C704.82 110.25 702.83 111.87 702.03 112.15C701.23 112.42 700.77 111.76 701.37 111.16Z" stroke="none" stroke-width="1" fill="#f4e22a"/>
<path d="M720.88 105.7C721.43 105.01 724.18 103.22 725.17 102.73C726.17 102.23 726.72 102.34 726.83 102.73C726.94 103.11 726.66 104.35 725.83 105.04C725.01 105.73 722.69 106.75 721.87 106.86C721.04 106.97 720.33 106.39 720.88 105.7Z" stroke="none" stroke-width="1" fill="#f4e22a"/>
<path d="M703.69 109.67C704.29 109.23 707.71 107.82 708.64 107.52C709.58 107.22 709.91 107.41 709.31 107.85C708.7 108.29 705.94 109.86 705.01 110.17C704.07 110.47 703.08 110.11 703.69 109.67Z" stroke="none" stroke-width="1" fill="#f08a1c"/>
<path d="M722.36 105.21C722.78 104.68 725.04 103.25 725.67 103.06C726.3 102.87 726.58 103.53 726.17 104.05C725.75 104.57 723.82 106.01 723.19 106.2C722.56 106.39 721.95 105.73 722.36 105.21Z" stroke="none" stroke-width="1" fill="#f08a1c"/>
<path d="M735.42 118.93C736.25 118.76 738.84 118.73 740.05 119.09C741.26 119.45 742.47 120.52 742.69 121.07C742.91 121.63 742.23 122.29 741.37 122.4C740.52 122.51 738.62 122.12 737.57 121.74C736.52 121.35 735.45 120.55 735.09 120.08C734.73 119.61 734.6 119.09 735.42 118.93Z" stroke="none" stroke-width="1" fill="#35c4e6"/>
<path d="M737.74 119.75C738.18 119.59 739.72 119.81 740.38 120.08C741.04 120.36 741.76 121.1 741.7 121.4C741.65 121.71 740.71 121.96 740.05 121.9C739.39 121.85 738.12 121.43 737.74 121.07C737.35 120.72 737.29 119.92 737.74 119.75Z" stroke="none" stroke-width="1" fill="#b8e850"/>
<path d="M738.73 120.25C738.95 120.14 740.02 120.39 740.38 120.58C740.74 120.77 741.1 121.29 740.88 121.4C740.66 121.52 739.42 121.43 739.06 121.24C738.7 121.05 738.51 120.36 738.73 120.25Z" stroke="none" stroke-width="1" fill="#f4e22a"/>
<path d="M722.69 126.69C723.3 126.17 726.3 124.66 727.16 124.38C728.01 124.1 728.42 124.52 727.82 125.04C727.21 125.56 724.37 127.25 723.52 127.52C722.67 127.8 722.09 127.22 722.69 126.69Z" stroke="none" stroke-width="1" fill="#35c4e6"/>
<path d="M723.85 126.36C724.21 126.06 726 125.21 726.5 125.04C726.99 124.88 727.18 125.07 726.83 125.37C726.47 125.67 724.84 126.69 724.35 126.86C723.85 127.02 723.49 126.67 723.85 126.36Z" stroke="none" stroke-width="1" fill="#b8e850"/>
<path d="M692.94 114.79C693.16 114.3 694.57 113.25 695.09 113.14C695.61 113.03 696.3 113.64 696.08 114.13C695.86 114.63 694.29 116.01 693.77 116.12C693.25 116.23 692.72 115.29 692.94 114.79Z" stroke="none" stroke-width="1" fill="#35c4e6"/>
</g></g>
<rect x="587.6" y="140.3" width="54.6" height="4" fill="url(#jet)"/>
<text x="587.4" y="151.6" font-size="6.4" text-anchor="middle">3.6</text>
<text x="642.3" y="151.6" font-size="6.4" text-anchor="middle">6.5</text>
<text x="615" y="160.5" font-size="8.2" text-anchor="middle" textLength="24.5" lengthAdjust="spacingAndGlyphs"><tspan font-style="italic">t</tspan> value</text>
</svg>
</body></html>
